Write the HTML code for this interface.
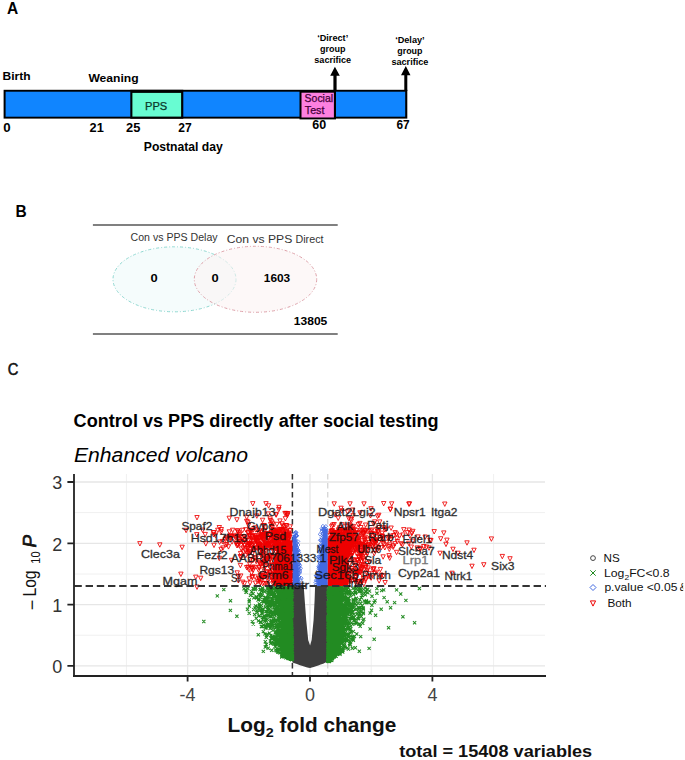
<!DOCTYPE html>
<html><head><meta charset="utf-8"><style>
html,body{margin:0;padding:0;background:#fff;}
svg{display:block;font-family:"Liberation Sans", sans-serif;}
</style></head><body>
<svg width="685" height="760" viewBox="0 0 685 760">
<rect width="685" height="760" fill="#fff"/>
<text x="7.0" y="13.5" font-size="16" font-weight="bold" textLength="11.2" lengthAdjust="spacingAndGlyphs" >A</text>
<text x="2.6" y="79.7" font-size="11.5" font-weight="bold" textLength="28.0" lengthAdjust="spacingAndGlyphs" >Birth</text>
<text x="88.4" y="81.6" font-size="11" font-weight="bold" textLength="50.3" lengthAdjust="spacingAndGlyphs" >Weaning</text>
<rect x="3.6" y="89.8" width="403.7" height="28.8" fill="#000"/>
<rect x="5.6" y="91.7" width="399.6" height="25.0" fill="#1085ff"/>
<rect x="130.3" y="89.8" width="53.0" height="28.9" fill="#000"/>
<rect x="132.4" y="92.9" width="48.7" height="23.7" fill="#68fcd2"/>
<text x="145.0" y="109.6" font-size="10" fill="#0b3a2a" textLength="22.2" lengthAdjust="spacingAndGlyphs" stroke="#0b3a2a" stroke-width="0.25">PPS</text>
<rect x="299.5" y="90.8" width="36.5" height="28.6" fill="#000"/>
<rect x="301.5" y="92.7" width="32.4" height="24.8" fill="#fd80e0"/>
<clipPath id="sc"><rect x="301.5" y="92.7" width="32.4" height="24.8"/></clipPath>
<text x="304.6" y="101.6" font-size="10.2" fill="#45003a" textLength="28.5" lengthAdjust="spacingAndGlyphs" clip-path="url(#sc)" stroke="#45003a" stroke-width="0.25">Social</text>
<text x="304.8" y="114.2" font-size="10.2" fill="#45003a" textLength="19.6" lengthAdjust="spacingAndGlyphs" stroke="#45003a" stroke-width="0.25">Test</text>
<text x="3.2" y="131.8" font-size="12" font-weight="bold" textLength="7.4" lengthAdjust="spacingAndGlyphs" >0</text>
<text x="89.6" y="131.5" font-size="12" font-weight="bold" textLength="14.2" lengthAdjust="spacingAndGlyphs" >21</text>
<text x="126.0" y="131.5" font-size="12" font-weight="bold" textLength="14.3" lengthAdjust="spacingAndGlyphs" >25</text>
<text x="178.2" y="131.8" font-size="12" font-weight="bold" textLength="13.4" lengthAdjust="spacingAndGlyphs" >27</text>
<text x="312.2" y="129.1" font-size="12" font-weight="bold" textLength="13.9" lengthAdjust="spacingAndGlyphs" >60</text>
<text x="396.4" y="129.2" font-size="12" font-weight="bold" textLength="13.2" lengthAdjust="spacingAndGlyphs" >67</text>
<text x="143.8" y="151.2" font-size="12" font-weight="bold" textLength="79.0" lengthAdjust="spacingAndGlyphs" >Postnatal day</text>
<text x="332.7" y="41.0" font-size="9" font-weight="bold" text-anchor="middle" textLength="31.0" lengthAdjust="spacingAndGlyphs" >&#8216;Direct&#8217;</text>
<text x="332.7" y="51.8" font-size="9" font-weight="bold" text-anchor="middle" textLength="25.5" lengthAdjust="spacingAndGlyphs" >group</text>
<text x="332.7" y="63.0" font-size="9" font-weight="bold" text-anchor="middle" textLength="36.8" lengthAdjust="spacingAndGlyphs" >sacrifice</text>
<text x="409.9" y="43.4" font-size="9" font-weight="bold" text-anchor="middle" textLength="29.5" lengthAdjust="spacingAndGlyphs" >&#8216;Delay&#8217;</text>
<text x="409.9" y="53.9" font-size="9" font-weight="bold" text-anchor="middle" textLength="25.2" lengthAdjust="spacingAndGlyphs" >group</text>
<text x="409.9" y="64.5" font-size="9" font-weight="bold" text-anchor="middle" textLength="37.0" lengthAdjust="spacingAndGlyphs" >sacrifice</text>
<path d="M334.9 66.7 L339.8 75.8 L336.6 75.8 L336.6 91 L333.4 91 L333.4 75.8 L330.2 75.8 Z" fill="#000"/>
<path d="M405.8 66.0 L410.5 75.2 L407.3 75.2 L407.3 91 L404.3 91 L404.3 75.2 L401.0 75.2 Z" fill="#000"/>
<text x="15.6" y="216.7" font-size="16" font-weight="bold" textLength="11.2" lengthAdjust="spacingAndGlyphs" >B</text>
<rect x="92.9" y="224" width="244.8" height="2" fill="#808080"/>
<rect x="92.9" y="333" width="244.8" height="2" fill="#808080"/>
<ellipse cx="174.5" cy="279.3" rx="61.5" ry="32.5" fill="#f5fcfc" stroke="#8fd8d1" stroke-width="1" stroke-dasharray="3 2 1 2"/>
<ellipse cx="255.5" cy="279.3" rx="61.2" ry="33" fill="#fcf3f4" fill-opacity="0.6" stroke="#dea2aa" stroke-width="1" stroke-dasharray="3 2 1 2"/>
<text x="130.6" y="241.3" font-size="10" fill="#333" textLength="87.0" lengthAdjust="spacingAndGlyphs" >Con vs PPS Delay</text>
<text x="226.7" y="243.4" font-size="11.5" fill="#333" textLength="65.6" lengthAdjust="spacingAndGlyphs" >Con vs PPS</text>
<text x="295.5" y="243.4" font-size="10" fill="#333" textLength="28.0" lengthAdjust="spacingAndGlyphs" >Direct</text>
<text x="150.6" y="281.9" font-size="11.5" font-weight="bold" textLength="7.2" lengthAdjust="spacingAndGlyphs" >0</text>
<text x="211.4" y="282.0" font-size="11.5" font-weight="bold" textLength="7.2" lengthAdjust="spacingAndGlyphs" >0</text>
<text x="263.8" y="281.9" font-size="11.5" font-weight="bold" textLength="26.4" lengthAdjust="spacingAndGlyphs" >1603</text>
<text x="293.8" y="324.6" font-size="11.5" font-weight="bold" textLength="33.5" lengthAdjust="spacingAndGlyphs" >13805</text>
<text x="7.8" y="374.5" font-size="16" fill="#111" textLength="10.6" lengthAdjust="spacingAndGlyphs" stroke="#111" stroke-width="0.55">C</text>
<text x="73.6" y="426.9" font-size="18" font-weight="bold" textLength="365.0" lengthAdjust="spacingAndGlyphs" >Control vs PPS directly after social testing</text>
<text x="74.0" y="462.2" font-size="20" font-style="italic" textLength="174.0" lengthAdjust="spacingAndGlyphs" >Enhanced volcano</text>
<path d="M74 635.2H545 M74 574.0H545 M74 512.6H545 M126.4 474V676 M248.8 474V676 M371.2 474V676 M493.6 474V676" stroke="#f0f0f0" stroke-width="1" fill="none"/>
<path d="M74 665.9H545 M74 604.6H545 M74 543.3H545 M74 482.0H545 M187.6 474V676 M310.0 474V676 M432.4 474V676" stroke="#e6e6e6" stroke-width="1.3" fill="none"/>
<path d="M292.4 474 V676" stroke="#333" stroke-width="1.5" stroke-dasharray="5.5 3.5" fill="none"/>
<path d="M327.8 474 V676" stroke="#c8c8c8" stroke-width="1" stroke-dasharray="5.5 3.5" fill="none"/>
<path d="M292.4 586 L303.7 586 L304.7 600 L306.2 620 L308.2 640 L310.1 645.5 L311.6 640 L313.6 620 L314.6 600 L315.1 586 L327.8 586 L327.8 661.5 C322 664.5 314 667 310.2 668.1 C306 667 298 664.5 292.4 662.4 Z" fill="#3e3e3e"/>
<path d="M292.4 586 L277.2 587.0 277.4 590.0 277.8 593.0 278.2 596.0 278.6 599.0 278.9 602.0 279.2 605.0 279.5 608.0 279.8 611.0 280.1 614.0 280.4 617.0 280.7 620.0 281.1 623.0 281.5 626.0 281.9 629.0 282.3 632.0 282.7 635.0 283.3 638.0 283.9 641.0 284.5 644.0 285.1 647.0 285.7 650.0 287.0 653.0 288.3 656.0 291.2 659.0 L292.4 661 Z" fill="#228b22"/>
<path d="M327.8 586 L343.4 587.0 343.2 590.0 343.0 593.0 342.7 596.0 342.5 599.0 342.2 602.0 341.9 605.0 341.6 608.0 341.3 611.0 341.0 614.0 340.7 617.0 340.4 620.0 339.9 623.0 339.4 626.0 338.8 629.0 338.3 632.0 337.8 635.0 337.2 638.0 336.6 641.0 335.6 644.0 334.6 647.0 333.6 650.0 332.5 653.0 331.1 656.0 329.8 659.0 L327.8 662 Z" fill="#228b22"/>
<path d="M287.2 632.5l3.2 3.2m0 -3.2l-3.2 3.2M282.4 643.7l3.2 3.2m0 -3.2l-3.2 3.2M275.2 608.3l3.2 3.2m0 -3.2l-3.2 3.2M265.5 586.3l3.2 3.2m0 -3.2l-3.2 3.2M285.2 645.3l3.2 3.2m0 -3.2l-3.2 3.2M285.2 608.5l3.2 3.2m0 -3.2l-3.2 3.2M275.7 604.9l3.2 3.2m0 -3.2l-3.2 3.2M281.3 623.5l3.2 3.2m0 -3.2l-3.2 3.2M273.4 645.0l3.2 3.2m0 -3.2l-3.2 3.2M286.9 601.9l3.2 3.2m0 -3.2l-3.2 3.2M287.5 631.5l3.2 3.2m0 -3.2l-3.2 3.2M287.3 588.6l3.2 3.2m0 -3.2l-3.2 3.2M283.2 620.6l3.2 3.2m0 -3.2l-3.2 3.2M289.4 632.8l3.2 3.2m0 -3.2l-3.2 3.2M284.2 622.9l3.2 3.2m0 -3.2l-3.2 3.2M277.2 600.2l3.2 3.2m0 -3.2l-3.2 3.2M277.3 600.8l3.2 3.2m0 -3.2l-3.2 3.2M274.1 586.2l3.2 3.2m0 -3.2l-3.2 3.2M288.9 597.4l3.2 3.2m0 -3.2l-3.2 3.2M290.4 651.5l3.2 3.2m0 -3.2l-3.2 3.2M290.2 649.0l3.2 3.2m0 -3.2l-3.2 3.2M275.2 641.2l3.2 3.2m0 -3.2l-3.2 3.2M289.2 626.2l3.2 3.2m0 -3.2l-3.2 3.2M276.7 650.8l3.2 3.2m0 -3.2l-3.2 3.2M275.8 630.5l3.2 3.2m0 -3.2l-3.2 3.2M282.2 614.8l3.2 3.2m0 -3.2l-3.2 3.2M279.1 597.1l3.2 3.2m0 -3.2l-3.2 3.2M280.8 614.2l3.2 3.2m0 -3.2l-3.2 3.2M282.3 629.9l3.2 3.2m0 -3.2l-3.2 3.2M285.2 633.4l3.2 3.2m0 -3.2l-3.2 3.2M270.4 597.1l3.2 3.2m0 -3.2l-3.2 3.2M287.6 603.7l3.2 3.2m0 -3.2l-3.2 3.2M270.4 593.1l3.2 3.2m0 -3.2l-3.2 3.2M277.6 601.9l3.2 3.2m0 -3.2l-3.2 3.2M259.4 608.3l3.2 3.2m0 -3.2l-3.2 3.2M289.7 635.2l3.2 3.2m0 -3.2l-3.2 3.2M285.2 648.9l3.2 3.2m0 -3.2l-3.2 3.2M288.7 653.2l3.2 3.2m0 -3.2l-3.2 3.2M264.5 596.7l3.2 3.2m0 -3.2l-3.2 3.2M289.3 655.0l3.2 3.2m0 -3.2l-3.2 3.2M288.8 599.4l3.2 3.2m0 -3.2l-3.2 3.2M277.5 633.7l3.2 3.2m0 -3.2l-3.2 3.2M284.1 613.9l3.2 3.2m0 -3.2l-3.2 3.2M280.1 603.7l3.2 3.2m0 -3.2l-3.2 3.2M286.2 651.2l3.2 3.2m0 -3.2l-3.2 3.2M277.0 626.7l3.2 3.2m0 -3.2l-3.2 3.2M285.0 641.9l3.2 3.2m0 -3.2l-3.2 3.2M285.6 613.6l3.2 3.2m0 -3.2l-3.2 3.2M255.2 595.1l3.2 3.2m0 -3.2l-3.2 3.2M280.3 634.9l3.2 3.2m0 -3.2l-3.2 3.2M260.7 624.9l3.2 3.2m0 -3.2l-3.2 3.2M281.2 611.5l3.2 3.2m0 -3.2l-3.2 3.2M285.3 636.8l3.2 3.2m0 -3.2l-3.2 3.2M288.0 624.6l3.2 3.2m0 -3.2l-3.2 3.2M287.9 653.6l3.2 3.2m0 -3.2l-3.2 3.2M290.4 655.4l3.2 3.2m0 -3.2l-3.2 3.2M280.4 642.0l3.2 3.2m0 -3.2l-3.2 3.2M275.9 596.1l3.2 3.2m0 -3.2l-3.2 3.2M289.1 646.6l3.2 3.2m0 -3.2l-3.2 3.2M283.6 632.7l3.2 3.2m0 -3.2l-3.2 3.2M263.7 624.1l3.2 3.2m0 -3.2l-3.2 3.2M284.8 602.8l3.2 3.2m0 -3.2l-3.2 3.2M277.9 613.0l3.2 3.2m0 -3.2l-3.2 3.2M279.2 611.7l3.2 3.2m0 -3.2l-3.2 3.2M280.8 628.6l3.2 3.2m0 -3.2l-3.2 3.2M266.2 606.1l3.2 3.2m0 -3.2l-3.2 3.2M270.0 619.0l3.2 3.2m0 -3.2l-3.2 3.2M287.1 624.3l3.2 3.2m0 -3.2l-3.2 3.2M284.9 652.7l3.2 3.2m0 -3.2l-3.2 3.2M283.9 629.2l3.2 3.2m0 -3.2l-3.2 3.2M285.4 651.3l3.2 3.2m0 -3.2l-3.2 3.2M284.4 654.6l3.2 3.2m0 -3.2l-3.2 3.2M288.6 617.9l3.2 3.2m0 -3.2l-3.2 3.2M290.8 656.7l3.2 3.2m0 -3.2l-3.2 3.2M287.9 645.9l3.2 3.2m0 -3.2l-3.2 3.2M290.7 639.3l3.2 3.2m0 -3.2l-3.2 3.2M286.2 610.7l3.2 3.2m0 -3.2l-3.2 3.2M277.4 601.0l3.2 3.2m0 -3.2l-3.2 3.2M279.7 601.8l3.2 3.2m0 -3.2l-3.2 3.2M288.0 648.5l3.2 3.2m0 -3.2l-3.2 3.2M270.5 621.6l3.2 3.2m0 -3.2l-3.2 3.2M283.5 635.0l3.2 3.2m0 -3.2l-3.2 3.2M289.8 657.5l3.2 3.2m0 -3.2l-3.2 3.2M289.9 632.7l3.2 3.2m0 -3.2l-3.2 3.2M283.1 599.6l3.2 3.2m0 -3.2l-3.2 3.2M288.7 616.6l3.2 3.2m0 -3.2l-3.2 3.2M280.2 646.6l3.2 3.2m0 -3.2l-3.2 3.2M281.9 594.3l3.2 3.2m0 -3.2l-3.2 3.2M290.5 645.7l3.2 3.2m0 -3.2l-3.2 3.2M284.0 624.9l3.2 3.2m0 -3.2l-3.2 3.2M285.2 589.4l3.2 3.2m0 -3.2l-3.2 3.2M290.4 587.4l3.2 3.2m0 -3.2l-3.2 3.2M279.7 604.4l3.2 3.2m0 -3.2l-3.2 3.2M283.5 628.1l3.2 3.2m0 -3.2l-3.2 3.2M278.8 629.9l3.2 3.2m0 -3.2l-3.2 3.2M289.2 636.4l3.2 3.2m0 -3.2l-3.2 3.2M278.6 609.0l3.2 3.2m0 -3.2l-3.2 3.2M278.6 626.0l3.2 3.2m0 -3.2l-3.2 3.2M273.2 634.9l3.2 3.2m0 -3.2l-3.2 3.2M276.3 600.1l3.2 3.2m0 -3.2l-3.2 3.2M274.7 588.9l3.2 3.2m0 -3.2l-3.2 3.2M288.6 657.4l3.2 3.2m0 -3.2l-3.2 3.2M259.8 589.7l3.2 3.2m0 -3.2l-3.2 3.2M275.0 609.6l3.2 3.2m0 -3.2l-3.2 3.2M280.6 632.6l3.2 3.2m0 -3.2l-3.2 3.2M257.8 609.3l3.2 3.2m0 -3.2l-3.2 3.2M290.4 645.3l3.2 3.2m0 -3.2l-3.2 3.2M290.4 643.0l3.2 3.2m0 -3.2l-3.2 3.2M265.5 600.6l3.2 3.2m0 -3.2l-3.2 3.2M279.1 633.5l3.2 3.2m0 -3.2l-3.2 3.2M281.8 593.1l3.2 3.2m0 -3.2l-3.2 3.2M285.9 633.0l3.2 3.2m0 -3.2l-3.2 3.2M284.9 645.8l3.2 3.2m0 -3.2l-3.2 3.2M281.5 639.7l3.2 3.2m0 -3.2l-3.2 3.2M286.0 652.4l3.2 3.2m0 -3.2l-3.2 3.2M284.5 587.9l3.2 3.2m0 -3.2l-3.2 3.2M267.7 601.9l3.2 3.2m0 -3.2l-3.2 3.2M290.5 656.3l3.2 3.2m0 -3.2l-3.2 3.2M267.3 604.7l3.2 3.2m0 -3.2l-3.2 3.2M282.1 634.9l3.2 3.2m0 -3.2l-3.2 3.2M289.6 614.3l3.2 3.2m0 -3.2l-3.2 3.2M277.4 635.3l3.2 3.2m0 -3.2l-3.2 3.2M257.7 614.0l3.2 3.2m0 -3.2l-3.2 3.2M264.7 626.1l3.2 3.2m0 -3.2l-3.2 3.2M279.7 604.3l3.2 3.2m0 -3.2l-3.2 3.2M271.8 620.0l3.2 3.2m0 -3.2l-3.2 3.2M279.2 642.0l3.2 3.2m0 -3.2l-3.2 3.2M273.0 608.2l3.2 3.2m0 -3.2l-3.2 3.2M290.3 642.8l3.2 3.2m0 -3.2l-3.2 3.2M290.1 595.8l3.2 3.2m0 -3.2l-3.2 3.2M280.9 592.0l3.2 3.2m0 -3.2l-3.2 3.2M274.1 606.0l3.2 3.2m0 -3.2l-3.2 3.2M285.0 647.9l3.2 3.2m0 -3.2l-3.2 3.2M269.4 599.8l3.2 3.2m0 -3.2l-3.2 3.2M290.8 651.8l3.2 3.2m0 -3.2l-3.2 3.2M272.4 638.9l3.2 3.2m0 -3.2l-3.2 3.2M286.0 640.1l3.2 3.2m0 -3.2l-3.2 3.2M287.6 647.4l3.2 3.2m0 -3.2l-3.2 3.2M287.0 613.5l3.2 3.2m0 -3.2l-3.2 3.2M289.7 624.5l3.2 3.2m0 -3.2l-3.2 3.2M286.3 600.1l3.2 3.2m0 -3.2l-3.2 3.2M275.0 625.8l3.2 3.2m0 -3.2l-3.2 3.2M290.8 652.7l3.2 3.2m0 -3.2l-3.2 3.2M281.5 599.6l3.2 3.2m0 -3.2l-3.2 3.2M269.2 633.9l3.2 3.2m0 -3.2l-3.2 3.2M287.3 655.9l3.2 3.2m0 -3.2l-3.2 3.2M289.8 643.8l3.2 3.2m0 -3.2l-3.2 3.2M287.8 633.7l3.2 3.2m0 -3.2l-3.2 3.2M290.3 642.5l3.2 3.2m0 -3.2l-3.2 3.2M285.0 639.6l3.2 3.2m0 -3.2l-3.2 3.2M282.1 614.1l3.2 3.2m0 -3.2l-3.2 3.2M261.1 588.4l3.2 3.2m0 -3.2l-3.2 3.2M289.9 626.3l3.2 3.2m0 -3.2l-3.2 3.2M276.2 626.7l3.2 3.2m0 -3.2l-3.2 3.2M277.7 614.3l3.2 3.2m0 -3.2l-3.2 3.2M289.6 654.4l3.2 3.2m0 -3.2l-3.2 3.2M288.9 596.2l3.2 3.2m0 -3.2l-3.2 3.2M276.1 596.9l3.2 3.2m0 -3.2l-3.2 3.2M284.2 647.4l3.2 3.2m0 -3.2l-3.2 3.2M266.8 595.1l3.2 3.2m0 -3.2l-3.2 3.2M280.2 594.6l3.2 3.2m0 -3.2l-3.2 3.2M288.3 628.7l3.2 3.2m0 -3.2l-3.2 3.2M280.9 641.8l3.2 3.2m0 -3.2l-3.2 3.2M280.1 654.0l3.2 3.2m0 -3.2l-3.2 3.2M288.9 643.2l3.2 3.2m0 -3.2l-3.2 3.2M286.3 621.2l3.2 3.2m0 -3.2l-3.2 3.2M273.5 609.3l3.2 3.2m0 -3.2l-3.2 3.2M281.3 639.5l3.2 3.2m0 -3.2l-3.2 3.2M263.0 590.1l3.2 3.2m0 -3.2l-3.2 3.2M287.3 652.1l3.2 3.2m0 -3.2l-3.2 3.2M287.6 604.3l3.2 3.2m0 -3.2l-3.2 3.2M268.6 602.8l3.2 3.2m0 -3.2l-3.2 3.2M270.6 623.4l3.2 3.2m0 -3.2l-3.2 3.2M274.9 599.0l3.2 3.2m0 -3.2l-3.2 3.2M283.8 622.0l3.2 3.2m0 -3.2l-3.2 3.2M288.5 635.8l3.2 3.2m0 -3.2l-3.2 3.2M286.8 625.2l3.2 3.2m0 -3.2l-3.2 3.2M290.3 624.4l3.2 3.2m0 -3.2l-3.2 3.2M289.7 625.8l3.2 3.2m0 -3.2l-3.2 3.2M273.6 644.8l3.2 3.2m0 -3.2l-3.2 3.2M289.9 599.3l3.2 3.2m0 -3.2l-3.2 3.2M284.0 594.3l3.2 3.2m0 -3.2l-3.2 3.2M285.7 656.0l3.2 3.2m0 -3.2l-3.2 3.2M288.3 601.4l3.2 3.2m0 -3.2l-3.2 3.2M285.7 623.0l3.2 3.2m0 -3.2l-3.2 3.2M279.0 588.9l3.2 3.2m0 -3.2l-3.2 3.2M288.1 630.6l3.2 3.2m0 -3.2l-3.2 3.2M271.7 603.5l3.2 3.2m0 -3.2l-3.2 3.2M289.6 651.5l3.2 3.2m0 -3.2l-3.2 3.2M289.8 647.7l3.2 3.2m0 -3.2l-3.2 3.2M278.9 638.6l3.2 3.2m0 -3.2l-3.2 3.2M278.6 636.7l3.2 3.2m0 -3.2l-3.2 3.2M282.7 608.4l3.2 3.2m0 -3.2l-3.2 3.2M287.0 642.3l3.2 3.2m0 -3.2l-3.2 3.2M284.1 654.4l3.2 3.2m0 -3.2l-3.2 3.2M278.5 610.4l3.2 3.2m0 -3.2l-3.2 3.2M287.1 597.5l3.2 3.2m0 -3.2l-3.2 3.2M259.8 592.7l3.2 3.2m0 -3.2l-3.2 3.2M288.6 628.8l3.2 3.2m0 -3.2l-3.2 3.2M284.8 606.9l3.2 3.2m0 -3.2l-3.2 3.2M288.5 638.3l3.2 3.2m0 -3.2l-3.2 3.2M288.4 656.7l3.2 3.2m0 -3.2l-3.2 3.2M284.0 616.8l3.2 3.2m0 -3.2l-3.2 3.2M279.5 648.1l3.2 3.2m0 -3.2l-3.2 3.2M275.4 635.8l3.2 3.2m0 -3.2l-3.2 3.2M286.9 627.0l3.2 3.2m0 -3.2l-3.2 3.2M244.7 590.8l3.2 3.2m0 -3.2l-3.2 3.2M261.0 587.0l3.2 3.2m0 -3.2l-3.2 3.2M288.5 620.8l3.2 3.2m0 -3.2l-3.2 3.2M286.8 639.6l3.2 3.2m0 -3.2l-3.2 3.2M277.9 640.3l3.2 3.2m0 -3.2l-3.2 3.2M286.4 627.8l3.2 3.2m0 -3.2l-3.2 3.2M288.5 655.3l3.2 3.2m0 -3.2l-3.2 3.2M290.1 619.6l3.2 3.2m0 -3.2l-3.2 3.2M280.0 626.9l3.2 3.2m0 -3.2l-3.2 3.2M277.9 630.1l3.2 3.2m0 -3.2l-3.2 3.2M290.0 600.5l3.2 3.2m0 -3.2l-3.2 3.2M265.2 600.6l3.2 3.2m0 -3.2l-3.2 3.2M284.3 641.8l3.2 3.2m0 -3.2l-3.2 3.2M279.7 627.1l3.2 3.2m0 -3.2l-3.2 3.2M269.6 620.6l3.2 3.2m0 -3.2l-3.2 3.2M287.4 646.9l3.2 3.2m0 -3.2l-3.2 3.2M281.8 633.7l3.2 3.2m0 -3.2l-3.2 3.2M288.8 627.5l3.2 3.2m0 -3.2l-3.2 3.2M290.3 641.3l3.2 3.2m0 -3.2l-3.2 3.2M289.4 620.7l3.2 3.2m0 -3.2l-3.2 3.2M277.7 623.4l3.2 3.2m0 -3.2l-3.2 3.2M290.5 647.5l3.2 3.2m0 -3.2l-3.2 3.2M285.5 648.8l3.2 3.2m0 -3.2l-3.2 3.2M264.8 619.2l3.2 3.2m0 -3.2l-3.2 3.2M289.2 588.5l3.2 3.2m0 -3.2l-3.2 3.2M279.4 650.0l3.2 3.2m0 -3.2l-3.2 3.2M281.1 627.5l3.2 3.2m0 -3.2l-3.2 3.2M286.5 636.4l3.2 3.2m0 -3.2l-3.2 3.2M280.2 617.2l3.2 3.2m0 -3.2l-3.2 3.2M278.8 607.7l3.2 3.2m0 -3.2l-3.2 3.2M276.7 618.0l3.2 3.2m0 -3.2l-3.2 3.2M264.4 619.2l3.2 3.2m0 -3.2l-3.2 3.2M286.7 629.2l3.2 3.2m0 -3.2l-3.2 3.2M290.6 652.1l3.2 3.2m0 -3.2l-3.2 3.2M290.0 605.8l3.2 3.2m0 -3.2l-3.2 3.2M276.5 622.7l3.2 3.2m0 -3.2l-3.2 3.2M272.5 591.4l3.2 3.2m0 -3.2l-3.2 3.2M278.3 600.7l3.2 3.2m0 -3.2l-3.2 3.2M282.6 647.6l3.2 3.2m0 -3.2l-3.2 3.2M285.8 621.2l3.2 3.2m0 -3.2l-3.2 3.2M250.7 620.0l3.2 3.2m0 -3.2l-3.2 3.2M276.6 626.6l3.2 3.2m0 -3.2l-3.2 3.2M274.0 609.5l3.2 3.2m0 -3.2l-3.2 3.2M276.4 643.3l3.2 3.2m0 -3.2l-3.2 3.2M276.6 640.5l3.2 3.2m0 -3.2l-3.2 3.2M285.0 619.1l3.2 3.2m0 -3.2l-3.2 3.2M269.6 636.8l3.2 3.2m0 -3.2l-3.2 3.2M290.4 633.8l3.2 3.2m0 -3.2l-3.2 3.2M289.7 633.4l3.2 3.2m0 -3.2l-3.2 3.2M289.9 621.4l3.2 3.2m0 -3.2l-3.2 3.2M275.2 632.9l3.2 3.2m0 -3.2l-3.2 3.2M290.6 657.6l3.2 3.2m0 -3.2l-3.2 3.2M289.8 608.7l3.2 3.2m0 -3.2l-3.2 3.2M277.3 590.9l3.2 3.2m0 -3.2l-3.2 3.2M280.8 643.4l3.2 3.2m0 -3.2l-3.2 3.2M289.1 600.5l3.2 3.2m0 -3.2l-3.2 3.2M288.0 609.8l3.2 3.2m0 -3.2l-3.2 3.2M277.7 622.3l3.2 3.2m0 -3.2l-3.2 3.2M284.4 634.8l3.2 3.2m0 -3.2l-3.2 3.2M290.8 643.1l3.2 3.2m0 -3.2l-3.2 3.2M289.8 611.5l3.2 3.2m0 -3.2l-3.2 3.2M281.9 618.5l3.2 3.2m0 -3.2l-3.2 3.2M254.9 596.5l3.2 3.2m0 -3.2l-3.2 3.2M289.0 633.6l3.2 3.2m0 -3.2l-3.2 3.2M283.4 596.2l3.2 3.2m0 -3.2l-3.2 3.2M275.3 607.0l3.2 3.2m0 -3.2l-3.2 3.2M280.5 587.8l3.2 3.2m0 -3.2l-3.2 3.2M270.3 598.2l3.2 3.2m0 -3.2l-3.2 3.2M288.1 587.0l3.2 3.2m0 -3.2l-3.2 3.2M283.8 606.0l3.2 3.2m0 -3.2l-3.2 3.2M262.8 599.6l3.2 3.2m0 -3.2l-3.2 3.2M287.2 616.2l3.2 3.2m0 -3.2l-3.2 3.2M287.5 646.8l3.2 3.2m0 -3.2l-3.2 3.2M289.5 654.7l3.2 3.2m0 -3.2l-3.2 3.2M285.9 635.7l3.2 3.2m0 -3.2l-3.2 3.2M273.3 635.3l3.2 3.2m0 -3.2l-3.2 3.2M279.6 643.4l3.2 3.2m0 -3.2l-3.2 3.2M290.3 656.9l3.2 3.2m0 -3.2l-3.2 3.2M274.2 594.4l3.2 3.2m0 -3.2l-3.2 3.2M243.8 588.3l3.2 3.2m0 -3.2l-3.2 3.2M282.9 654.1l3.2 3.2m0 -3.2l-3.2 3.2M283.0 631.5l3.2 3.2m0 -3.2l-3.2 3.2M286.6 636.4l3.2 3.2m0 -3.2l-3.2 3.2M286.7 656.9l3.2 3.2m0 -3.2l-3.2 3.2M289.2 610.9l3.2 3.2m0 -3.2l-3.2 3.2M267.2 587.3l3.2 3.2m0 -3.2l-3.2 3.2M286.1 637.6l3.2 3.2m0 -3.2l-3.2 3.2M289.9 649.3l3.2 3.2m0 -3.2l-3.2 3.2M278.9 611.0l3.2 3.2m0 -3.2l-3.2 3.2M278.1 595.8l3.2 3.2m0 -3.2l-3.2 3.2M274.0 608.5l3.2 3.2m0 -3.2l-3.2 3.2M289.3 655.0l3.2 3.2m0 -3.2l-3.2 3.2M284.8 652.8l3.2 3.2m0 -3.2l-3.2 3.2M286.3 649.5l3.2 3.2m0 -3.2l-3.2 3.2M285.0 586.1l3.2 3.2m0 -3.2l-3.2 3.2M284.9 604.2l3.2 3.2m0 -3.2l-3.2 3.2M283.0 645.5l3.2 3.2m0 -3.2l-3.2 3.2M285.2 601.7l3.2 3.2m0 -3.2l-3.2 3.2M289.3 655.9l3.2 3.2m0 -3.2l-3.2 3.2M290.6 638.2l3.2 3.2m0 -3.2l-3.2 3.2M266.6 646.6l3.2 3.2m0 -3.2l-3.2 3.2M283.5 624.3l3.2 3.2m0 -3.2l-3.2 3.2M268.5 626.9l3.2 3.2m0 -3.2l-3.2 3.2M285.2 592.2l3.2 3.2m0 -3.2l-3.2 3.2M283.2 642.9l3.2 3.2m0 -3.2l-3.2 3.2M290.2 609.2l3.2 3.2m0 -3.2l-3.2 3.2M262.8 619.8l3.2 3.2m0 -3.2l-3.2 3.2M290.0 607.7l3.2 3.2m0 -3.2l-3.2 3.2M274.6 633.3l3.2 3.2m0 -3.2l-3.2 3.2M268.7 614.1l3.2 3.2m0 -3.2l-3.2 3.2M288.8 637.9l3.2 3.2m0 -3.2l-3.2 3.2M276.2 587.9l3.2 3.2m0 -3.2l-3.2 3.2M274.8 639.1l3.2 3.2m0 -3.2l-3.2 3.2M287.3 640.3l3.2 3.2m0 -3.2l-3.2 3.2M269.3 620.9l3.2 3.2m0 -3.2l-3.2 3.2M283.7 619.3l3.2 3.2m0 -3.2l-3.2 3.2M283.3 608.7l3.2 3.2m0 -3.2l-3.2 3.2M286.8 602.3l3.2 3.2m0 -3.2l-3.2 3.2M275.4 598.8l3.2 3.2m0 -3.2l-3.2 3.2M287.9 620.6l3.2 3.2m0 -3.2l-3.2 3.2M283.9 640.9l3.2 3.2m0 -3.2l-3.2 3.2M276.0 606.2l3.2 3.2m0 -3.2l-3.2 3.2M286.0 623.7l3.2 3.2m0 -3.2l-3.2 3.2M287.1 595.2l3.2 3.2m0 -3.2l-3.2 3.2M281.9 621.2l3.2 3.2m0 -3.2l-3.2 3.2M268.8 590.9l3.2 3.2m0 -3.2l-3.2 3.2M276.3 650.4l3.2 3.2m0 -3.2l-3.2 3.2M286.7 586.3l3.2 3.2m0 -3.2l-3.2 3.2M288.9 613.4l3.2 3.2m0 -3.2l-3.2 3.2M288.7 591.4l3.2 3.2m0 -3.2l-3.2 3.2M283.5 646.4l3.2 3.2m0 -3.2l-3.2 3.2M270.3 619.7l3.2 3.2m0 -3.2l-3.2 3.2M279.0 609.7l3.2 3.2m0 -3.2l-3.2 3.2M287.6 615.1l3.2 3.2m0 -3.2l-3.2 3.2M284.8 592.0l3.2 3.2m0 -3.2l-3.2 3.2M288.8 656.9l3.2 3.2m0 -3.2l-3.2 3.2M278.7 634.1l3.2 3.2m0 -3.2l-3.2 3.2M290.5 628.4l3.2 3.2m0 -3.2l-3.2 3.2M286.4 629.8l3.2 3.2m0 -3.2l-3.2 3.2M281.6 626.9l3.2 3.2m0 -3.2l-3.2 3.2M277.6 629.3l3.2 3.2m0 -3.2l-3.2 3.2M247.7 598.3l3.2 3.2m0 -3.2l-3.2 3.2M289.8 646.8l3.2 3.2m0 -3.2l-3.2 3.2M263.7 626.5l3.2 3.2m0 -3.2l-3.2 3.2M285.4 615.9l3.2 3.2m0 -3.2l-3.2 3.2M283.3 613.6l3.2 3.2m0 -3.2l-3.2 3.2M285.1 637.1l3.2 3.2m0 -3.2l-3.2 3.2M260.6 593.9l3.2 3.2m0 -3.2l-3.2 3.2M287.4 654.7l3.2 3.2m0 -3.2l-3.2 3.2M279.1 604.5l3.2 3.2m0 -3.2l-3.2 3.2M289.3 649.2l3.2 3.2m0 -3.2l-3.2 3.2M278.2 589.2l3.2 3.2m0 -3.2l-3.2 3.2M262.5 600.2l3.2 3.2m0 -3.2l-3.2 3.2M287.1 654.6l3.2 3.2m0 -3.2l-3.2 3.2M280.6 598.7l3.2 3.2m0 -3.2l-3.2 3.2M259.8 624.9l3.2 3.2m0 -3.2l-3.2 3.2M287.1 618.5l3.2 3.2m0 -3.2l-3.2 3.2M260.6 612.2l3.2 3.2m0 -3.2l-3.2 3.2M272.9 641.8l3.2 3.2m0 -3.2l-3.2 3.2M280.1 646.1l3.2 3.2m0 -3.2l-3.2 3.2M290.1 644.1l3.2 3.2m0 -3.2l-3.2 3.2M288.4 650.8l3.2 3.2m0 -3.2l-3.2 3.2M286.6 619.9l3.2 3.2m0 -3.2l-3.2 3.2M286.5 623.7l3.2 3.2m0 -3.2l-3.2 3.2M281.5 596.3l3.2 3.2m0 -3.2l-3.2 3.2M260.0 589.8l3.2 3.2m0 -3.2l-3.2 3.2M258.6 595.6l3.2 3.2m0 -3.2l-3.2 3.2M270.6 612.5l3.2 3.2m0 -3.2l-3.2 3.2M280.0 606.8l3.2 3.2m0 -3.2l-3.2 3.2M289.9 610.6l3.2 3.2m0 -3.2l-3.2 3.2M286.1 605.0l3.2 3.2m0 -3.2l-3.2 3.2M286.5 642.1l3.2 3.2m0 -3.2l-3.2 3.2M283.9 652.0l3.2 3.2m0 -3.2l-3.2 3.2M255.1 609.0l3.2 3.2m0 -3.2l-3.2 3.2M286.9 604.8l3.2 3.2m0 -3.2l-3.2 3.2M280.5 618.5l3.2 3.2m0 -3.2l-3.2 3.2M289.9 655.6l3.2 3.2m0 -3.2l-3.2 3.2M287.9 639.0l3.2 3.2m0 -3.2l-3.2 3.2M263.8 595.7l3.2 3.2m0 -3.2l-3.2 3.2M289.9 637.7l3.2 3.2m0 -3.2l-3.2 3.2M282.4 653.4l3.2 3.2m0 -3.2l-3.2 3.2M278.8 592.8l3.2 3.2m0 -3.2l-3.2 3.2M288.1 655.8l3.2 3.2m0 -3.2l-3.2 3.2M283.6 654.3l3.2 3.2m0 -3.2l-3.2 3.2M277.2 590.9l3.2 3.2m0 -3.2l-3.2 3.2M281.3 620.1l3.2 3.2m0 -3.2l-3.2 3.2M281.4 640.8l3.2 3.2m0 -3.2l-3.2 3.2M265.2 597.6l3.2 3.2m0 -3.2l-3.2 3.2M285.3 616.5l3.2 3.2m0 -3.2l-3.2 3.2M280.9 652.3l3.2 3.2m0 -3.2l-3.2 3.2M266.1 605.7l3.2 3.2m0 -3.2l-3.2 3.2M287.6 656.1l3.2 3.2m0 -3.2l-3.2 3.2M284.2 613.7l3.2 3.2m0 -3.2l-3.2 3.2M261.6 616.1l3.2 3.2m0 -3.2l-3.2 3.2M289.2 619.3l3.2 3.2m0 -3.2l-3.2 3.2M289.3 618.1l3.2 3.2m0 -3.2l-3.2 3.2M290.1 590.4l3.2 3.2m0 -3.2l-3.2 3.2M285.3 628.0l3.2 3.2m0 -3.2l-3.2 3.2M287.1 645.7l3.2 3.2m0 -3.2l-3.2 3.2M288.1 603.3l3.2 3.2m0 -3.2l-3.2 3.2M287.5 608.5l3.2 3.2m0 -3.2l-3.2 3.2M266.2 613.8l3.2 3.2m0 -3.2l-3.2 3.2M276.2 633.3l3.2 3.2m0 -3.2l-3.2 3.2M285.8 593.8l3.2 3.2m0 -3.2l-3.2 3.2M283.7 642.3l3.2 3.2m0 -3.2l-3.2 3.2M283.1 633.3l3.2 3.2m0 -3.2l-3.2 3.2M280.1 616.0l3.2 3.2m0 -3.2l-3.2 3.2M274.9 604.8l3.2 3.2m0 -3.2l-3.2 3.2M278.3 631.3l3.2 3.2m0 -3.2l-3.2 3.2M276.4 597.4l3.2 3.2m0 -3.2l-3.2 3.2M270.1 591.9l3.2 3.2m0 -3.2l-3.2 3.2M290.3 601.0l3.2 3.2m0 -3.2l-3.2 3.2M274.8 600.8l3.2 3.2m0 -3.2l-3.2 3.2M257.4 607.3l3.2 3.2m0 -3.2l-3.2 3.2M290.4 656.7l3.2 3.2m0 -3.2l-3.2 3.2M266.9 624.7l3.2 3.2m0 -3.2l-3.2 3.2M282.2 638.2l3.2 3.2m0 -3.2l-3.2 3.2M289.6 610.3l3.2 3.2m0 -3.2l-3.2 3.2M279.1 588.5l3.2 3.2m0 -3.2l-3.2 3.2M269.7 591.6l3.2 3.2m0 -3.2l-3.2 3.2M268.4 610.7l3.2 3.2m0 -3.2l-3.2 3.2M269.3 588.2l3.2 3.2m0 -3.2l-3.2 3.2M277.2 618.3l3.2 3.2m0 -3.2l-3.2 3.2M289.1 638.7l3.2 3.2m0 -3.2l-3.2 3.2M278.3 604.2l3.2 3.2m0 -3.2l-3.2 3.2M290.3 652.8l3.2 3.2m0 -3.2l-3.2 3.2M269.2 592.8l3.2 3.2m0 -3.2l-3.2 3.2M258.4 588.0l3.2 3.2m0 -3.2l-3.2 3.2M290.5 587.8l3.2 3.2m0 -3.2l-3.2 3.2M274.9 633.1l3.2 3.2m0 -3.2l-3.2 3.2M276.9 597.5l3.2 3.2m0 -3.2l-3.2 3.2M277.4 610.9l3.2 3.2m0 -3.2l-3.2 3.2M276.9 592.3l3.2 3.2m0 -3.2l-3.2 3.2M289.1 636.3l3.2 3.2m0 -3.2l-3.2 3.2M279.4 631.9l3.2 3.2m0 -3.2l-3.2 3.2M283.4 605.3l3.2 3.2m0 -3.2l-3.2 3.2M289.8 656.8l3.2 3.2m0 -3.2l-3.2 3.2M287.5 633.6l3.2 3.2m0 -3.2l-3.2 3.2M288.3 587.0l3.2 3.2m0 -3.2l-3.2 3.2M290.4 590.9l3.2 3.2m0 -3.2l-3.2 3.2M280.2 637.5l3.2 3.2m0 -3.2l-3.2 3.2M284.6 644.5l3.2 3.2m0 -3.2l-3.2 3.2M287.7 599.1l3.2 3.2m0 -3.2l-3.2 3.2M281.9 649.3l3.2 3.2m0 -3.2l-3.2 3.2M257.9 604.1l3.2 3.2m0 -3.2l-3.2 3.2M279.8 615.9l3.2 3.2m0 -3.2l-3.2 3.2M289.4 623.5l3.2 3.2m0 -3.2l-3.2 3.2M271.8 618.9l3.2 3.2m0 -3.2l-3.2 3.2M290.3 639.0l3.2 3.2m0 -3.2l-3.2 3.2M289.5 650.6l3.2 3.2m0 -3.2l-3.2 3.2M286.5 609.5l3.2 3.2m0 -3.2l-3.2 3.2M290.7 655.9l3.2 3.2m0 -3.2l-3.2 3.2M281.5 593.1l3.2 3.2m0 -3.2l-3.2 3.2M281.9 629.0l3.2 3.2m0 -3.2l-3.2 3.2M289.9 624.0l3.2 3.2m0 -3.2l-3.2 3.2M284.2 618.3l3.2 3.2m0 -3.2l-3.2 3.2M290.3 656.6l3.2 3.2m0 -3.2l-3.2 3.2M279.2 648.0l3.2 3.2m0 -3.2l-3.2 3.2M284.2 640.3l3.2 3.2m0 -3.2l-3.2 3.2M269.9 601.5l3.2 3.2m0 -3.2l-3.2 3.2M266.4 586.9l3.2 3.2m0 -3.2l-3.2 3.2M275.2 600.4l3.2 3.2m0 -3.2l-3.2 3.2M285.4 626.1l3.2 3.2m0 -3.2l-3.2 3.2M281.4 617.8l3.2 3.2m0 -3.2l-3.2 3.2M290.2 590.1l3.2 3.2m0 -3.2l-3.2 3.2M281.6 587.3l3.2 3.2m0 -3.2l-3.2 3.2M290.4 614.3l3.2 3.2m0 -3.2l-3.2 3.2M284.1 607.9l3.2 3.2m0 -3.2l-3.2 3.2M287.2 598.8l3.2 3.2m0 -3.2l-3.2 3.2M289.0 657.4l3.2 3.2m0 -3.2l-3.2 3.2M258.7 620.6l3.2 3.2m0 -3.2l-3.2 3.2M278.0 607.5l3.2 3.2m0 -3.2l-3.2 3.2M261.3 607.3l3.2 3.2m0 -3.2l-3.2 3.2M260.6 610.8l3.2 3.2m0 -3.2l-3.2 3.2M287.6 654.9l3.2 3.2m0 -3.2l-3.2 3.2M284.2 646.0l3.2 3.2m0 -3.2l-3.2 3.2M284.0 614.1l3.2 3.2m0 -3.2l-3.2 3.2M289.4 591.1l3.2 3.2m0 -3.2l-3.2 3.2M263.2 632.3l3.2 3.2m0 -3.2l-3.2 3.2M279.0 635.8l3.2 3.2m0 -3.2l-3.2 3.2M285.2 652.1l3.2 3.2m0 -3.2l-3.2 3.2M275.4 599.2l3.2 3.2m0 -3.2l-3.2 3.2M264.7 601.0l3.2 3.2m0 -3.2l-3.2 3.2M287.4 651.3l3.2 3.2m0 -3.2l-3.2 3.2M288.4 600.8l3.2 3.2m0 -3.2l-3.2 3.2M290.5 607.6l3.2 3.2m0 -3.2l-3.2 3.2M280.8 595.5l3.2 3.2m0 -3.2l-3.2 3.2M289.1 654.6l3.2 3.2m0 -3.2l-3.2 3.2M287.8 586.9l3.2 3.2m0 -3.2l-3.2 3.2M275.2 595.9l3.2 3.2m0 -3.2l-3.2 3.2M285.7 629.4l3.2 3.2m0 -3.2l-3.2 3.2M278.8 617.9l3.2 3.2m0 -3.2l-3.2 3.2M286.3 635.4l3.2 3.2m0 -3.2l-3.2 3.2M260.8 615.6l3.2 3.2m0 -3.2l-3.2 3.2M280.6 653.3l3.2 3.2m0 -3.2l-3.2 3.2M283.8 639.4l3.2 3.2m0 -3.2l-3.2 3.2M288.1 652.5l3.2 3.2m0 -3.2l-3.2 3.2M290.1 623.5l3.2 3.2m0 -3.2l-3.2 3.2M270.2 636.0l3.2 3.2m0 -3.2l-3.2 3.2M252.3 596.1l3.2 3.2m0 -3.2l-3.2 3.2M277.3 588.1l3.2 3.2m0 -3.2l-3.2 3.2M290.4 657.3l3.2 3.2m0 -3.2l-3.2 3.2M266.4 597.9l3.2 3.2m0 -3.2l-3.2 3.2M271.7 592.3l3.2 3.2m0 -3.2l-3.2 3.2M278.6 630.0l3.2 3.2m0 -3.2l-3.2 3.2M272.1 594.0l3.2 3.2m0 -3.2l-3.2 3.2M278.5 645.8l3.2 3.2m0 -3.2l-3.2 3.2M285.3 596.2l3.2 3.2m0 -3.2l-3.2 3.2M283.9 632.8l3.2 3.2m0 -3.2l-3.2 3.2M289.4 650.3l3.2 3.2m0 -3.2l-3.2 3.2M277.6 624.0l3.2 3.2m0 -3.2l-3.2 3.2M287.6 627.9l3.2 3.2m0 -3.2l-3.2 3.2M290.3 640.4l3.2 3.2m0 -3.2l-3.2 3.2M287.7 639.5l3.2 3.2m0 -3.2l-3.2 3.2M285.6 616.8l3.2 3.2m0 -3.2l-3.2 3.2M286.3 599.0l3.2 3.2m0 -3.2l-3.2 3.2M289.5 639.5l3.2 3.2m0 -3.2l-3.2 3.2M282.8 651.0l3.2 3.2m0 -3.2l-3.2 3.2M278.4 620.5l3.2 3.2m0 -3.2l-3.2 3.2M285.7 654.4l3.2 3.2m0 -3.2l-3.2 3.2M283.2 637.7l3.2 3.2m0 -3.2l-3.2 3.2M287.1 655.6l3.2 3.2m0 -3.2l-3.2 3.2M270.0 588.1l3.2 3.2m0 -3.2l-3.2 3.2M282.1 631.0l3.2 3.2m0 -3.2l-3.2 3.2M280.5 622.9l3.2 3.2m0 -3.2l-3.2 3.2M284.5 626.8l3.2 3.2m0 -3.2l-3.2 3.2M273.0 613.3l3.2 3.2m0 -3.2l-3.2 3.2M280.0 630.8l3.2 3.2m0 -3.2l-3.2 3.2M287.7 655.7l3.2 3.2m0 -3.2l-3.2 3.2M289.4 628.3l3.2 3.2m0 -3.2l-3.2 3.2M268.6 613.6l3.2 3.2m0 -3.2l-3.2 3.2M271.4 594.8l3.2 3.2m0 -3.2l-3.2 3.2M288.1 634.5l3.2 3.2m0 -3.2l-3.2 3.2M288.2 643.9l3.2 3.2m0 -3.2l-3.2 3.2M283.9 652.6l3.2 3.2m0 -3.2l-3.2 3.2M290.8 594.8l3.2 3.2m0 -3.2l-3.2 3.2M288.9 619.4l3.2 3.2m0 -3.2l-3.2 3.2M278.4 624.2l3.2 3.2m0 -3.2l-3.2 3.2M280.4 626.8l3.2 3.2m0 -3.2l-3.2 3.2M285.6 649.7l3.2 3.2m0 -3.2l-3.2 3.2M261.7 630.0l3.2 3.2m0 -3.2l-3.2 3.2M286.5 620.2l3.2 3.2m0 -3.2l-3.2 3.2M276.8 593.1l3.2 3.2m0 -3.2l-3.2 3.2M289.5 652.1l3.2 3.2m0 -3.2l-3.2 3.2M289.3 650.7l3.2 3.2m0 -3.2l-3.2 3.2M282.9 639.2l3.2 3.2m0 -3.2l-3.2 3.2M283.7 605.7l3.2 3.2m0 -3.2l-3.2 3.2M290.2 630.0l3.2 3.2m0 -3.2l-3.2 3.2M290.0 655.3l3.2 3.2m0 -3.2l-3.2 3.2M284.7 600.3l3.2 3.2m0 -3.2l-3.2 3.2M287.7 646.8l3.2 3.2m0 -3.2l-3.2 3.2M289.1 624.0l3.2 3.2m0 -3.2l-3.2 3.2M281.9 634.7l3.2 3.2m0 -3.2l-3.2 3.2M266.8 592.4l3.2 3.2m0 -3.2l-3.2 3.2M285.8 651.5l3.2 3.2m0 -3.2l-3.2 3.2M278.4 589.9l3.2 3.2m0 -3.2l-3.2 3.2M280.0 614.6l3.2 3.2m0 -3.2l-3.2 3.2M280.9 629.6l3.2 3.2m0 -3.2l-3.2 3.2M279.5 611.1l3.2 3.2m0 -3.2l-3.2 3.2M290.3 631.6l3.2 3.2m0 -3.2l-3.2 3.2M283.8 638.5l3.2 3.2m0 -3.2l-3.2 3.2M284.1 646.6l3.2 3.2m0 -3.2l-3.2 3.2M290.5 657.7l3.2 3.2m0 -3.2l-3.2 3.2M281.9 595.4l3.2 3.2m0 -3.2l-3.2 3.2M252.1 608.0l3.2 3.2m0 -3.2l-3.2 3.2M289.1 631.3l3.2 3.2m0 -3.2l-3.2 3.2M279.7 592.4l3.2 3.2m0 -3.2l-3.2 3.2M271.6 590.8l3.2 3.2m0 -3.2l-3.2 3.2M284.4 651.2l3.2 3.2m0 -3.2l-3.2 3.2M289.1 595.4l3.2 3.2m0 -3.2l-3.2 3.2M278.9 621.6l3.2 3.2m0 -3.2l-3.2 3.2M288.4 616.3l3.2 3.2m0 -3.2l-3.2 3.2M285.3 654.1l3.2 3.2m0 -3.2l-3.2 3.2M276.8 597.9l3.2 3.2m0 -3.2l-3.2 3.2M278.0 622.5l3.2 3.2m0 -3.2l-3.2 3.2M290.0 592.4l3.2 3.2m0 -3.2l-3.2 3.2M288.8 654.0l3.2 3.2m0 -3.2l-3.2 3.2M282.7 605.4l3.2 3.2m0 -3.2l-3.2 3.2M286.9 609.7l3.2 3.2m0 -3.2l-3.2 3.2M270.1 592.2l3.2 3.2m0 -3.2l-3.2 3.2M251.5 592.1l3.2 3.2m0 -3.2l-3.2 3.2M287.3 607.7l3.2 3.2m0 -3.2l-3.2 3.2M285.8 652.5l3.2 3.2m0 -3.2l-3.2 3.2M290.7 605.0l3.2 3.2m0 -3.2l-3.2 3.2M262.7 614.8l3.2 3.2m0 -3.2l-3.2 3.2M282.5 642.8l3.2 3.2m0 -3.2l-3.2 3.2M288.3 638.2l3.2 3.2m0 -3.2l-3.2 3.2M285.5 639.2l3.2 3.2m0 -3.2l-3.2 3.2M281.2 648.6l3.2 3.2m0 -3.2l-3.2 3.2M266.1 593.3l3.2 3.2m0 -3.2l-3.2 3.2M287.8 596.1l3.2 3.2m0 -3.2l-3.2 3.2M288.1 627.6l3.2 3.2m0 -3.2l-3.2 3.2M289.7 656.5l3.2 3.2m0 -3.2l-3.2 3.2M281.4 653.8l3.2 3.2m0 -3.2l-3.2 3.2M290.5 610.3l3.2 3.2m0 -3.2l-3.2 3.2M285.6 654.1l3.2 3.2m0 -3.2l-3.2 3.2M287.2 586.6l3.2 3.2m0 -3.2l-3.2 3.2M285.8 630.5l3.2 3.2m0 -3.2l-3.2 3.2M287.4 640.5l3.2 3.2m0 -3.2l-3.2 3.2M259.5 592.7l3.2 3.2m0 -3.2l-3.2 3.2M270.3 623.5l3.2 3.2m0 -3.2l-3.2 3.2M273.8 634.9l3.2 3.2m0 -3.2l-3.2 3.2M266.8 589.4l3.2 3.2m0 -3.2l-3.2 3.2M281.7 652.8l3.2 3.2m0 -3.2l-3.2 3.2M274.0 625.6l3.2 3.2m0 -3.2l-3.2 3.2M288.2 655.9l3.2 3.2m0 -3.2l-3.2 3.2M286.6 616.4l3.2 3.2m0 -3.2l-3.2 3.2M278.4 639.4l3.2 3.2m0 -3.2l-3.2 3.2M278.7 640.8l3.2 3.2m0 -3.2l-3.2 3.2M278.9 591.5l3.2 3.2m0 -3.2l-3.2 3.2M284.9 587.2l3.2 3.2m0 -3.2l-3.2 3.2M275.4 599.0l3.2 3.2m0 -3.2l-3.2 3.2M278.4 624.8l3.2 3.2m0 -3.2l-3.2 3.2M288.4 637.1l3.2 3.2m0 -3.2l-3.2 3.2M279.5 639.2l3.2 3.2m0 -3.2l-3.2 3.2M254.6 616.7l3.2 3.2m0 -3.2l-3.2 3.2M284.5 622.7l3.2 3.2m0 -3.2l-3.2 3.2M287.6 603.9l3.2 3.2m0 -3.2l-3.2 3.2M283.8 618.7l3.2 3.2m0 -3.2l-3.2 3.2M273.9 648.3l3.2 3.2m0 -3.2l-3.2 3.2M271.9 611.5l3.2 3.2m0 -3.2l-3.2 3.2M288.3 653.1l3.2 3.2m0 -3.2l-3.2 3.2M280.5 627.2l3.2 3.2m0 -3.2l-3.2 3.2M279.9 634.3l3.2 3.2m0 -3.2l-3.2 3.2M277.4 596.2l3.2 3.2m0 -3.2l-3.2 3.2M287.0 635.5l3.2 3.2m0 -3.2l-3.2 3.2M256.7 633.2l3.2 3.2m0 -3.2l-3.2 3.2M269.3 610.2l3.2 3.2m0 -3.2l-3.2 3.2M288.8 605.6l3.2 3.2m0 -3.2l-3.2 3.2M280.8 636.7l3.2 3.2m0 -3.2l-3.2 3.2M284.8 590.5l3.2 3.2m0 -3.2l-3.2 3.2M286.0 646.2l3.2 3.2m0 -3.2l-3.2 3.2M281.8 609.8l3.2 3.2m0 -3.2l-3.2 3.2M283.3 592.1l3.2 3.2m0 -3.2l-3.2 3.2M271.4 628.8l3.2 3.2m0 -3.2l-3.2 3.2M269.4 619.2l3.2 3.2m0 -3.2l-3.2 3.2M275.9 640.0l3.2 3.2m0 -3.2l-3.2 3.2M282.3 641.4l3.2 3.2m0 -3.2l-3.2 3.2M280.3 592.4l3.2 3.2m0 -3.2l-3.2 3.2M278.6 632.3l3.2 3.2m0 -3.2l-3.2 3.2M289.5 652.0l3.2 3.2m0 -3.2l-3.2 3.2M289.1 643.4l3.2 3.2m0 -3.2l-3.2 3.2M290.4 637.8l3.2 3.2m0 -3.2l-3.2 3.2M264.3 609.9l3.2 3.2m0 -3.2l-3.2 3.2M278.7 625.4l3.2 3.2m0 -3.2l-3.2 3.2M280.7 633.4l3.2 3.2m0 -3.2l-3.2 3.2M279.2 614.5l3.2 3.2m0 -3.2l-3.2 3.2M273.8 611.6l3.2 3.2m0 -3.2l-3.2 3.2M281.9 620.1l3.2 3.2m0 -3.2l-3.2 3.2M242.4 587.2l3.2 3.2m0 -3.2l-3.2 3.2M287.2 602.3l3.2 3.2m0 -3.2l-3.2 3.2M285.6 591.4l3.2 3.2m0 -3.2l-3.2 3.2M282.1 652.5l3.2 3.2m0 -3.2l-3.2 3.2M258.8 593.7l3.2 3.2m0 -3.2l-3.2 3.2M287.0 595.4l3.2 3.2m0 -3.2l-3.2 3.2M275.3 595.0l3.2 3.2m0 -3.2l-3.2 3.2M280.9 622.8l3.2 3.2m0 -3.2l-3.2 3.2M282.3 609.6l3.2 3.2m0 -3.2l-3.2 3.2M276.6 639.0l3.2 3.2m0 -3.2l-3.2 3.2M287.6 612.9l3.2 3.2m0 -3.2l-3.2 3.2M275.5 596.4l3.2 3.2m0 -3.2l-3.2 3.2M285.2 618.1l3.2 3.2m0 -3.2l-3.2 3.2M279.7 647.1l3.2 3.2m0 -3.2l-3.2 3.2M278.5 595.9l3.2 3.2m0 -3.2l-3.2 3.2M279.8 647.0l3.2 3.2m0 -3.2l-3.2 3.2M267.9 631.5l3.2 3.2m0 -3.2l-3.2 3.2M289.0 641.1l3.2 3.2m0 -3.2l-3.2 3.2M257.7 602.4l3.2 3.2m0 -3.2l-3.2 3.2M282.5 632.4l3.2 3.2m0 -3.2l-3.2 3.2M287.4 608.4l3.2 3.2m0 -3.2l-3.2 3.2M258.9 587.6l3.2 3.2m0 -3.2l-3.2 3.2M274.1 618.9l3.2 3.2m0 -3.2l-3.2 3.2M285.3 603.3l3.2 3.2m0 -3.2l-3.2 3.2M275.2 636.0l3.2 3.2m0 -3.2l-3.2 3.2M281.8 600.0l3.2 3.2m0 -3.2l-3.2 3.2M284.3 641.4l3.2 3.2m0 -3.2l-3.2 3.2M280.6 592.6l3.2 3.2m0 -3.2l-3.2 3.2M285.7 603.4l3.2 3.2m0 -3.2l-3.2 3.2M285.8 646.8l3.2 3.2m0 -3.2l-3.2 3.2M288.5 648.5l3.2 3.2m0 -3.2l-3.2 3.2M264.2 599.8l3.2 3.2m0 -3.2l-3.2 3.2M263.7 640.1l3.2 3.2m0 -3.2l-3.2 3.2M280.3 637.9l3.2 3.2m0 -3.2l-3.2 3.2M275.3 608.1l3.2 3.2m0 -3.2l-3.2 3.2M275.1 624.4l3.2 3.2m0 -3.2l-3.2 3.2M279.7 610.2l3.2 3.2m0 -3.2l-3.2 3.2M251.7 622.5l3.2 3.2m0 -3.2l-3.2 3.2M264.2 617.3l3.2 3.2m0 -3.2l-3.2 3.2M274.3 636.7l3.2 3.2m0 -3.2l-3.2 3.2M290.4 602.1l3.2 3.2m0 -3.2l-3.2 3.2M287.6 592.8l3.2 3.2m0 -3.2l-3.2 3.2M286.4 656.7l3.2 3.2m0 -3.2l-3.2 3.2M281.1 642.4l3.2 3.2m0 -3.2l-3.2 3.2M289.3 623.8l3.2 3.2m0 -3.2l-3.2 3.2M272.1 618.8l3.2 3.2m0 -3.2l-3.2 3.2M274.3 623.6l3.2 3.2m0 -3.2l-3.2 3.2M285.5 608.8l3.2 3.2m0 -3.2l-3.2 3.2M286.5 610.9l3.2 3.2m0 -3.2l-3.2 3.2M290.4 655.9l3.2 3.2m0 -3.2l-3.2 3.2M290.2 657.9l3.2 3.2m0 -3.2l-3.2 3.2M280.2 634.1l3.2 3.2m0 -3.2l-3.2 3.2M270.1 600.6l3.2 3.2m0 -3.2l-3.2 3.2M248.9 593.6l3.2 3.2m0 -3.2l-3.2 3.2M280.2 616.2l3.2 3.2m0 -3.2l-3.2 3.2M269.2 625.8l3.2 3.2m0 -3.2l-3.2 3.2M287.3 639.6l3.2 3.2m0 -3.2l-3.2 3.2M287.0 627.1l3.2 3.2m0 -3.2l-3.2 3.2M279.6 588.8l3.2 3.2m0 -3.2l-3.2 3.2M284.6 611.1l3.2 3.2m0 -3.2l-3.2 3.2M283.0 593.5l3.2 3.2m0 -3.2l-3.2 3.2M288.7 620.3l3.2 3.2m0 -3.2l-3.2 3.2M289.7 639.2l3.2 3.2m0 -3.2l-3.2 3.2M277.5 644.1l3.2 3.2m0 -3.2l-3.2 3.2M278.3 625.8l3.2 3.2m0 -3.2l-3.2 3.2M271.5 636.3l3.2 3.2m0 -3.2l-3.2 3.2M287.6 645.3l3.2 3.2m0 -3.2l-3.2 3.2M269.9 622.8l3.2 3.2m0 -3.2l-3.2 3.2M279.2 593.5l3.2 3.2m0 -3.2l-3.2 3.2M247.7 604.4l3.2 3.2m0 -3.2l-3.2 3.2M280.4 641.4l3.2 3.2m0 -3.2l-3.2 3.2M288.5 638.0l3.2 3.2m0 -3.2l-3.2 3.2M268.7 615.0l3.2 3.2m0 -3.2l-3.2 3.2M283.4 607.8l3.2 3.2m0 -3.2l-3.2 3.2M279.3 643.4l3.2 3.2m0 -3.2l-3.2 3.2M253.3 606.5l3.2 3.2m0 -3.2l-3.2 3.2M287.9 636.3l3.2 3.2m0 -3.2l-3.2 3.2M277.8 639.9l3.2 3.2m0 -3.2l-3.2 3.2M274.9 599.4l3.2 3.2m0 -3.2l-3.2 3.2M289.8 606.9l3.2 3.2m0 -3.2l-3.2 3.2M285.0 636.8l3.2 3.2m0 -3.2l-3.2 3.2M278.9 608.1l3.2 3.2m0 -3.2l-3.2 3.2M288.0 654.8l3.2 3.2m0 -3.2l-3.2 3.2M286.5 611.9l3.2 3.2m0 -3.2l-3.2 3.2M278.4 633.1l3.2 3.2m0 -3.2l-3.2 3.2M277.8 611.3l3.2 3.2m0 -3.2l-3.2 3.2M287.6 586.1l3.2 3.2m0 -3.2l-3.2 3.2M283.7 649.3l3.2 3.2m0 -3.2l-3.2 3.2M284.8 613.2l3.2 3.2m0 -3.2l-3.2 3.2M282.2 635.2l3.2 3.2m0 -3.2l-3.2 3.2M287.9 615.8l3.2 3.2m0 -3.2l-3.2 3.2M272.5 637.1l3.2 3.2m0 -3.2l-3.2 3.2M260.7 599.9l3.2 3.2m0 -3.2l-3.2 3.2M269.7 620.7l3.2 3.2m0 -3.2l-3.2 3.2M281.3 625.7l3.2 3.2m0 -3.2l-3.2 3.2M270.8 603.5l3.2 3.2m0 -3.2l-3.2 3.2M262.3 600.1l3.2 3.2m0 -3.2l-3.2 3.2M279.5 616.8l3.2 3.2m0 -3.2l-3.2 3.2M280.6 612.9l3.2 3.2m0 -3.2l-3.2 3.2M274.2 587.5l3.2 3.2m0 -3.2l-3.2 3.2M285.2 646.1l3.2 3.2m0 -3.2l-3.2 3.2M288.6 618.6l3.2 3.2m0 -3.2l-3.2 3.2M271.6 626.3l3.2 3.2m0 -3.2l-3.2 3.2M281.9 649.8l3.2 3.2m0 -3.2l-3.2 3.2M285.1 609.9l3.2 3.2m0 -3.2l-3.2 3.2M287.2 652.0l3.2 3.2m0 -3.2l-3.2 3.2M270.7 634.8l3.2 3.2m0 -3.2l-3.2 3.2M263.7 645.4l3.2 3.2m0 -3.2l-3.2 3.2M276.7 622.3l3.2 3.2m0 -3.2l-3.2 3.2M289.2 620.3l3.2 3.2m0 -3.2l-3.2 3.2M273.9 621.7l3.2 3.2m0 -3.2l-3.2 3.2M276.3 643.1l3.2 3.2m0 -3.2l-3.2 3.2M283.4 596.4l3.2 3.2m0 -3.2l-3.2 3.2M284.0 614.5l3.2 3.2m0 -3.2l-3.2 3.2M289.0 657.1l3.2 3.2m0 -3.2l-3.2 3.2M289.9 657.9l3.2 3.2m0 -3.2l-3.2 3.2M289.6 636.4l3.2 3.2m0 -3.2l-3.2 3.2M290.7 613.7l3.2 3.2m0 -3.2l-3.2 3.2M287.0 648.0l3.2 3.2m0 -3.2l-3.2 3.2M270.1 591.8l3.2 3.2m0 -3.2l-3.2 3.2M267.8 610.0l3.2 3.2m0 -3.2l-3.2 3.2M260.9 586.3l3.2 3.2m0 -3.2l-3.2 3.2M285.3 652.7l3.2 3.2m0 -3.2l-3.2 3.2M275.5 632.8l3.2 3.2m0 -3.2l-3.2 3.2M290.8 602.5l3.2 3.2m0 -3.2l-3.2 3.2M289.7 642.6l3.2 3.2m0 -3.2l-3.2 3.2M256.9 597.9l3.2 3.2m0 -3.2l-3.2 3.2M262.6 614.2l3.2 3.2m0 -3.2l-3.2 3.2M281.9 590.4l3.2 3.2m0 -3.2l-3.2 3.2M281.3 619.3l3.2 3.2m0 -3.2l-3.2 3.2M280.5 614.5l3.2 3.2m0 -3.2l-3.2 3.2M264.9 614.0l3.2 3.2m0 -3.2l-3.2 3.2M279.5 623.0l3.2 3.2m0 -3.2l-3.2 3.2M287.3 645.1l3.2 3.2m0 -3.2l-3.2 3.2M281.3 620.0l3.2 3.2m0 -3.2l-3.2 3.2M269.1 641.9l3.2 3.2m0 -3.2l-3.2 3.2M287.6 646.3l3.2 3.2m0 -3.2l-3.2 3.2M286.4 639.6l3.2 3.2m0 -3.2l-3.2 3.2M290.0 638.0l3.2 3.2m0 -3.2l-3.2 3.2M258.1 605.1l3.2 3.2m0 -3.2l-3.2 3.2M286.5 615.5l3.2 3.2m0 -3.2l-3.2 3.2M271.1 634.8l3.2 3.2m0 -3.2l-3.2 3.2M290.4 643.7l3.2 3.2m0 -3.2l-3.2 3.2M276.8 633.7l3.2 3.2m0 -3.2l-3.2 3.2M267.7 588.6l3.2 3.2m0 -3.2l-3.2 3.2M269.2 605.8l3.2 3.2m0 -3.2l-3.2 3.2M281.9 598.7l3.2 3.2m0 -3.2l-3.2 3.2M284.7 611.5l3.2 3.2m0 -3.2l-3.2 3.2M287.8 625.5l3.2 3.2m0 -3.2l-3.2 3.2M254.0 604.3l3.2 3.2m0 -3.2l-3.2 3.2M280.2 640.6l3.2 3.2m0 -3.2l-3.2 3.2M274.9 591.0l3.2 3.2m0 -3.2l-3.2 3.2M286.8 628.9l3.2 3.2m0 -3.2l-3.2 3.2M289.0 618.2l3.2 3.2m0 -3.2l-3.2 3.2M280.7 624.5l3.2 3.2m0 -3.2l-3.2 3.2M263.8 605.6l3.2 3.2m0 -3.2l-3.2 3.2M284.7 644.1l3.2 3.2m0 -3.2l-3.2 3.2M273.9 588.8l3.2 3.2m0 -3.2l-3.2 3.2M286.2 600.9l3.2 3.2m0 -3.2l-3.2 3.2M287.4 607.8l3.2 3.2m0 -3.2l-3.2 3.2M283.1 612.6l3.2 3.2m0 -3.2l-3.2 3.2M284.7 653.0l3.2 3.2m0 -3.2l-3.2 3.2M282.0 599.8l3.2 3.2m0 -3.2l-3.2 3.2M284.6 613.7l3.2 3.2m0 -3.2l-3.2 3.2M284.3 635.2l3.2 3.2m0 -3.2l-3.2 3.2M284.4 642.5l3.2 3.2m0 -3.2l-3.2 3.2M252.3 587.2l3.2 3.2m0 -3.2l-3.2 3.2M271.2 624.2l3.2 3.2m0 -3.2l-3.2 3.2M281.7 614.7l3.2 3.2m0 -3.2l-3.2 3.2M289.8 648.5l3.2 3.2m0 -3.2l-3.2 3.2M286.9 605.9l3.2 3.2m0 -3.2l-3.2 3.2M284.4 602.9l3.2 3.2m0 -3.2l-3.2 3.2M287.1 616.9l3.2 3.2m0 -3.2l-3.2 3.2M283.8 597.3l3.2 3.2m0 -3.2l-3.2 3.2M275.2 600.5l3.2 3.2m0 -3.2l-3.2 3.2M288.3 598.0l3.2 3.2m0 -3.2l-3.2 3.2M281.2 600.9l3.2 3.2m0 -3.2l-3.2 3.2M290.3 648.4l3.2 3.2m0 -3.2l-3.2 3.2M271.9 592.8l3.2 3.2m0 -3.2l-3.2 3.2M279.2 623.1l3.2 3.2m0 -3.2l-3.2 3.2M283.5 644.1l3.2 3.2m0 -3.2l-3.2 3.2M267.0 622.9l3.2 3.2m0 -3.2l-3.2 3.2M284.9 619.8l3.2 3.2m0 -3.2l-3.2 3.2M282.0 597.9l3.2 3.2m0 -3.2l-3.2 3.2M256.4 605.6l3.2 3.2m0 -3.2l-3.2 3.2M277.5 644.2l3.2 3.2m0 -3.2l-3.2 3.2M283.9 601.2l3.2 3.2m0 -3.2l-3.2 3.2M269.3 609.2l3.2 3.2m0 -3.2l-3.2 3.2M290.6 613.7l3.2 3.2m0 -3.2l-3.2 3.2M284.4 636.1l3.2 3.2m0 -3.2l-3.2 3.2M284.7 649.4l3.2 3.2m0 -3.2l-3.2 3.2M284.4 619.5l3.2 3.2m0 -3.2l-3.2 3.2M270.6 603.7l3.2 3.2m0 -3.2l-3.2 3.2M276.6 591.0l3.2 3.2m0 -3.2l-3.2 3.2M278.8 635.2l3.2 3.2m0 -3.2l-3.2 3.2M274.0 606.7l3.2 3.2m0 -3.2l-3.2 3.2M272.7 616.4l3.2 3.2m0 -3.2l-3.2 3.2M289.0 592.7l3.2 3.2m0 -3.2l-3.2 3.2M287.9 593.6l3.2 3.2m0 -3.2l-3.2 3.2M284.8 651.9l3.2 3.2m0 -3.2l-3.2 3.2M286.3 653.2l3.2 3.2m0 -3.2l-3.2 3.2M280.2 603.3l3.2 3.2m0 -3.2l-3.2 3.2M286.8 619.6l3.2 3.2m0 -3.2l-3.2 3.2M290.7 657.5l3.2 3.2m0 -3.2l-3.2 3.2M279.0 610.1l3.2 3.2m0 -3.2l-3.2 3.2M246.2 586.9l3.2 3.2m0 -3.2l-3.2 3.2M278.8 591.6l3.2 3.2m0 -3.2l-3.2 3.2M270.3 637.1l3.2 3.2m0 -3.2l-3.2 3.2M288.9 648.6l3.2 3.2m0 -3.2l-3.2 3.2M276.4 610.2l3.2 3.2m0 -3.2l-3.2 3.2M280.2 655.1l3.2 3.2m0 -3.2l-3.2 3.2M280.0 612.1l3.2 3.2m0 -3.2l-3.2 3.2M287.3 656.1l3.2 3.2m0 -3.2l-3.2 3.2M259.9 592.3l3.2 3.2m0 -3.2l-3.2 3.2M270.9 635.4l3.2 3.2m0 -3.2l-3.2 3.2M276.5 628.1l3.2 3.2m0 -3.2l-3.2 3.2M284.9 654.4l3.2 3.2m0 -3.2l-3.2 3.2M288.0 600.5l3.2 3.2m0 -3.2l-3.2 3.2M269.0 611.4l3.2 3.2m0 -3.2l-3.2 3.2M279.7 602.2l3.2 3.2m0 -3.2l-3.2 3.2M278.7 586.4l3.2 3.2m0 -3.2l-3.2 3.2M275.2 647.1l3.2 3.2m0 -3.2l-3.2 3.2M285.0 655.1l3.2 3.2m0 -3.2l-3.2 3.2M267.0 596.6l3.2 3.2m0 -3.2l-3.2 3.2M280.7 627.3l3.2 3.2m0 -3.2l-3.2 3.2M288.6 608.8l3.2 3.2m0 -3.2l-3.2 3.2M284.6 603.8l3.2 3.2m0 -3.2l-3.2 3.2M285.8 599.0l3.2 3.2m0 -3.2l-3.2 3.2M283.5 652.0l3.2 3.2m0 -3.2l-3.2 3.2M273.6 637.5l3.2 3.2m0 -3.2l-3.2 3.2M276.5 606.8l3.2 3.2m0 -3.2l-3.2 3.2M289.9 657.8l3.2 3.2m0 -3.2l-3.2 3.2M278.7 629.0l3.2 3.2m0 -3.2l-3.2 3.2M274.0 608.1l3.2 3.2m0 -3.2l-3.2 3.2M272.7 594.4l3.2 3.2m0 -3.2l-3.2 3.2M288.1 646.0l3.2 3.2m0 -3.2l-3.2 3.2M278.5 638.9l3.2 3.2m0 -3.2l-3.2 3.2M284.9 606.6l3.2 3.2m0 -3.2l-3.2 3.2M278.3 601.8l3.2 3.2m0 -3.2l-3.2 3.2M275.4 618.6l3.2 3.2m0 -3.2l-3.2 3.2M290.1 643.9l3.2 3.2m0 -3.2l-3.2 3.2M284.3 656.1l3.2 3.2m0 -3.2l-3.2 3.2M286.9 607.7l3.2 3.2m0 -3.2l-3.2 3.2M282.2 652.5l3.2 3.2m0 -3.2l-3.2 3.2M275.2 610.7l3.2 3.2m0 -3.2l-3.2 3.2M281.4 648.1l3.2 3.2m0 -3.2l-3.2 3.2M287.6 645.9l3.2 3.2m0 -3.2l-3.2 3.2M286.3 620.8l3.2 3.2m0 -3.2l-3.2 3.2M257.2 614.5l3.2 3.2m0 -3.2l-3.2 3.2M279.9 625.5l3.2 3.2m0 -3.2l-3.2 3.2M275.1 625.9l3.2 3.2m0 -3.2l-3.2 3.2M290.4 657.9l3.2 3.2m0 -3.2l-3.2 3.2M290.2 656.2l3.2 3.2m0 -3.2l-3.2 3.2M273.7 595.3l3.2 3.2m0 -3.2l-3.2 3.2M261.1 618.2l3.2 3.2m0 -3.2l-3.2 3.2M287.4 647.5l3.2 3.2m0 -3.2l-3.2 3.2M285.2 589.6l3.2 3.2m0 -3.2l-3.2 3.2M284.3 637.6l3.2 3.2m0 -3.2l-3.2 3.2M280.4 606.0l3.2 3.2m0 -3.2l-3.2 3.2M282.6 650.9l3.2 3.2m0 -3.2l-3.2 3.2M276.6 616.5l3.2 3.2m0 -3.2l-3.2 3.2M270.8 586.3l3.2 3.2m0 -3.2l-3.2 3.2M266.7 610.6l3.2 3.2m0 -3.2l-3.2 3.2M280.3 642.9l3.2 3.2m0 -3.2l-3.2 3.2M286.8 628.2l3.2 3.2m0 -3.2l-3.2 3.2M290.6 612.7l3.2 3.2m0 -3.2l-3.2 3.2M278.9 620.9l3.2 3.2m0 -3.2l-3.2 3.2M283.4 617.4l3.2 3.2m0 -3.2l-3.2 3.2M289.4 652.8l3.2 3.2m0 -3.2l-3.2 3.2M277.4 624.6l3.2 3.2m0 -3.2l-3.2 3.2M259.7 592.4l3.2 3.2m0 -3.2l-3.2 3.2M269.3 623.1l3.2 3.2m0 -3.2l-3.2 3.2M281.2 642.6l3.2 3.2m0 -3.2l-3.2 3.2M287.8 632.9l3.2 3.2m0 -3.2l-3.2 3.2M285.3 592.5l3.2 3.2m0 -3.2l-3.2 3.2M283.6 641.2l3.2 3.2m0 -3.2l-3.2 3.2M265.0 633.7l3.2 3.2m0 -3.2l-3.2 3.2M276.8 614.8l3.2 3.2m0 -3.2l-3.2 3.2M286.2 627.2l3.2 3.2m0 -3.2l-3.2 3.2M275.4 647.5l3.2 3.2m0 -3.2l-3.2 3.2M287.8 654.7l3.2 3.2m0 -3.2l-3.2 3.2M281.0 643.2l3.2 3.2m0 -3.2l-3.2 3.2M288.2 641.9l3.2 3.2m0 -3.2l-3.2 3.2M282.3 620.7l3.2 3.2m0 -3.2l-3.2 3.2M282.7 588.5l3.2 3.2m0 -3.2l-3.2 3.2M270.3 622.3l3.2 3.2m0 -3.2l-3.2 3.2M274.5 606.0l3.2 3.2m0 -3.2l-3.2 3.2M282.3 604.1l3.2 3.2m0 -3.2l-3.2 3.2M287.7 627.2l3.2 3.2m0 -3.2l-3.2 3.2M290.2 651.5l3.2 3.2m0 -3.2l-3.2 3.2M272.7 604.5l3.2 3.2m0 -3.2l-3.2 3.2M288.9 633.2l3.2 3.2m0 -3.2l-3.2 3.2M287.6 643.7l3.2 3.2m0 -3.2l-3.2 3.2M283.8 621.6l3.2 3.2m0 -3.2l-3.2 3.2M280.9 595.4l3.2 3.2m0 -3.2l-3.2 3.2M284.9 642.8l3.2 3.2m0 -3.2l-3.2 3.2M274.0 629.5l3.2 3.2m0 -3.2l-3.2 3.2M289.9 596.8l3.2 3.2m0 -3.2l-3.2 3.2M287.5 641.1l3.2 3.2m0 -3.2l-3.2 3.2M285.9 605.3l3.2 3.2m0 -3.2l-3.2 3.2M283.2 653.9l3.2 3.2m0 -3.2l-3.2 3.2M262.0 623.3l3.2 3.2m0 -3.2l-3.2 3.2M280.8 619.1l3.2 3.2m0 -3.2l-3.2 3.2M265.8 622.9l3.2 3.2m0 -3.2l-3.2 3.2M289.8 598.0l3.2 3.2m0 -3.2l-3.2 3.2M268.0 590.7l3.2 3.2m0 -3.2l-3.2 3.2M287.0 637.8l3.2 3.2m0 -3.2l-3.2 3.2M290.1 651.9l3.2 3.2m0 -3.2l-3.2 3.2M286.7 652.8l3.2 3.2m0 -3.2l-3.2 3.2M284.0 645.4l3.2 3.2m0 -3.2l-3.2 3.2M270.5 625.1l3.2 3.2m0 -3.2l-3.2 3.2M289.3 630.5l3.2 3.2m0 -3.2l-3.2 3.2M286.2 644.6l3.2 3.2m0 -3.2l-3.2 3.2M289.6 647.8l3.2 3.2m0 -3.2l-3.2 3.2M279.4 603.7l3.2 3.2m0 -3.2l-3.2 3.2M288.2 605.1l3.2 3.2m0 -3.2l-3.2 3.2M286.2 587.7l3.2 3.2m0 -3.2l-3.2 3.2M283.2 628.7l3.2 3.2m0 -3.2l-3.2 3.2M289.3 643.5l3.2 3.2m0 -3.2l-3.2 3.2M270.7 602.3l3.2 3.2m0 -3.2l-3.2 3.2M277.1 595.0l3.2 3.2m0 -3.2l-3.2 3.2M267.5 603.2l3.2 3.2m0 -3.2l-3.2 3.2M286.6 656.1l3.2 3.2m0 -3.2l-3.2 3.2M284.4 627.9l3.2 3.2m0 -3.2l-3.2 3.2M290.5 637.6l3.2 3.2m0 -3.2l-3.2 3.2M272.1 611.0l3.2 3.2m0 -3.2l-3.2 3.2M279.4 600.9l3.2 3.2m0 -3.2l-3.2 3.2M283.2 633.2l3.2 3.2m0 -3.2l-3.2 3.2M284.6 589.2l3.2 3.2m0 -3.2l-3.2 3.2M278.4 614.4l3.2 3.2m0 -3.2l-3.2 3.2M282.6 630.2l3.2 3.2m0 -3.2l-3.2 3.2M290.8 646.8l3.2 3.2m0 -3.2l-3.2 3.2M285.4 636.2l3.2 3.2m0 -3.2l-3.2 3.2M273.7 630.9l3.2 3.2m0 -3.2l-3.2 3.2M289.2 591.5l3.2 3.2m0 -3.2l-3.2 3.2M287.3 621.6l3.2 3.2m0 -3.2l-3.2 3.2M264.7 642.9l3.2 3.2m0 -3.2l-3.2 3.2M251.5 586.9l3.2 3.2m0 -3.2l-3.2 3.2M289.0 609.2l3.2 3.2m0 -3.2l-3.2 3.2M276.4 601.5l3.2 3.2m0 -3.2l-3.2 3.2M285.7 615.9l3.2 3.2m0 -3.2l-3.2 3.2M274.4 588.8l3.2 3.2m0 -3.2l-3.2 3.2M284.3 627.6l3.2 3.2m0 -3.2l-3.2 3.2M277.9 603.3l3.2 3.2m0 -3.2l-3.2 3.2M265.6 610.0l3.2 3.2m0 -3.2l-3.2 3.2M277.3 586.1l3.2 3.2m0 -3.2l-3.2 3.2M288.0 635.6l3.2 3.2m0 -3.2l-3.2 3.2M267.1 591.1l3.2 3.2m0 -3.2l-3.2 3.2M288.1 636.1l3.2 3.2m0 -3.2l-3.2 3.2M283.0 650.1l3.2 3.2m0 -3.2l-3.2 3.2M265.8 617.7l3.2 3.2m0 -3.2l-3.2 3.2M276.0 634.0l3.2 3.2m0 -3.2l-3.2 3.2M287.6 599.3l3.2 3.2m0 -3.2l-3.2 3.2M285.0 623.2l3.2 3.2m0 -3.2l-3.2 3.2M281.2 640.6l3.2 3.2m0 -3.2l-3.2 3.2M271.6 600.6l3.2 3.2m0 -3.2l-3.2 3.2M284.6 594.5l3.2 3.2m0 -3.2l-3.2 3.2M256.8 619.3l3.2 3.2m0 -3.2l-3.2 3.2M288.0 593.8l3.2 3.2m0 -3.2l-3.2 3.2M269.5 641.2l3.2 3.2m0 -3.2l-3.2 3.2M279.5 614.9l3.2 3.2m0 -3.2l-3.2 3.2M276.8 624.8l3.2 3.2m0 -3.2l-3.2 3.2M289.1 655.5l3.2 3.2m0 -3.2l-3.2 3.2M288.3 653.6l3.2 3.2m0 -3.2l-3.2 3.2M277.6 611.7l3.2 3.2m0 -3.2l-3.2 3.2M286.3 647.4l3.2 3.2m0 -3.2l-3.2 3.2M267.7 607.4l3.2 3.2m0 -3.2l-3.2 3.2M278.2 651.2l3.2 3.2m0 -3.2l-3.2 3.2M287.2 621.7l3.2 3.2m0 -3.2l-3.2 3.2M288.0 648.8l3.2 3.2m0 -3.2l-3.2 3.2M264.1 589.3l3.2 3.2m0 -3.2l-3.2 3.2M290.7 637.4l3.2 3.2m0 -3.2l-3.2 3.2M280.9 625.0l3.2 3.2m0 -3.2l-3.2 3.2M289.9 610.9l3.2 3.2m0 -3.2l-3.2 3.2M290.5 633.3l3.2 3.2m0 -3.2l-3.2 3.2M272.4 590.8l3.2 3.2m0 -3.2l-3.2 3.2M276.1 649.3l3.2 3.2m0 -3.2l-3.2 3.2M277.7 648.1l3.2 3.2m0 -3.2l-3.2 3.2M286.1 628.8l3.2 3.2m0 -3.2l-3.2 3.2M280.1 640.7l3.2 3.2m0 -3.2l-3.2 3.2M277.9 622.9l3.2 3.2m0 -3.2l-3.2 3.2M278.6 635.2l3.2 3.2m0 -3.2l-3.2 3.2M253.5 587.8l3.2 3.2m0 -3.2l-3.2 3.2M281.6 599.3l3.2 3.2m0 -3.2l-3.2 3.2M268.7 639.3l3.2 3.2m0 -3.2l-3.2 3.2M259.6 620.6l3.2 3.2m0 -3.2l-3.2 3.2M288.9 623.8l3.2 3.2m0 -3.2l-3.2 3.2M285.7 613.8l3.2 3.2m0 -3.2l-3.2 3.2M283.6 632.6l3.2 3.2m0 -3.2l-3.2 3.2M289.8 611.6l3.2 3.2m0 -3.2l-3.2 3.2M285.1 637.8l3.2 3.2m0 -3.2l-3.2 3.2M289.8 628.8l3.2 3.2m0 -3.2l-3.2 3.2M281.7 642.0l3.2 3.2m0 -3.2l-3.2 3.2M276.2 639.4l3.2 3.2m0 -3.2l-3.2 3.2M276.1 611.2l3.2 3.2m0 -3.2l-3.2 3.2M279.3 614.6l3.2 3.2m0 -3.2l-3.2 3.2M287.9 652.6l3.2 3.2m0 -3.2l-3.2 3.2M288.4 647.8l3.2 3.2m0 -3.2l-3.2 3.2M285.1 640.5l3.2 3.2m0 -3.2l-3.2 3.2M263.7 596.5l3.2 3.2m0 -3.2l-3.2 3.2M288.8 628.7l3.2 3.2m0 -3.2l-3.2 3.2M270.8 597.0l3.2 3.2m0 -3.2l-3.2 3.2M247.6 611.7l3.2 3.2m0 -3.2l-3.2 3.2M276.4 642.0l3.2 3.2m0 -3.2l-3.2 3.2M253.0 612.9l3.2 3.2m0 -3.2l-3.2 3.2M289.5 592.4l3.2 3.2m0 -3.2l-3.2 3.2M287.5 643.5l3.2 3.2m0 -3.2l-3.2 3.2M271.3 613.1l3.2 3.2m0 -3.2l-3.2 3.2M266.0 608.0l3.2 3.2m0 -3.2l-3.2 3.2M289.4 654.4l3.2 3.2m0 -3.2l-3.2 3.2M285.5 650.0l3.2 3.2m0 -3.2l-3.2 3.2M283.2 638.2l3.2 3.2m0 -3.2l-3.2 3.2M290.1 625.9l3.2 3.2m0 -3.2l-3.2 3.2M271.2 613.2l3.2 3.2m0 -3.2l-3.2 3.2M287.2 653.0l3.2 3.2m0 -3.2l-3.2 3.2M286.4 643.4l3.2 3.2m0 -3.2l-3.2 3.2M282.6 599.6l3.2 3.2m0 -3.2l-3.2 3.2M283.6 628.6l3.2 3.2m0 -3.2l-3.2 3.2M259.8 603.9l3.2 3.2m0 -3.2l-3.2 3.2M286.7 610.1l3.2 3.2m0 -3.2l-3.2 3.2M272.7 587.5l3.2 3.2m0 -3.2l-3.2 3.2M286.0 630.8l3.2 3.2m0 -3.2l-3.2 3.2M283.0 607.8l3.2 3.2m0 -3.2l-3.2 3.2M288.7 649.2l3.2 3.2m0 -3.2l-3.2 3.2M283.9 642.8l3.2 3.2m0 -3.2l-3.2 3.2M271.6 598.6l3.2 3.2m0 -3.2l-3.2 3.2M290.8 654.7l3.2 3.2m0 -3.2l-3.2 3.2M269.7 615.1l3.2 3.2m0 -3.2l-3.2 3.2M285.6 653.0l3.2 3.2m0 -3.2l-3.2 3.2M265.5 624.0l3.2 3.2m0 -3.2l-3.2 3.2M286.7 626.4l3.2 3.2m0 -3.2l-3.2 3.2M271.1 621.8l3.2 3.2m0 -3.2l-3.2 3.2M279.0 604.4l3.2 3.2m0 -3.2l-3.2 3.2M289.7 589.6l3.2 3.2m0 -3.2l-3.2 3.2M290.6 656.9l3.2 3.2m0 -3.2l-3.2 3.2M283.7 640.1l3.2 3.2m0 -3.2l-3.2 3.2M278.9 616.1l3.2 3.2m0 -3.2l-3.2 3.2M273.9 602.4l3.2 3.2m0 -3.2l-3.2 3.2M275.9 638.6l3.2 3.2m0 -3.2l-3.2 3.2M284.3 622.5l3.2 3.2m0 -3.2l-3.2 3.2M283.6 650.4l3.2 3.2m0 -3.2l-3.2 3.2M288.0 636.7l3.2 3.2m0 -3.2l-3.2 3.2M289.9 656.2l3.2 3.2m0 -3.2l-3.2 3.2M286.6 652.6l3.2 3.2m0 -3.2l-3.2 3.2M284.1 593.8l3.2 3.2m0 -3.2l-3.2 3.2M280.6 594.1l3.2 3.2m0 -3.2l-3.2 3.2M282.3 642.8l3.2 3.2m0 -3.2l-3.2 3.2M284.5 614.4l3.2 3.2m0 -3.2l-3.2 3.2M274.8 649.2l3.2 3.2m0 -3.2l-3.2 3.2M255.6 611.0l3.2 3.2m0 -3.2l-3.2 3.2M279.5 637.1l3.2 3.2m0 -3.2l-3.2 3.2M275.7 587.6l3.2 3.2m0 -3.2l-3.2 3.2M276.8 641.4l3.2 3.2m0 -3.2l-3.2 3.2M280.5 639.1l3.2 3.2m0 -3.2l-3.2 3.2M288.5 592.2l3.2 3.2m0 -3.2l-3.2 3.2M288.8 631.5l3.2 3.2m0 -3.2l-3.2 3.2M277.5 586.6l3.2 3.2m0 -3.2l-3.2 3.2M257.1 592.6l3.2 3.2m0 -3.2l-3.2 3.2M274.6 611.3l3.2 3.2m0 -3.2l-3.2 3.2M269.4 593.0l3.2 3.2m0 -3.2l-3.2 3.2M284.9 593.3l3.2 3.2m0 -3.2l-3.2 3.2M285.2 627.6l3.2 3.2m0 -3.2l-3.2 3.2M289.7 657.6l3.2 3.2m0 -3.2l-3.2 3.2M268.9 611.0l3.2 3.2m0 -3.2l-3.2 3.2M281.1 614.2l3.2 3.2m0 -3.2l-3.2 3.2M266.3 608.0l3.2 3.2m0 -3.2l-3.2 3.2M269.3 590.6l3.2 3.2m0 -3.2l-3.2 3.2M278.6 607.6l3.2 3.2m0 -3.2l-3.2 3.2M288.2 633.3l3.2 3.2m0 -3.2l-3.2 3.2M264.5 602.6l3.2 3.2m0 -3.2l-3.2 3.2M276.1 641.0l3.2 3.2m0 -3.2l-3.2 3.2M281.9 623.0l3.2 3.2m0 -3.2l-3.2 3.2M282.3 603.5l3.2 3.2m0 -3.2l-3.2 3.2M286.9 623.7l3.2 3.2m0 -3.2l-3.2 3.2M280.1 638.4l3.2 3.2m0 -3.2l-3.2 3.2M285.6 605.5l3.2 3.2m0 -3.2l-3.2 3.2M285.3 620.7l3.2 3.2m0 -3.2l-3.2 3.2M271.7 587.4l3.2 3.2m0 -3.2l-3.2 3.2M287.1 632.6l3.2 3.2m0 -3.2l-3.2 3.2M287.8 596.1l3.2 3.2m0 -3.2l-3.2 3.2M285.4 625.6l3.2 3.2m0 -3.2l-3.2 3.2M287.5 656.7l3.2 3.2m0 -3.2l-3.2 3.2M287.4 647.5l3.2 3.2m0 -3.2l-3.2 3.2M288.1 608.3l3.2 3.2m0 -3.2l-3.2 3.2M282.0 597.2l3.2 3.2m0 -3.2l-3.2 3.2M287.6 590.8l3.2 3.2m0 -3.2l-3.2 3.2M276.7 639.2l3.2 3.2m0 -3.2l-3.2 3.2M284.5 637.8l3.2 3.2m0 -3.2l-3.2 3.2M284.6 648.1l3.2 3.2m0 -3.2l-3.2 3.2M289.1 649.0l3.2 3.2m0 -3.2l-3.2 3.2M289.0 655.0l3.2 3.2m0 -3.2l-3.2 3.2M287.3 589.1l3.2 3.2m0 -3.2l-3.2 3.2M290.3 614.9l3.2 3.2m0 -3.2l-3.2 3.2M228.9 599.1l3.2 3.2m0 -3.2l-3.2 3.2M272.3 642.5l3.2 3.2m0 -3.2l-3.2 3.2M272.5 605.1l3.2 3.2m0 -3.2l-3.2 3.2M287.0 642.7l3.2 3.2m0 -3.2l-3.2 3.2M288.5 596.0l3.2 3.2m0 -3.2l-3.2 3.2M282.3 644.8l3.2 3.2m0 -3.2l-3.2 3.2M290.6 638.6l3.2 3.2m0 -3.2l-3.2 3.2M288.2 639.5l3.2 3.2m0 -3.2l-3.2 3.2M287.8 595.6l3.2 3.2m0 -3.2l-3.2 3.2M277.7 607.9l3.2 3.2m0 -3.2l-3.2 3.2M286.6 652.3l3.2 3.2m0 -3.2l-3.2 3.2M274.2 641.6l3.2 3.2m0 -3.2l-3.2 3.2M286.4 612.3l3.2 3.2m0 -3.2l-3.2 3.2M283.1 618.9l3.2 3.2m0 -3.2l-3.2 3.2M280.2 655.4l3.2 3.2m0 -3.2l-3.2 3.2M282.2 607.9l3.2 3.2m0 -3.2l-3.2 3.2M269.7 615.0l3.2 3.2m0 -3.2l-3.2 3.2M285.0 620.3l3.2 3.2m0 -3.2l-3.2 3.2M286.3 587.3l3.2 3.2m0 -3.2l-3.2 3.2M275.0 637.7l3.2 3.2m0 -3.2l-3.2 3.2M265.8 597.3l3.2 3.2m0 -3.2l-3.2 3.2M276.3 630.3l3.2 3.2m0 -3.2l-3.2 3.2M278.4 621.0l3.2 3.2m0 -3.2l-3.2 3.2M279.9 630.2l3.2 3.2m0 -3.2l-3.2 3.2M288.1 650.6l3.2 3.2m0 -3.2l-3.2 3.2M288.2 616.5l3.2 3.2m0 -3.2l-3.2 3.2M286.5 650.8l3.2 3.2m0 -3.2l-3.2 3.2M289.1 649.3l3.2 3.2m0 -3.2l-3.2 3.2M267.8 607.2l3.2 3.2m0 -3.2l-3.2 3.2M287.6 650.8l3.2 3.2m0 -3.2l-3.2 3.2M266.3 613.3l3.2 3.2m0 -3.2l-3.2 3.2M280.0 619.3l3.2 3.2m0 -3.2l-3.2 3.2M287.9 602.4l3.2 3.2m0 -3.2l-3.2 3.2M289.5 605.8l3.2 3.2m0 -3.2l-3.2 3.2M283.8 624.3l3.2 3.2m0 -3.2l-3.2 3.2M282.8 644.0l3.2 3.2m0 -3.2l-3.2 3.2M286.6 619.0l3.2 3.2m0 -3.2l-3.2 3.2M283.2 596.2l3.2 3.2m0 -3.2l-3.2 3.2M287.3 627.9l3.2 3.2m0 -3.2l-3.2 3.2M288.4 652.4l3.2 3.2m0 -3.2l-3.2 3.2M274.9 594.9l3.2 3.2m0 -3.2l-3.2 3.2M281.9 626.9l3.2 3.2m0 -3.2l-3.2 3.2M262.5 597.8l3.2 3.2m0 -3.2l-3.2 3.2M285.2 638.0l3.2 3.2m0 -3.2l-3.2 3.2M280.3 645.9l3.2 3.2m0 -3.2l-3.2 3.2M288.8 647.9l3.2 3.2m0 -3.2l-3.2 3.2M285.9 635.7l3.2 3.2m0 -3.2l-3.2 3.2M279.7 616.1l3.2 3.2m0 -3.2l-3.2 3.2M286.9 651.6l3.2 3.2m0 -3.2l-3.2 3.2M283.9 614.2l3.2 3.2m0 -3.2l-3.2 3.2M288.0 598.8l3.2 3.2m0 -3.2l-3.2 3.2M289.2 652.3l3.2 3.2m0 -3.2l-3.2 3.2M284.9 641.4l3.2 3.2m0 -3.2l-3.2 3.2M280.8 588.6l3.2 3.2m0 -3.2l-3.2 3.2M286.6 621.6l3.2 3.2m0 -3.2l-3.2 3.2M283.8 588.1l3.2 3.2m0 -3.2l-3.2 3.2M288.9 611.1l3.2 3.2m0 -3.2l-3.2 3.2M267.6 600.4l3.2 3.2m0 -3.2l-3.2 3.2M279.2 615.5l3.2 3.2m0 -3.2l-3.2 3.2M288.9 635.5l3.2 3.2m0 -3.2l-3.2 3.2M289.8 590.7l3.2 3.2m0 -3.2l-3.2 3.2M289.8 655.6l3.2 3.2m0 -3.2l-3.2 3.2M280.9 654.6l3.2 3.2m0 -3.2l-3.2 3.2M287.4 631.0l3.2 3.2m0 -3.2l-3.2 3.2M275.3 612.4l3.2 3.2m0 -3.2l-3.2 3.2M273.0 602.5l3.2 3.2m0 -3.2l-3.2 3.2M287.3 623.7l3.2 3.2m0 -3.2l-3.2 3.2M260.1 588.8l3.2 3.2m0 -3.2l-3.2 3.2M264.7 635.7l3.2 3.2m0 -3.2l-3.2 3.2M256.5 598.5l3.2 3.2m0 -3.2l-3.2 3.2M262.4 598.4l3.2 3.2m0 -3.2l-3.2 3.2M247.6 600.2l3.2 3.2m0 -3.2l-3.2 3.2M261.1 608.4l3.2 3.2m0 -3.2l-3.2 3.2M254.2 586.6l3.2 3.2m0 -3.2l-3.2 3.2M261.7 649.8l3.2 3.2m0 -3.2l-3.2 3.2M245.9 607.7l3.2 3.2m0 -3.2l-3.2 3.2M266.1 624.6l3.2 3.2m0 -3.2l-3.2 3.2M228.8 608.8l3.2 3.2m0 -3.2l-3.2 3.2M257.3 597.0l3.2 3.2m0 -3.2l-3.2 3.2M215.7 594.3l3.2 3.2m0 -3.2l-3.2 3.2M265.6 632.5l3.2 3.2m0 -3.2l-3.2 3.2M235.3 614.6l3.2 3.2m0 -3.2l-3.2 3.2M253.6 587.9l3.2 3.2m0 -3.2l-3.2 3.2M270.1 648.6l3.2 3.2m0 -3.2l-3.2 3.2M244.4 590.4l3.2 3.2m0 -3.2l-3.2 3.2M222.2 588.0l3.2 3.2m0 -3.2l-3.2 3.2M202.2 619.9l3.2 3.2m0 -3.2l-3.2 3.2M250.1 590.2l3.2 3.2m0 -3.2l-3.2 3.2M333.9 604.1l3.2 3.2m0 -3.2l-3.2 3.2M331.5 637.6l3.2 3.2m0 -3.2l-3.2 3.2M326.9 605.3l3.2 3.2m0 -3.2l-3.2 3.2M344.3 600.5l3.2 3.2m0 -3.2l-3.2 3.2M332.9 601.7l3.2 3.2m0 -3.2l-3.2 3.2M328.3 604.3l3.2 3.2m0 -3.2l-3.2 3.2M326.6 629.6l3.2 3.2m0 -3.2l-3.2 3.2M335.1 649.6l3.2 3.2m0 -3.2l-3.2 3.2M332.7 651.8l3.2 3.2m0 -3.2l-3.2 3.2M342.4 596.5l3.2 3.2m0 -3.2l-3.2 3.2M334.9 602.9l3.2 3.2m0 -3.2l-3.2 3.2M330.5 646.8l3.2 3.2m0 -3.2l-3.2 3.2M356.4 617.2l3.2 3.2m0 -3.2l-3.2 3.2M340.8 650.0l3.2 3.2m0 -3.2l-3.2 3.2M330.5 632.9l3.2 3.2m0 -3.2l-3.2 3.2M364.8 599.0l3.2 3.2m0 -3.2l-3.2 3.2M342.0 642.9l3.2 3.2m0 -3.2l-3.2 3.2M334.0 627.6l3.2 3.2m0 -3.2l-3.2 3.2M331.8 631.3l3.2 3.2m0 -3.2l-3.2 3.2M342.1 624.1l3.2 3.2m0 -3.2l-3.2 3.2M334.2 627.9l3.2 3.2m0 -3.2l-3.2 3.2M330.3 646.3l3.2 3.2m0 -3.2l-3.2 3.2M342.1 646.8l3.2 3.2m0 -3.2l-3.2 3.2M331.8 643.6l3.2 3.2m0 -3.2l-3.2 3.2M333.9 652.9l3.2 3.2m0 -3.2l-3.2 3.2M335.5 593.8l3.2 3.2m0 -3.2l-3.2 3.2M327.1 634.9l3.2 3.2m0 -3.2l-3.2 3.2M333.7 617.4l3.2 3.2m0 -3.2l-3.2 3.2M337.0 600.2l3.2 3.2m0 -3.2l-3.2 3.2M330.5 589.6l3.2 3.2m0 -3.2l-3.2 3.2M343.9 610.0l3.2 3.2m0 -3.2l-3.2 3.2M326.3 655.6l3.2 3.2m0 -3.2l-3.2 3.2M327.1 646.3l3.2 3.2m0 -3.2l-3.2 3.2M328.2 657.0l3.2 3.2m0 -3.2l-3.2 3.2M339.3 614.5l3.2 3.2m0 -3.2l-3.2 3.2M337.1 620.5l3.2 3.2m0 -3.2l-3.2 3.2M347.1 599.7l3.2 3.2m0 -3.2l-3.2 3.2M327.8 652.6l3.2 3.2m0 -3.2l-3.2 3.2M337.1 623.8l3.2 3.2m0 -3.2l-3.2 3.2M329.0 602.2l3.2 3.2m0 -3.2l-3.2 3.2M352.2 604.3l3.2 3.2m0 -3.2l-3.2 3.2M349.2 624.5l3.2 3.2m0 -3.2l-3.2 3.2M328.3 651.9l3.2 3.2m0 -3.2l-3.2 3.2M331.8 589.2l3.2 3.2m0 -3.2l-3.2 3.2M329.3 631.0l3.2 3.2m0 -3.2l-3.2 3.2M345.7 621.6l3.2 3.2m0 -3.2l-3.2 3.2M329.9 633.8l3.2 3.2m0 -3.2l-3.2 3.2M343.6 604.2l3.2 3.2m0 -3.2l-3.2 3.2M339.5 610.5l3.2 3.2m0 -3.2l-3.2 3.2M351.1 622.6l3.2 3.2m0 -3.2l-3.2 3.2M344.3 586.1l3.2 3.2m0 -3.2l-3.2 3.2M332.1 609.9l3.2 3.2m0 -3.2l-3.2 3.2M332.2 619.2l3.2 3.2m0 -3.2l-3.2 3.2M331.6 621.2l3.2 3.2m0 -3.2l-3.2 3.2M340.3 605.8l3.2 3.2m0 -3.2l-3.2 3.2M334.0 587.9l3.2 3.2m0 -3.2l-3.2 3.2M342.8 621.4l3.2 3.2m0 -3.2l-3.2 3.2M351.3 610.7l3.2 3.2m0 -3.2l-3.2 3.2M334.9 624.4l3.2 3.2m0 -3.2l-3.2 3.2M346.6 610.4l3.2 3.2m0 -3.2l-3.2 3.2M328.9 588.8l3.2 3.2m0 -3.2l-3.2 3.2M337.0 609.3l3.2 3.2m0 -3.2l-3.2 3.2M339.3 630.3l3.2 3.2m0 -3.2l-3.2 3.2M331.0 630.6l3.2 3.2m0 -3.2l-3.2 3.2M332.7 616.1l3.2 3.2m0 -3.2l-3.2 3.2M342.3 587.1l3.2 3.2m0 -3.2l-3.2 3.2M328.0 620.1l3.2 3.2m0 -3.2l-3.2 3.2M332.4 651.8l3.2 3.2m0 -3.2l-3.2 3.2M326.5 646.7l3.2 3.2m0 -3.2l-3.2 3.2M333.3 600.1l3.2 3.2m0 -3.2l-3.2 3.2M326.9 629.4l3.2 3.2m0 -3.2l-3.2 3.2M326.8 658.0l3.2 3.2m0 -3.2l-3.2 3.2M346.0 611.4l3.2 3.2m0 -3.2l-3.2 3.2M330.6 595.1l3.2 3.2m0 -3.2l-3.2 3.2M366.2 591.2l3.2 3.2m0 -3.2l-3.2 3.2M342.3 595.0l3.2 3.2m0 -3.2l-3.2 3.2M340.4 609.0l3.2 3.2m0 -3.2l-3.2 3.2M375.3 591.6l3.2 3.2m0 -3.2l-3.2 3.2M334.8 634.8l3.2 3.2m0 -3.2l-3.2 3.2M346.3 638.8l3.2 3.2m0 -3.2l-3.2 3.2M340.8 635.3l3.2 3.2m0 -3.2l-3.2 3.2M340.3 641.1l3.2 3.2m0 -3.2l-3.2 3.2M352.3 601.7l3.2 3.2m0 -3.2l-3.2 3.2M330.2 600.2l3.2 3.2m0 -3.2l-3.2 3.2M338.1 605.3l3.2 3.2m0 -3.2l-3.2 3.2M331.0 648.0l3.2 3.2m0 -3.2l-3.2 3.2M332.0 619.1l3.2 3.2m0 -3.2l-3.2 3.2M330.3 645.9l3.2 3.2m0 -3.2l-3.2 3.2M344.4 618.7l3.2 3.2m0 -3.2l-3.2 3.2M351.3 637.5l3.2 3.2m0 -3.2l-3.2 3.2M327.7 635.4l3.2 3.2m0 -3.2l-3.2 3.2M339.4 626.9l3.2 3.2m0 -3.2l-3.2 3.2M337.6 648.7l3.2 3.2m0 -3.2l-3.2 3.2M344.0 621.2l3.2 3.2m0 -3.2l-3.2 3.2M336.6 590.2l3.2 3.2m0 -3.2l-3.2 3.2M335.1 639.2l3.2 3.2m0 -3.2l-3.2 3.2M336.6 613.6l3.2 3.2m0 -3.2l-3.2 3.2M329.4 653.8l3.2 3.2m0 -3.2l-3.2 3.2M330.9 648.1l3.2 3.2m0 -3.2l-3.2 3.2M335.0 611.1l3.2 3.2m0 -3.2l-3.2 3.2M337.9 601.8l3.2 3.2m0 -3.2l-3.2 3.2M344.4 597.9l3.2 3.2m0 -3.2l-3.2 3.2M328.8 658.5l3.2 3.2m0 -3.2l-3.2 3.2M327.3 590.0l3.2 3.2m0 -3.2l-3.2 3.2M330.0 655.3l3.2 3.2m0 -3.2l-3.2 3.2M334.0 636.6l3.2 3.2m0 -3.2l-3.2 3.2M366.9 600.7l3.2 3.2m0 -3.2l-3.2 3.2M328.7 637.3l3.2 3.2m0 -3.2l-3.2 3.2M328.6 650.3l3.2 3.2m0 -3.2l-3.2 3.2M339.8 603.5l3.2 3.2m0 -3.2l-3.2 3.2M327.1 634.7l3.2 3.2m0 -3.2l-3.2 3.2M342.1 609.6l3.2 3.2m0 -3.2l-3.2 3.2M330.5 620.4l3.2 3.2m0 -3.2l-3.2 3.2M338.0 626.0l3.2 3.2m0 -3.2l-3.2 3.2M338.4 633.6l3.2 3.2m0 -3.2l-3.2 3.2M334.8 622.4l3.2 3.2m0 -3.2l-3.2 3.2M342.3 622.5l3.2 3.2m0 -3.2l-3.2 3.2M347.8 599.5l3.2 3.2m0 -3.2l-3.2 3.2M327.2 651.0l3.2 3.2m0 -3.2l-3.2 3.2M335.1 648.7l3.2 3.2m0 -3.2l-3.2 3.2M336.8 629.0l3.2 3.2m0 -3.2l-3.2 3.2M329.9 642.3l3.2 3.2m0 -3.2l-3.2 3.2M356.7 607.6l3.2 3.2m0 -3.2l-3.2 3.2M334.6 621.9l3.2 3.2m0 -3.2l-3.2 3.2M345.5 591.0l3.2 3.2m0 -3.2l-3.2 3.2M343.7 631.3l3.2 3.2m0 -3.2l-3.2 3.2M332.6 593.3l3.2 3.2m0 -3.2l-3.2 3.2M332.8 632.3l3.2 3.2m0 -3.2l-3.2 3.2M331.3 618.8l3.2 3.2m0 -3.2l-3.2 3.2M331.8 654.4l3.2 3.2m0 -3.2l-3.2 3.2M326.6 643.9l3.2 3.2m0 -3.2l-3.2 3.2M354.5 597.1l3.2 3.2m0 -3.2l-3.2 3.2M327.5 657.1l3.2 3.2m0 -3.2l-3.2 3.2M331.3 624.3l3.2 3.2m0 -3.2l-3.2 3.2M329.7 616.2l3.2 3.2m0 -3.2l-3.2 3.2M343.5 606.1l3.2 3.2m0 -3.2l-3.2 3.2M335.9 593.6l3.2 3.2m0 -3.2l-3.2 3.2M336.3 619.1l3.2 3.2m0 -3.2l-3.2 3.2M341.5 633.6l3.2 3.2m0 -3.2l-3.2 3.2M327.9 611.2l3.2 3.2m0 -3.2l-3.2 3.2M336.8 614.6l3.2 3.2m0 -3.2l-3.2 3.2M328.0 645.9l3.2 3.2m0 -3.2l-3.2 3.2M326.8 619.1l3.2 3.2m0 -3.2l-3.2 3.2M338.7 594.2l3.2 3.2m0 -3.2l-3.2 3.2M351.9 593.0l3.2 3.2m0 -3.2l-3.2 3.2M336.6 632.3l3.2 3.2m0 -3.2l-3.2 3.2M330.6 605.3l3.2 3.2m0 -3.2l-3.2 3.2M334.8 624.5l3.2 3.2m0 -3.2l-3.2 3.2M329.1 614.2l3.2 3.2m0 -3.2l-3.2 3.2M334.2 638.8l3.2 3.2m0 -3.2l-3.2 3.2M336.2 632.2l3.2 3.2m0 -3.2l-3.2 3.2M339.0 636.3l3.2 3.2m0 -3.2l-3.2 3.2M329.5 656.4l3.2 3.2m0 -3.2l-3.2 3.2M337.7 649.9l3.2 3.2m0 -3.2l-3.2 3.2M329.6 619.5l3.2 3.2m0 -3.2l-3.2 3.2M353.1 607.8l3.2 3.2m0 -3.2l-3.2 3.2M347.6 590.0l3.2 3.2m0 -3.2l-3.2 3.2M337.7 615.7l3.2 3.2m0 -3.2l-3.2 3.2M341.8 617.5l3.2 3.2m0 -3.2l-3.2 3.2M331.3 650.1l3.2 3.2m0 -3.2l-3.2 3.2M342.8 614.3l3.2 3.2m0 -3.2l-3.2 3.2M336.4 627.6l3.2 3.2m0 -3.2l-3.2 3.2M353.8 602.1l3.2 3.2m0 -3.2l-3.2 3.2M372.5 600.8l3.2 3.2m0 -3.2l-3.2 3.2M339.0 632.3l3.2 3.2m0 -3.2l-3.2 3.2M336.8 605.9l3.2 3.2m0 -3.2l-3.2 3.2M334.9 633.1l3.2 3.2m0 -3.2l-3.2 3.2M342.7 606.3l3.2 3.2m0 -3.2l-3.2 3.2M329.9 651.4l3.2 3.2m0 -3.2l-3.2 3.2M339.6 611.8l3.2 3.2m0 -3.2l-3.2 3.2M337.6 637.7l3.2 3.2m0 -3.2l-3.2 3.2M357.4 590.2l3.2 3.2m0 -3.2l-3.2 3.2M334.6 637.7l3.2 3.2m0 -3.2l-3.2 3.2M328.0 654.1l3.2 3.2m0 -3.2l-3.2 3.2M337.9 644.6l3.2 3.2m0 -3.2l-3.2 3.2M327.2 619.9l3.2 3.2m0 -3.2l-3.2 3.2M332.0 652.7l3.2 3.2m0 -3.2l-3.2 3.2M340.9 626.6l3.2 3.2m0 -3.2l-3.2 3.2M326.3 617.9l3.2 3.2m0 -3.2l-3.2 3.2M334.9 636.6l3.2 3.2m0 -3.2l-3.2 3.2M329.6 613.1l3.2 3.2m0 -3.2l-3.2 3.2M333.8 593.0l3.2 3.2m0 -3.2l-3.2 3.2M334.0 635.9l3.2 3.2m0 -3.2l-3.2 3.2M330.0 638.8l3.2 3.2m0 -3.2l-3.2 3.2M332.2 596.6l3.2 3.2m0 -3.2l-3.2 3.2M332.3 589.7l3.2 3.2m0 -3.2l-3.2 3.2M352.9 618.6l3.2 3.2m0 -3.2l-3.2 3.2M326.4 601.1l3.2 3.2m0 -3.2l-3.2 3.2M327.8 658.8l3.2 3.2m0 -3.2l-3.2 3.2M328.8 653.1l3.2 3.2m0 -3.2l-3.2 3.2M334.6 629.8l3.2 3.2m0 -3.2l-3.2 3.2M342.0 630.7l3.2 3.2m0 -3.2l-3.2 3.2M337.3 612.8l3.2 3.2m0 -3.2l-3.2 3.2M344.7 590.8l3.2 3.2m0 -3.2l-3.2 3.2M328.7 643.3l3.2 3.2m0 -3.2l-3.2 3.2M358.3 598.1l3.2 3.2m0 -3.2l-3.2 3.2M343.0 589.0l3.2 3.2m0 -3.2l-3.2 3.2M334.9 634.5l3.2 3.2m0 -3.2l-3.2 3.2M333.5 616.6l3.2 3.2m0 -3.2l-3.2 3.2M327.4 586.4l3.2 3.2m0 -3.2l-3.2 3.2M331.9 624.7l3.2 3.2m0 -3.2l-3.2 3.2M338.0 615.8l3.2 3.2m0 -3.2l-3.2 3.2M358.5 589.2l3.2 3.2m0 -3.2l-3.2 3.2M344.4 636.4l3.2 3.2m0 -3.2l-3.2 3.2M333.3 640.9l3.2 3.2m0 -3.2l-3.2 3.2M345.3 637.1l3.2 3.2m0 -3.2l-3.2 3.2M327.9 659.8l3.2 3.2m0 -3.2l-3.2 3.2M339.9 621.4l3.2 3.2m0 -3.2l-3.2 3.2M374.0 613.7l3.2 3.2m0 -3.2l-3.2 3.2M328.0 652.6l3.2 3.2m0 -3.2l-3.2 3.2M341.5 590.9l3.2 3.2m0 -3.2l-3.2 3.2M330.2 623.0l3.2 3.2m0 -3.2l-3.2 3.2M347.4 589.4l3.2 3.2m0 -3.2l-3.2 3.2M327.1 652.4l3.2 3.2m0 -3.2l-3.2 3.2M343.6 621.4l3.2 3.2m0 -3.2l-3.2 3.2M347.6 625.3l3.2 3.2m0 -3.2l-3.2 3.2M330.4 652.0l3.2 3.2m0 -3.2l-3.2 3.2M327.1 635.7l3.2 3.2m0 -3.2l-3.2 3.2M342.3 609.8l3.2 3.2m0 -3.2l-3.2 3.2M330.4 654.1l3.2 3.2m0 -3.2l-3.2 3.2M341.0 604.8l3.2 3.2m0 -3.2l-3.2 3.2M332.9 629.4l3.2 3.2m0 -3.2l-3.2 3.2M336.9 594.2l3.2 3.2m0 -3.2l-3.2 3.2M348.8 639.8l3.2 3.2m0 -3.2l-3.2 3.2M329.9 622.4l3.2 3.2m0 -3.2l-3.2 3.2M333.7 586.7l3.2 3.2m0 -3.2l-3.2 3.2M344.5 632.7l3.2 3.2m0 -3.2l-3.2 3.2M328.3 657.4l3.2 3.2m0 -3.2l-3.2 3.2M337.0 646.6l3.2 3.2m0 -3.2l-3.2 3.2M327.4 652.9l3.2 3.2m0 -3.2l-3.2 3.2M333.0 603.5l3.2 3.2m0 -3.2l-3.2 3.2M333.5 615.9l3.2 3.2m0 -3.2l-3.2 3.2M328.6 656.9l3.2 3.2m0 -3.2l-3.2 3.2M333.7 629.3l3.2 3.2m0 -3.2l-3.2 3.2M335.7 630.4l3.2 3.2m0 -3.2l-3.2 3.2M326.4 614.8l3.2 3.2m0 -3.2l-3.2 3.2M326.4 658.4l3.2 3.2m0 -3.2l-3.2 3.2M329.5 639.9l3.2 3.2m0 -3.2l-3.2 3.2M326.5 608.6l3.2 3.2m0 -3.2l-3.2 3.2M335.9 594.9l3.2 3.2m0 -3.2l-3.2 3.2M328.4 617.7l3.2 3.2m0 -3.2l-3.2 3.2M340.1 624.2l3.2 3.2m0 -3.2l-3.2 3.2M345.8 621.0l3.2 3.2m0 -3.2l-3.2 3.2M332.0 638.2l3.2 3.2m0 -3.2l-3.2 3.2M334.6 598.3l3.2 3.2m0 -3.2l-3.2 3.2M348.2 592.5l3.2 3.2m0 -3.2l-3.2 3.2M329.9 622.7l3.2 3.2m0 -3.2l-3.2 3.2M332.7 594.0l3.2 3.2m0 -3.2l-3.2 3.2M342.7 644.1l3.2 3.2m0 -3.2l-3.2 3.2M337.8 648.2l3.2 3.2m0 -3.2l-3.2 3.2M327.1 589.0l3.2 3.2m0 -3.2l-3.2 3.2M328.9 643.0l3.2 3.2m0 -3.2l-3.2 3.2M351.0 636.0l3.2 3.2m0 -3.2l-3.2 3.2M335.9 636.2l3.2 3.2m0 -3.2l-3.2 3.2M330.0 648.9l3.2 3.2m0 -3.2l-3.2 3.2M331.3 586.7l3.2 3.2m0 -3.2l-3.2 3.2M332.5 630.2l3.2 3.2m0 -3.2l-3.2 3.2M339.8 631.1l3.2 3.2m0 -3.2l-3.2 3.2M335.7 615.7l3.2 3.2m0 -3.2l-3.2 3.2M341.6 627.1l3.2 3.2m0 -3.2l-3.2 3.2M340.8 594.2l3.2 3.2m0 -3.2l-3.2 3.2M333.2 637.4l3.2 3.2m0 -3.2l-3.2 3.2M339.3 596.1l3.2 3.2m0 -3.2l-3.2 3.2M326.4 645.3l3.2 3.2m0 -3.2l-3.2 3.2M327.4 621.6l3.2 3.2m0 -3.2l-3.2 3.2M349.7 609.4l3.2 3.2m0 -3.2l-3.2 3.2M331.8 648.3l3.2 3.2m0 -3.2l-3.2 3.2M330.6 622.5l3.2 3.2m0 -3.2l-3.2 3.2M328.6 653.2l3.2 3.2m0 -3.2l-3.2 3.2M348.1 617.5l3.2 3.2m0 -3.2l-3.2 3.2M340.7 612.2l3.2 3.2m0 -3.2l-3.2 3.2M326.6 603.3l3.2 3.2m0 -3.2l-3.2 3.2M333.4 641.9l3.2 3.2m0 -3.2l-3.2 3.2M343.8 622.0l3.2 3.2m0 -3.2l-3.2 3.2M328.5 633.0l3.2 3.2m0 -3.2l-3.2 3.2M328.9 609.0l3.2 3.2m0 -3.2l-3.2 3.2M333.8 599.7l3.2 3.2m0 -3.2l-3.2 3.2M339.2 586.4l3.2 3.2m0 -3.2l-3.2 3.2M328.8 593.2l3.2 3.2m0 -3.2l-3.2 3.2M345.1 614.5l3.2 3.2m0 -3.2l-3.2 3.2M327.7 638.5l3.2 3.2m0 -3.2l-3.2 3.2M337.7 640.5l3.2 3.2m0 -3.2l-3.2 3.2M333.3 626.3l3.2 3.2m0 -3.2l-3.2 3.2M331.0 586.0l3.2 3.2m0 -3.2l-3.2 3.2M336.1 605.7l3.2 3.2m0 -3.2l-3.2 3.2M338.0 651.4l3.2 3.2m0 -3.2l-3.2 3.2M327.4 593.5l3.2 3.2m0 -3.2l-3.2 3.2M340.9 626.0l3.2 3.2m0 -3.2l-3.2 3.2M361.7 611.9l3.2 3.2m0 -3.2l-3.2 3.2M361.7 606.7l3.2 3.2m0 -3.2l-3.2 3.2M326.8 645.4l3.2 3.2m0 -3.2l-3.2 3.2M328.9 654.1l3.2 3.2m0 -3.2l-3.2 3.2M333.9 602.6l3.2 3.2m0 -3.2l-3.2 3.2M328.7 623.8l3.2 3.2m0 -3.2l-3.2 3.2M337.2 628.4l3.2 3.2m0 -3.2l-3.2 3.2M334.4 630.9l3.2 3.2m0 -3.2l-3.2 3.2M338.1 588.6l3.2 3.2m0 -3.2l-3.2 3.2M344.6 587.1l3.2 3.2m0 -3.2l-3.2 3.2M331.4 633.8l3.2 3.2m0 -3.2l-3.2 3.2M326.4 592.3l3.2 3.2m0 -3.2l-3.2 3.2M327.4 613.4l3.2 3.2m0 -3.2l-3.2 3.2M339.0 631.3l3.2 3.2m0 -3.2l-3.2 3.2M334.1 617.5l3.2 3.2m0 -3.2l-3.2 3.2M328.9 604.0l3.2 3.2m0 -3.2l-3.2 3.2M329.1 651.1l3.2 3.2m0 -3.2l-3.2 3.2M357.1 614.7l3.2 3.2m0 -3.2l-3.2 3.2M357.8 610.5l3.2 3.2m0 -3.2l-3.2 3.2M329.5 653.6l3.2 3.2m0 -3.2l-3.2 3.2M328.6 603.9l3.2 3.2m0 -3.2l-3.2 3.2M337.9 606.4l3.2 3.2m0 -3.2l-3.2 3.2M332.7 651.6l3.2 3.2m0 -3.2l-3.2 3.2M330.8 647.1l3.2 3.2m0 -3.2l-3.2 3.2M345.5 602.7l3.2 3.2m0 -3.2l-3.2 3.2M339.5 642.0l3.2 3.2m0 -3.2l-3.2 3.2M349.9 602.6l3.2 3.2m0 -3.2l-3.2 3.2M328.0 604.0l3.2 3.2m0 -3.2l-3.2 3.2M326.7 617.3l3.2 3.2m0 -3.2l-3.2 3.2M330.4 632.7l3.2 3.2m0 -3.2l-3.2 3.2M364.9 600.2l3.2 3.2m0 -3.2l-3.2 3.2M336.6 606.0l3.2 3.2m0 -3.2l-3.2 3.2M328.7 655.7l3.2 3.2m0 -3.2l-3.2 3.2M327.7 658.4l3.2 3.2m0 -3.2l-3.2 3.2M326.8 634.2l3.2 3.2m0 -3.2l-3.2 3.2M343.8 615.9l3.2 3.2m0 -3.2l-3.2 3.2M329.2 646.0l3.2 3.2m0 -3.2l-3.2 3.2M337.4 622.4l3.2 3.2m0 -3.2l-3.2 3.2M336.9 634.5l3.2 3.2m0 -3.2l-3.2 3.2M350.0 605.9l3.2 3.2m0 -3.2l-3.2 3.2M328.0 602.9l3.2 3.2m0 -3.2l-3.2 3.2M327.0 645.5l3.2 3.2m0 -3.2l-3.2 3.2M333.8 647.2l3.2 3.2m0 -3.2l-3.2 3.2M326.6 618.4l3.2 3.2m0 -3.2l-3.2 3.2M332.9 634.8l3.2 3.2m0 -3.2l-3.2 3.2M326.3 657.9l3.2 3.2m0 -3.2l-3.2 3.2M332.1 598.2l3.2 3.2m0 -3.2l-3.2 3.2M333.8 647.3l3.2 3.2m0 -3.2l-3.2 3.2M332.2 628.1l3.2 3.2m0 -3.2l-3.2 3.2M326.9 632.0l3.2 3.2m0 -3.2l-3.2 3.2M340.4 639.8l3.2 3.2m0 -3.2l-3.2 3.2M334.5 627.2l3.2 3.2m0 -3.2l-3.2 3.2M328.7 586.7l3.2 3.2m0 -3.2l-3.2 3.2M333.9 612.7l3.2 3.2m0 -3.2l-3.2 3.2M334.6 603.6l3.2 3.2m0 -3.2l-3.2 3.2M326.9 657.5l3.2 3.2m0 -3.2l-3.2 3.2M329.1 634.0l3.2 3.2m0 -3.2l-3.2 3.2M331.1 636.0l3.2 3.2m0 -3.2l-3.2 3.2M358.3 586.0l3.2 3.2m0 -3.2l-3.2 3.2M336.0 597.9l3.2 3.2m0 -3.2l-3.2 3.2M346.6 623.9l3.2 3.2m0 -3.2l-3.2 3.2M334.5 642.2l3.2 3.2m0 -3.2l-3.2 3.2M326.3 656.3l3.2 3.2m0 -3.2l-3.2 3.2M331.3 648.8l3.2 3.2m0 -3.2l-3.2 3.2M330.5 591.2l3.2 3.2m0 -3.2l-3.2 3.2M334.3 633.6l3.2 3.2m0 -3.2l-3.2 3.2M337.3 618.7l3.2 3.2m0 -3.2l-3.2 3.2M373.4 599.2l3.2 3.2m0 -3.2l-3.2 3.2M330.6 604.9l3.2 3.2m0 -3.2l-3.2 3.2M352.3 599.2l3.2 3.2m0 -3.2l-3.2 3.2M326.6 650.0l3.2 3.2m0 -3.2l-3.2 3.2M343.1 643.5l3.2 3.2m0 -3.2l-3.2 3.2M339.7 620.6l3.2 3.2m0 -3.2l-3.2 3.2M330.8 647.8l3.2 3.2m0 -3.2l-3.2 3.2M328.5 653.4l3.2 3.2m0 -3.2l-3.2 3.2M357.0 586.3l3.2 3.2m0 -3.2l-3.2 3.2M332.1 608.3l3.2 3.2m0 -3.2l-3.2 3.2M339.6 621.6l3.2 3.2m0 -3.2l-3.2 3.2M327.7 653.5l3.2 3.2m0 -3.2l-3.2 3.2M334.6 611.7l3.2 3.2m0 -3.2l-3.2 3.2M336.5 634.6l3.2 3.2m0 -3.2l-3.2 3.2M342.9 615.7l3.2 3.2m0 -3.2l-3.2 3.2M331.2 586.3l3.2 3.2m0 -3.2l-3.2 3.2M326.4 640.6l3.2 3.2m0 -3.2l-3.2 3.2M328.6 626.1l3.2 3.2m0 -3.2l-3.2 3.2M336.0 647.1l3.2 3.2m0 -3.2l-3.2 3.2M346.8 608.8l3.2 3.2m0 -3.2l-3.2 3.2M326.4 631.2l3.2 3.2m0 -3.2l-3.2 3.2M343.4 622.4l3.2 3.2m0 -3.2l-3.2 3.2M346.1 609.8l3.2 3.2m0 -3.2l-3.2 3.2M327.7 658.7l3.2 3.2m0 -3.2l-3.2 3.2M339.5 647.5l3.2 3.2m0 -3.2l-3.2 3.2M336.6 615.2l3.2 3.2m0 -3.2l-3.2 3.2M328.8 651.8l3.2 3.2m0 -3.2l-3.2 3.2M351.8 602.2l3.2 3.2m0 -3.2l-3.2 3.2M344.5 617.3l3.2 3.2m0 -3.2l-3.2 3.2M333.0 622.1l3.2 3.2m0 -3.2l-3.2 3.2M331.6 609.0l3.2 3.2m0 -3.2l-3.2 3.2M334.1 612.8l3.2 3.2m0 -3.2l-3.2 3.2M331.8 648.8l3.2 3.2m0 -3.2l-3.2 3.2M335.7 641.1l3.2 3.2m0 -3.2l-3.2 3.2M328.9 640.2l3.2 3.2m0 -3.2l-3.2 3.2M327.6 596.0l3.2 3.2m0 -3.2l-3.2 3.2M330.7 656.3l3.2 3.2m0 -3.2l-3.2 3.2M335.1 633.9l3.2 3.2m0 -3.2l-3.2 3.2M351.8 598.9l3.2 3.2m0 -3.2l-3.2 3.2M339.6 647.0l3.2 3.2m0 -3.2l-3.2 3.2M337.6 594.4l3.2 3.2m0 -3.2l-3.2 3.2M345.7 632.5l3.2 3.2m0 -3.2l-3.2 3.2M327.8 657.7l3.2 3.2m0 -3.2l-3.2 3.2M331.9 654.2l3.2 3.2m0 -3.2l-3.2 3.2M336.2 642.2l3.2 3.2m0 -3.2l-3.2 3.2M353.2 588.6l3.2 3.2m0 -3.2l-3.2 3.2M337.1 599.8l3.2 3.2m0 -3.2l-3.2 3.2M347.2 603.2l3.2 3.2m0 -3.2l-3.2 3.2M330.7 610.7l3.2 3.2m0 -3.2l-3.2 3.2M327.6 636.5l3.2 3.2m0 -3.2l-3.2 3.2M335.0 650.9l3.2 3.2m0 -3.2l-3.2 3.2M331.8 637.2l3.2 3.2m0 -3.2l-3.2 3.2M363.7 593.2l3.2 3.2m0 -3.2l-3.2 3.2M331.4 653.5l3.2 3.2m0 -3.2l-3.2 3.2M327.6 624.4l3.2 3.2m0 -3.2l-3.2 3.2M330.3 640.3l3.2 3.2m0 -3.2l-3.2 3.2M341.8 612.9l3.2 3.2m0 -3.2l-3.2 3.2M329.9 613.4l3.2 3.2m0 -3.2l-3.2 3.2M329.8 645.5l3.2 3.2m0 -3.2l-3.2 3.2M338.9 648.0l3.2 3.2m0 -3.2l-3.2 3.2M326.2 659.6l3.2 3.2m0 -3.2l-3.2 3.2M327.6 614.0l3.2 3.2m0 -3.2l-3.2 3.2M332.7 587.8l3.2 3.2m0 -3.2l-3.2 3.2M333.3 620.5l3.2 3.2m0 -3.2l-3.2 3.2M326.2 652.0l3.2 3.2m0 -3.2l-3.2 3.2M328.6 624.4l3.2 3.2m0 -3.2l-3.2 3.2M326.4 592.9l3.2 3.2m0 -3.2l-3.2 3.2M326.9 624.9l3.2 3.2m0 -3.2l-3.2 3.2M331.5 650.2l3.2 3.2m0 -3.2l-3.2 3.2M327.5 649.4l3.2 3.2m0 -3.2l-3.2 3.2M341.0 626.1l3.2 3.2m0 -3.2l-3.2 3.2M335.8 596.7l3.2 3.2m0 -3.2l-3.2 3.2M330.6 657.3l3.2 3.2m0 -3.2l-3.2 3.2M328.2 586.1l3.2 3.2m0 -3.2l-3.2 3.2M327.0 635.9l3.2 3.2m0 -3.2l-3.2 3.2M365.2 600.9l3.2 3.2m0 -3.2l-3.2 3.2M327.0 646.2l3.2 3.2m0 -3.2l-3.2 3.2M346.4 590.8l3.2 3.2m0 -3.2l-3.2 3.2M330.9 634.0l3.2 3.2m0 -3.2l-3.2 3.2M335.1 641.6l3.2 3.2m0 -3.2l-3.2 3.2M338.9 586.1l3.2 3.2m0 -3.2l-3.2 3.2M333.1 651.4l3.2 3.2m0 -3.2l-3.2 3.2M327.2 643.2l3.2 3.2m0 -3.2l-3.2 3.2M331.0 604.4l3.2 3.2m0 -3.2l-3.2 3.2M344.0 617.2l3.2 3.2m0 -3.2l-3.2 3.2M330.8 637.9l3.2 3.2m0 -3.2l-3.2 3.2M338.8 637.6l3.2 3.2m0 -3.2l-3.2 3.2M329.4 623.8l3.2 3.2m0 -3.2l-3.2 3.2M327.8 615.4l3.2 3.2m0 -3.2l-3.2 3.2M333.2 653.6l3.2 3.2m0 -3.2l-3.2 3.2M330.4 639.4l3.2 3.2m0 -3.2l-3.2 3.2M330.7 589.3l3.2 3.2m0 -3.2l-3.2 3.2M327.6 656.1l3.2 3.2m0 -3.2l-3.2 3.2M329.0 632.8l3.2 3.2m0 -3.2l-3.2 3.2M342.2 615.2l3.2 3.2m0 -3.2l-3.2 3.2M337.9 612.8l3.2 3.2m0 -3.2l-3.2 3.2M326.8 653.9l3.2 3.2m0 -3.2l-3.2 3.2M326.4 637.2l3.2 3.2m0 -3.2l-3.2 3.2M342.8 598.9l3.2 3.2m0 -3.2l-3.2 3.2M329.5 621.8l3.2 3.2m0 -3.2l-3.2 3.2M326.9 642.9l3.2 3.2m0 -3.2l-3.2 3.2M364.5 590.1l3.2 3.2m0 -3.2l-3.2 3.2M346.6 627.4l3.2 3.2m0 -3.2l-3.2 3.2M358.5 612.2l3.2 3.2m0 -3.2l-3.2 3.2M349.1 627.4l3.2 3.2m0 -3.2l-3.2 3.2M329.7 604.5l3.2 3.2m0 -3.2l-3.2 3.2M328.2 601.9l3.2 3.2m0 -3.2l-3.2 3.2M349.6 630.4l3.2 3.2m0 -3.2l-3.2 3.2M337.4 607.7l3.2 3.2m0 -3.2l-3.2 3.2M343.4 597.0l3.2 3.2m0 -3.2l-3.2 3.2M326.3 643.3l3.2 3.2m0 -3.2l-3.2 3.2M331.0 625.8l3.2 3.2m0 -3.2l-3.2 3.2M332.9 593.9l3.2 3.2m0 -3.2l-3.2 3.2M336.8 606.2l3.2 3.2m0 -3.2l-3.2 3.2M327.8 659.3l3.2 3.2m0 -3.2l-3.2 3.2M341.2 611.5l3.2 3.2m0 -3.2l-3.2 3.2M333.0 616.1l3.2 3.2m0 -3.2l-3.2 3.2M341.1 650.4l3.2 3.2m0 -3.2l-3.2 3.2M337.5 616.6l3.2 3.2m0 -3.2l-3.2 3.2M327.6 658.1l3.2 3.2m0 -3.2l-3.2 3.2M352.0 616.5l3.2 3.2m0 -3.2l-3.2 3.2M337.0 649.1l3.2 3.2m0 -3.2l-3.2 3.2M329.5 658.1l3.2 3.2m0 -3.2l-3.2 3.2M352.9 634.9l3.2 3.2m0 -3.2l-3.2 3.2M329.7 601.9l3.2 3.2m0 -3.2l-3.2 3.2M326.3 656.1l3.2 3.2m0 -3.2l-3.2 3.2M328.2 653.9l3.2 3.2m0 -3.2l-3.2 3.2M350.0 610.4l3.2 3.2m0 -3.2l-3.2 3.2M327.0 659.5l3.2 3.2m0 -3.2l-3.2 3.2M328.6 650.1l3.2 3.2m0 -3.2l-3.2 3.2M326.2 656.8l3.2 3.2m0 -3.2l-3.2 3.2M327.9 605.6l3.2 3.2m0 -3.2l-3.2 3.2M331.8 597.9l3.2 3.2m0 -3.2l-3.2 3.2M332.6 587.9l3.2 3.2m0 -3.2l-3.2 3.2M330.0 630.1l3.2 3.2m0 -3.2l-3.2 3.2M351.4 586.9l3.2 3.2m0 -3.2l-3.2 3.2M341.0 595.2l3.2 3.2m0 -3.2l-3.2 3.2M328.3 587.8l3.2 3.2m0 -3.2l-3.2 3.2M332.7 615.8l3.2 3.2m0 -3.2l-3.2 3.2M334.6 610.0l3.2 3.2m0 -3.2l-3.2 3.2M348.5 610.6l3.2 3.2m0 -3.2l-3.2 3.2M336.1 606.3l3.2 3.2m0 -3.2l-3.2 3.2M342.7 592.2l3.2 3.2m0 -3.2l-3.2 3.2M327.7 617.3l3.2 3.2m0 -3.2l-3.2 3.2M339.2 648.5l3.2 3.2m0 -3.2l-3.2 3.2M338.4 617.2l3.2 3.2m0 -3.2l-3.2 3.2M335.8 647.7l3.2 3.2m0 -3.2l-3.2 3.2M330.2 647.6l3.2 3.2m0 -3.2l-3.2 3.2M333.4 605.7l3.2 3.2m0 -3.2l-3.2 3.2M331.3 644.7l3.2 3.2m0 -3.2l-3.2 3.2M342.3 602.8l3.2 3.2m0 -3.2l-3.2 3.2M331.8 631.6l3.2 3.2m0 -3.2l-3.2 3.2M331.4 651.6l3.2 3.2m0 -3.2l-3.2 3.2M336.1 618.6l3.2 3.2m0 -3.2l-3.2 3.2M330.9 635.1l3.2 3.2m0 -3.2l-3.2 3.2M329.8 637.2l3.2 3.2m0 -3.2l-3.2 3.2M326.2 638.1l3.2 3.2m0 -3.2l-3.2 3.2M331.5 604.7l3.2 3.2m0 -3.2l-3.2 3.2M332.4 655.4l3.2 3.2m0 -3.2l-3.2 3.2M330.7 631.0l3.2 3.2m0 -3.2l-3.2 3.2M342.9 595.2l3.2 3.2m0 -3.2l-3.2 3.2M333.2 615.0l3.2 3.2m0 -3.2l-3.2 3.2M331.6 592.5l3.2 3.2m0 -3.2l-3.2 3.2M332.5 644.9l3.2 3.2m0 -3.2l-3.2 3.2M342.4 609.0l3.2 3.2m0 -3.2l-3.2 3.2M347.3 626.3l3.2 3.2m0 -3.2l-3.2 3.2M357.1 616.5l3.2 3.2m0 -3.2l-3.2 3.2M333.7 615.0l3.2 3.2m0 -3.2l-3.2 3.2M337.2 643.0l3.2 3.2m0 -3.2l-3.2 3.2M328.6 651.3l3.2 3.2m0 -3.2l-3.2 3.2M332.3 600.6l3.2 3.2m0 -3.2l-3.2 3.2M328.6 658.0l3.2 3.2m0 -3.2l-3.2 3.2M338.5 632.3l3.2 3.2m0 -3.2l-3.2 3.2M327.0 659.7l3.2 3.2m0 -3.2l-3.2 3.2M335.8 627.6l3.2 3.2m0 -3.2l-3.2 3.2M335.6 646.2l3.2 3.2m0 -3.2l-3.2 3.2M327.8 614.7l3.2 3.2m0 -3.2l-3.2 3.2M326.4 658.9l3.2 3.2m0 -3.2l-3.2 3.2M330.1 606.9l3.2 3.2m0 -3.2l-3.2 3.2M343.6 645.7l3.2 3.2m0 -3.2l-3.2 3.2M328.4 628.3l3.2 3.2m0 -3.2l-3.2 3.2M331.3 635.0l3.2 3.2m0 -3.2l-3.2 3.2M335.7 629.0l3.2 3.2m0 -3.2l-3.2 3.2M326.9 651.6l3.2 3.2m0 -3.2l-3.2 3.2M335.4 622.1l3.2 3.2m0 -3.2l-3.2 3.2M337.7 637.8l3.2 3.2m0 -3.2l-3.2 3.2M327.0 657.6l3.2 3.2m0 -3.2l-3.2 3.2M329.7 594.4l3.2 3.2m0 -3.2l-3.2 3.2M327.2 647.5l3.2 3.2m0 -3.2l-3.2 3.2M350.1 605.7l3.2 3.2m0 -3.2l-3.2 3.2M349.6 612.8l3.2 3.2m0 -3.2l-3.2 3.2M332.7 644.2l3.2 3.2m0 -3.2l-3.2 3.2M326.4 617.1l3.2 3.2m0 -3.2l-3.2 3.2M328.4 595.8l3.2 3.2m0 -3.2l-3.2 3.2M332.3 629.0l3.2 3.2m0 -3.2l-3.2 3.2M328.0 635.6l3.2 3.2m0 -3.2l-3.2 3.2M329.7 628.8l3.2 3.2m0 -3.2l-3.2 3.2M328.7 657.4l3.2 3.2m0 -3.2l-3.2 3.2M329.8 611.7l3.2 3.2m0 -3.2l-3.2 3.2M330.5 632.0l3.2 3.2m0 -3.2l-3.2 3.2M326.5 618.7l3.2 3.2m0 -3.2l-3.2 3.2M328.7 620.0l3.2 3.2m0 -3.2l-3.2 3.2M327.8 616.5l3.2 3.2m0 -3.2l-3.2 3.2M379.6 607.7l3.2 3.2m0 -3.2l-3.2 3.2M333.9 624.1l3.2 3.2m0 -3.2l-3.2 3.2M330.4 638.8l3.2 3.2m0 -3.2l-3.2 3.2M335.6 634.2l3.2 3.2m0 -3.2l-3.2 3.2M331.2 655.7l3.2 3.2m0 -3.2l-3.2 3.2M328.7 645.9l3.2 3.2m0 -3.2l-3.2 3.2M349.9 615.5l3.2 3.2m0 -3.2l-3.2 3.2M335.0 634.7l3.2 3.2m0 -3.2l-3.2 3.2M334.7 651.3l3.2 3.2m0 -3.2l-3.2 3.2M328.0 623.4l3.2 3.2m0 -3.2l-3.2 3.2M337.9 592.1l3.2 3.2m0 -3.2l-3.2 3.2M370.3 603.7l3.2 3.2m0 -3.2l-3.2 3.2M354.4 607.5l3.2 3.2m0 -3.2l-3.2 3.2M340.6 607.2l3.2 3.2m0 -3.2l-3.2 3.2M327.2 648.0l3.2 3.2m0 -3.2l-3.2 3.2M351.7 629.8l3.2 3.2m0 -3.2l-3.2 3.2M347.5 590.7l3.2 3.2m0 -3.2l-3.2 3.2M344.3 611.8l3.2 3.2m0 -3.2l-3.2 3.2M329.4 610.9l3.2 3.2m0 -3.2l-3.2 3.2M330.2 635.2l3.2 3.2m0 -3.2l-3.2 3.2M340.8 591.2l3.2 3.2m0 -3.2l-3.2 3.2M335.0 595.4l3.2 3.2m0 -3.2l-3.2 3.2M335.4 600.5l3.2 3.2m0 -3.2l-3.2 3.2M340.8 619.9l3.2 3.2m0 -3.2l-3.2 3.2M341.3 610.9l3.2 3.2m0 -3.2l-3.2 3.2M333.6 636.8l3.2 3.2m0 -3.2l-3.2 3.2M330.5 618.0l3.2 3.2m0 -3.2l-3.2 3.2M331.7 586.4l3.2 3.2m0 -3.2l-3.2 3.2M336.2 593.3l3.2 3.2m0 -3.2l-3.2 3.2M348.7 616.6l3.2 3.2m0 -3.2l-3.2 3.2M336.5 637.6l3.2 3.2m0 -3.2l-3.2 3.2M340.6 612.8l3.2 3.2m0 -3.2l-3.2 3.2M327.0 619.7l3.2 3.2m0 -3.2l-3.2 3.2M344.7 592.1l3.2 3.2m0 -3.2l-3.2 3.2M347.7 621.4l3.2 3.2m0 -3.2l-3.2 3.2M329.4 637.9l3.2 3.2m0 -3.2l-3.2 3.2M330.4 639.0l3.2 3.2m0 -3.2l-3.2 3.2M333.7 621.5l3.2 3.2m0 -3.2l-3.2 3.2M363.5 601.0l3.2 3.2m0 -3.2l-3.2 3.2M335.5 628.8l3.2 3.2m0 -3.2l-3.2 3.2M330.9 643.6l3.2 3.2m0 -3.2l-3.2 3.2M341.3 597.7l3.2 3.2m0 -3.2l-3.2 3.2M375.3 587.0l3.2 3.2m0 -3.2l-3.2 3.2M326.7 605.5l3.2 3.2m0 -3.2l-3.2 3.2M337.3 622.8l3.2 3.2m0 -3.2l-3.2 3.2M335.0 618.4l3.2 3.2m0 -3.2l-3.2 3.2M328.0 656.7l3.2 3.2m0 -3.2l-3.2 3.2M351.3 603.6l3.2 3.2m0 -3.2l-3.2 3.2M344.8 616.5l3.2 3.2m0 -3.2l-3.2 3.2M340.0 623.5l3.2 3.2m0 -3.2l-3.2 3.2M328.0 653.6l3.2 3.2m0 -3.2l-3.2 3.2M331.1 647.0l3.2 3.2m0 -3.2l-3.2 3.2M331.3 651.7l3.2 3.2m0 -3.2l-3.2 3.2M346.4 598.9l3.2 3.2m0 -3.2l-3.2 3.2M342.4 604.3l3.2 3.2m0 -3.2l-3.2 3.2M329.0 637.6l3.2 3.2m0 -3.2l-3.2 3.2M347.0 635.6l3.2 3.2m0 -3.2l-3.2 3.2M340.9 590.3l3.2 3.2m0 -3.2l-3.2 3.2M338.6 600.5l3.2 3.2m0 -3.2l-3.2 3.2M350.3 617.5l3.2 3.2m0 -3.2l-3.2 3.2M367.4 600.9l3.2 3.2m0 -3.2l-3.2 3.2M329.4 615.9l3.2 3.2m0 -3.2l-3.2 3.2M326.5 620.7l3.2 3.2m0 -3.2l-3.2 3.2M336.3 642.4l3.2 3.2m0 -3.2l-3.2 3.2M343.7 612.6l3.2 3.2m0 -3.2l-3.2 3.2M350.3 607.7l3.2 3.2m0 -3.2l-3.2 3.2M343.0 612.8l3.2 3.2m0 -3.2l-3.2 3.2M350.1 621.2l3.2 3.2m0 -3.2l-3.2 3.2M328.6 650.6l3.2 3.2m0 -3.2l-3.2 3.2M341.2 593.0l3.2 3.2m0 -3.2l-3.2 3.2M334.5 604.9l3.2 3.2m0 -3.2l-3.2 3.2M330.8 621.7l3.2 3.2m0 -3.2l-3.2 3.2M346.4 597.2l3.2 3.2m0 -3.2l-3.2 3.2M338.7 617.9l3.2 3.2m0 -3.2l-3.2 3.2M326.3 620.9l3.2 3.2m0 -3.2l-3.2 3.2M362.2 617.7l3.2 3.2m0 -3.2l-3.2 3.2M338.4 611.4l3.2 3.2m0 -3.2l-3.2 3.2M360.6 604.2l3.2 3.2m0 -3.2l-3.2 3.2M335.5 611.5l3.2 3.2m0 -3.2l-3.2 3.2M328.8 649.0l3.2 3.2m0 -3.2l-3.2 3.2M332.3 612.8l3.2 3.2m0 -3.2l-3.2 3.2M346.8 647.5l3.2 3.2m0 -3.2l-3.2 3.2M337.2 635.6l3.2 3.2m0 -3.2l-3.2 3.2M329.9 615.0l3.2 3.2m0 -3.2l-3.2 3.2M348.4 631.2l3.2 3.2m0 -3.2l-3.2 3.2M340.0 613.3l3.2 3.2m0 -3.2l-3.2 3.2M327.2 657.6l3.2 3.2m0 -3.2l-3.2 3.2M334.0 591.4l3.2 3.2m0 -3.2l-3.2 3.2M327.6 656.2l3.2 3.2m0 -3.2l-3.2 3.2M330.7 633.7l3.2 3.2m0 -3.2l-3.2 3.2M344.0 627.0l3.2 3.2m0 -3.2l-3.2 3.2M359.1 635.0l3.2 3.2m0 -3.2l-3.2 3.2M326.9 634.7l3.2 3.2m0 -3.2l-3.2 3.2M331.9 591.5l3.2 3.2m0 -3.2l-3.2 3.2M337.5 606.3l3.2 3.2m0 -3.2l-3.2 3.2M334.2 600.7l3.2 3.2m0 -3.2l-3.2 3.2M337.8 618.5l3.2 3.2m0 -3.2l-3.2 3.2M338.6 623.0l3.2 3.2m0 -3.2l-3.2 3.2M344.8 638.8l3.2 3.2m0 -3.2l-3.2 3.2M335.5 629.5l3.2 3.2m0 -3.2l-3.2 3.2M331.9 620.1l3.2 3.2m0 -3.2l-3.2 3.2M339.7 631.0l3.2 3.2m0 -3.2l-3.2 3.2M328.5 626.1l3.2 3.2m0 -3.2l-3.2 3.2M337.3 649.6l3.2 3.2m0 -3.2l-3.2 3.2M343.0 635.0l3.2 3.2m0 -3.2l-3.2 3.2M361.3 606.4l3.2 3.2m0 -3.2l-3.2 3.2M327.7 610.5l3.2 3.2m0 -3.2l-3.2 3.2M327.2 605.2l3.2 3.2m0 -3.2l-3.2 3.2M332.5 636.0l3.2 3.2m0 -3.2l-3.2 3.2M345.6 600.6l3.2 3.2m0 -3.2l-3.2 3.2M330.0 645.8l3.2 3.2m0 -3.2l-3.2 3.2M340.1 620.7l3.2 3.2m0 -3.2l-3.2 3.2M341.2 646.1l3.2 3.2m0 -3.2l-3.2 3.2M333.9 624.1l3.2 3.2m0 -3.2l-3.2 3.2M344.0 624.4l3.2 3.2m0 -3.2l-3.2 3.2M343.1 628.4l3.2 3.2m0 -3.2l-3.2 3.2M330.6 652.1l3.2 3.2m0 -3.2l-3.2 3.2M340.0 590.6l3.2 3.2m0 -3.2l-3.2 3.2M328.0 656.1l3.2 3.2m0 -3.2l-3.2 3.2M329.1 587.7l3.2 3.2m0 -3.2l-3.2 3.2M328.9 628.9l3.2 3.2m0 -3.2l-3.2 3.2M332.1 627.7l3.2 3.2m0 -3.2l-3.2 3.2M359.2 587.1l3.2 3.2m0 -3.2l-3.2 3.2M346.9 604.7l3.2 3.2m0 -3.2l-3.2 3.2M345.8 612.3l3.2 3.2m0 -3.2l-3.2 3.2M327.0 616.0l3.2 3.2m0 -3.2l-3.2 3.2M328.7 617.8l3.2 3.2m0 -3.2l-3.2 3.2M339.0 612.5l3.2 3.2m0 -3.2l-3.2 3.2M342.5 610.8l3.2 3.2m0 -3.2l-3.2 3.2M327.4 659.2l3.2 3.2m0 -3.2l-3.2 3.2M334.8 650.5l3.2 3.2m0 -3.2l-3.2 3.2M329.9 593.4l3.2 3.2m0 -3.2l-3.2 3.2M332.7 651.8l3.2 3.2m0 -3.2l-3.2 3.2M335.6 593.8l3.2 3.2m0 -3.2l-3.2 3.2M330.5 638.5l3.2 3.2m0 -3.2l-3.2 3.2M332.6 623.2l3.2 3.2m0 -3.2l-3.2 3.2M339.3 609.6l3.2 3.2m0 -3.2l-3.2 3.2M333.8 633.2l3.2 3.2m0 -3.2l-3.2 3.2M328.6 592.2l3.2 3.2m0 -3.2l-3.2 3.2M349.4 612.1l3.2 3.2m0 -3.2l-3.2 3.2M342.8 630.2l3.2 3.2m0 -3.2l-3.2 3.2M331.4 606.5l3.2 3.2m0 -3.2l-3.2 3.2M327.7 653.0l3.2 3.2m0 -3.2l-3.2 3.2M333.1 654.4l3.2 3.2m0 -3.2l-3.2 3.2M338.0 634.0l3.2 3.2m0 -3.2l-3.2 3.2M357.6 606.6l3.2 3.2m0 -3.2l-3.2 3.2M332.5 652.6l3.2 3.2m0 -3.2l-3.2 3.2M335.4 592.4l3.2 3.2m0 -3.2l-3.2 3.2M328.7 601.8l3.2 3.2m0 -3.2l-3.2 3.2M337.3 628.6l3.2 3.2m0 -3.2l-3.2 3.2M338.4 640.1l3.2 3.2m0 -3.2l-3.2 3.2M342.5 613.7l3.2 3.2m0 -3.2l-3.2 3.2M329.9 653.8l3.2 3.2m0 -3.2l-3.2 3.2M331.3 599.9l3.2 3.2m0 -3.2l-3.2 3.2M332.5 604.4l3.2 3.2m0 -3.2l-3.2 3.2M368.5 611.5l3.2 3.2m0 -3.2l-3.2 3.2M328.9 623.9l3.2 3.2m0 -3.2l-3.2 3.2M327.5 657.0l3.2 3.2m0 -3.2l-3.2 3.2M339.4 628.3l3.2 3.2m0 -3.2l-3.2 3.2M336.5 597.3l3.2 3.2m0 -3.2l-3.2 3.2M335.1 600.8l3.2 3.2m0 -3.2l-3.2 3.2M342.4 610.0l3.2 3.2m0 -3.2l-3.2 3.2M333.3 603.3l3.2 3.2m0 -3.2l-3.2 3.2M332.0 629.5l3.2 3.2m0 -3.2l-3.2 3.2M329.3 655.1l3.2 3.2m0 -3.2l-3.2 3.2M337.5 610.2l3.2 3.2m0 -3.2l-3.2 3.2M345.8 622.2l3.2 3.2m0 -3.2l-3.2 3.2M330.1 597.3l3.2 3.2m0 -3.2l-3.2 3.2M328.3 640.7l3.2 3.2m0 -3.2l-3.2 3.2M335.7 649.8l3.2 3.2m0 -3.2l-3.2 3.2M349.3 603.8l3.2 3.2m0 -3.2l-3.2 3.2M355.4 612.8l3.2 3.2m0 -3.2l-3.2 3.2M327.2 602.3l3.2 3.2m0 -3.2l-3.2 3.2M337.8 605.7l3.2 3.2m0 -3.2l-3.2 3.2M341.5 648.1l3.2 3.2m0 -3.2l-3.2 3.2M347.8 642.0l3.2 3.2m0 -3.2l-3.2 3.2M326.5 608.2l3.2 3.2m0 -3.2l-3.2 3.2M337.4 627.0l3.2 3.2m0 -3.2l-3.2 3.2M343.9 595.7l3.2 3.2m0 -3.2l-3.2 3.2M333.0 596.2l3.2 3.2m0 -3.2l-3.2 3.2M330.5 627.4l3.2 3.2m0 -3.2l-3.2 3.2M334.7 651.3l3.2 3.2m0 -3.2l-3.2 3.2M330.0 618.9l3.2 3.2m0 -3.2l-3.2 3.2M337.0 620.9l3.2 3.2m0 -3.2l-3.2 3.2M338.3 629.4l3.2 3.2m0 -3.2l-3.2 3.2M340.9 631.2l3.2 3.2m0 -3.2l-3.2 3.2M339.6 632.4l3.2 3.2m0 -3.2l-3.2 3.2M330.2 597.0l3.2 3.2m0 -3.2l-3.2 3.2M326.3 647.9l3.2 3.2m0 -3.2l-3.2 3.2M335.7 605.0l3.2 3.2m0 -3.2l-3.2 3.2M331.5 623.1l3.2 3.2m0 -3.2l-3.2 3.2M345.1 601.8l3.2 3.2m0 -3.2l-3.2 3.2M351.6 597.9l3.2 3.2m0 -3.2l-3.2 3.2M336.0 607.6l3.2 3.2m0 -3.2l-3.2 3.2M336.5 637.1l3.2 3.2m0 -3.2l-3.2 3.2M329.7 635.5l3.2 3.2m0 -3.2l-3.2 3.2M333.1 626.6l3.2 3.2m0 -3.2l-3.2 3.2M327.4 655.5l3.2 3.2m0 -3.2l-3.2 3.2M327.7 659.1l3.2 3.2m0 -3.2l-3.2 3.2M344.2 608.1l3.2 3.2m0 -3.2l-3.2 3.2M337.9 623.8l3.2 3.2m0 -3.2l-3.2 3.2M334.5 619.2l3.2 3.2m0 -3.2l-3.2 3.2M342.1 638.0l3.2 3.2m0 -3.2l-3.2 3.2M332.1 651.6l3.2 3.2m0 -3.2l-3.2 3.2M329.0 607.9l3.2 3.2m0 -3.2l-3.2 3.2M329.1 608.4l3.2 3.2m0 -3.2l-3.2 3.2M346.5 589.5l3.2 3.2m0 -3.2l-3.2 3.2M339.3 640.7l3.2 3.2m0 -3.2l-3.2 3.2M342.3 617.5l3.2 3.2m0 -3.2l-3.2 3.2M354.4 587.2l3.2 3.2m0 -3.2l-3.2 3.2M327.9 651.1l3.2 3.2m0 -3.2l-3.2 3.2M332.8 634.1l3.2 3.2m0 -3.2l-3.2 3.2M326.3 617.0l3.2 3.2m0 -3.2l-3.2 3.2M326.9 604.3l3.2 3.2m0 -3.2l-3.2 3.2M334.7 589.8l3.2 3.2m0 -3.2l-3.2 3.2M329.9 588.0l3.2 3.2m0 -3.2l-3.2 3.2M342.9 639.9l3.2 3.2m0 -3.2l-3.2 3.2M333.0 624.0l3.2 3.2m0 -3.2l-3.2 3.2M342.4 597.9l3.2 3.2m0 -3.2l-3.2 3.2M335.4 595.1l3.2 3.2m0 -3.2l-3.2 3.2M336.3 641.9l3.2 3.2m0 -3.2l-3.2 3.2M327.5 656.8l3.2 3.2m0 -3.2l-3.2 3.2M329.3 625.2l3.2 3.2m0 -3.2l-3.2 3.2M328.4 623.2l3.2 3.2m0 -3.2l-3.2 3.2M330.2 589.3l3.2 3.2m0 -3.2l-3.2 3.2M328.9 644.7l3.2 3.2m0 -3.2l-3.2 3.2M340.5 626.6l3.2 3.2m0 -3.2l-3.2 3.2M332.8 616.0l3.2 3.2m0 -3.2l-3.2 3.2M355.1 632.4l3.2 3.2m0 -3.2l-3.2 3.2M328.3 652.8l3.2 3.2m0 -3.2l-3.2 3.2M328.8 635.4l3.2 3.2m0 -3.2l-3.2 3.2M347.3 596.9l3.2 3.2m0 -3.2l-3.2 3.2M357.1 605.9l3.2 3.2m0 -3.2l-3.2 3.2M333.6 636.8l3.2 3.2m0 -3.2l-3.2 3.2M327.6 631.5l3.2 3.2m0 -3.2l-3.2 3.2M328.6 620.5l3.2 3.2m0 -3.2l-3.2 3.2M326.6 654.3l3.2 3.2m0 -3.2l-3.2 3.2M331.7 609.8l3.2 3.2m0 -3.2l-3.2 3.2M362.6 599.4l3.2 3.2m0 -3.2l-3.2 3.2M361.1 621.7l3.2 3.2m0 -3.2l-3.2 3.2M332.2 590.6l3.2 3.2m0 -3.2l-3.2 3.2M329.8 629.8l3.2 3.2m0 -3.2l-3.2 3.2M340.0 589.3l3.2 3.2m0 -3.2l-3.2 3.2M342.4 608.5l3.2 3.2m0 -3.2l-3.2 3.2M349.6 637.4l3.2 3.2m0 -3.2l-3.2 3.2M329.9 652.2l3.2 3.2m0 -3.2l-3.2 3.2M336.5 610.4l3.2 3.2m0 -3.2l-3.2 3.2M344.0 605.2l3.2 3.2m0 -3.2l-3.2 3.2M344.9 601.2l3.2 3.2m0 -3.2l-3.2 3.2M336.6 603.7l3.2 3.2m0 -3.2l-3.2 3.2M326.4 636.0l3.2 3.2m0 -3.2l-3.2 3.2M336.4 589.4l3.2 3.2m0 -3.2l-3.2 3.2M339.2 600.9l3.2 3.2m0 -3.2l-3.2 3.2M339.0 602.4l3.2 3.2m0 -3.2l-3.2 3.2M354.4 599.0l3.2 3.2m0 -3.2l-3.2 3.2M333.4 650.5l3.2 3.2m0 -3.2l-3.2 3.2M335.5 625.2l3.2 3.2m0 -3.2l-3.2 3.2M332.2 591.1l3.2 3.2m0 -3.2l-3.2 3.2M336.9 648.7l3.2 3.2m0 -3.2l-3.2 3.2M330.7 637.0l3.2 3.2m0 -3.2l-3.2 3.2M332.0 648.4l3.2 3.2m0 -3.2l-3.2 3.2M331.4 621.9l3.2 3.2m0 -3.2l-3.2 3.2M328.1 645.0l3.2 3.2m0 -3.2l-3.2 3.2M346.0 612.9l3.2 3.2m0 -3.2l-3.2 3.2M327.8 629.8l3.2 3.2m0 -3.2l-3.2 3.2M334.2 626.4l3.2 3.2m0 -3.2l-3.2 3.2M335.8 640.5l3.2 3.2m0 -3.2l-3.2 3.2M341.3 618.7l3.2 3.2m0 -3.2l-3.2 3.2M349.6 614.8l3.2 3.2m0 -3.2l-3.2 3.2M326.7 656.3l3.2 3.2m0 -3.2l-3.2 3.2M327.5 656.5l3.2 3.2m0 -3.2l-3.2 3.2M360.6 591.7l3.2 3.2m0 -3.2l-3.2 3.2M350.0 607.3l3.2 3.2m0 -3.2l-3.2 3.2M332.4 648.6l3.2 3.2m0 -3.2l-3.2 3.2M328.4 614.9l3.2 3.2m0 -3.2l-3.2 3.2M330.6 632.5l3.2 3.2m0 -3.2l-3.2 3.2M360.6 593.9l3.2 3.2m0 -3.2l-3.2 3.2M340.1 586.0l3.2 3.2m0 -3.2l-3.2 3.2M332.4 622.6l3.2 3.2m0 -3.2l-3.2 3.2M330.8 651.1l3.2 3.2m0 -3.2l-3.2 3.2M344.9 623.0l3.2 3.2m0 -3.2l-3.2 3.2M336.6 618.6l3.2 3.2m0 -3.2l-3.2 3.2M332.7 612.8l3.2 3.2m0 -3.2l-3.2 3.2M353.7 586.2l3.2 3.2m0 -3.2l-3.2 3.2M330.6 652.5l3.2 3.2m0 -3.2l-3.2 3.2M329.7 656.3l3.2 3.2m0 -3.2l-3.2 3.2M359.0 601.6l3.2 3.2m0 -3.2l-3.2 3.2M333.5 621.2l3.2 3.2m0 -3.2l-3.2 3.2M327.5 613.9l3.2 3.2m0 -3.2l-3.2 3.2M339.5 595.6l3.2 3.2m0 -3.2l-3.2 3.2M347.7 607.0l3.2 3.2m0 -3.2l-3.2 3.2M341.0 648.8l3.2 3.2m0 -3.2l-3.2 3.2M328.5 630.7l3.2 3.2m0 -3.2l-3.2 3.2M333.3 622.8l3.2 3.2m0 -3.2l-3.2 3.2M326.2 625.5l3.2 3.2m0 -3.2l-3.2 3.2M346.6 608.2l3.2 3.2m0 -3.2l-3.2 3.2M338.6 612.6l3.2 3.2m0 -3.2l-3.2 3.2M346.2 598.2l3.2 3.2m0 -3.2l-3.2 3.2M332.2 603.4l3.2 3.2m0 -3.2l-3.2 3.2M333.5 595.1l3.2 3.2m0 -3.2l-3.2 3.2M337.3 613.6l3.2 3.2m0 -3.2l-3.2 3.2M338.4 652.7l3.2 3.2m0 -3.2l-3.2 3.2M333.5 646.2l3.2 3.2m0 -3.2l-3.2 3.2M327.0 616.2l3.2 3.2m0 -3.2l-3.2 3.2M334.1 652.4l3.2 3.2m0 -3.2l-3.2 3.2M332.3 638.1l3.2 3.2m0 -3.2l-3.2 3.2M331.8 637.8l3.2 3.2m0 -3.2l-3.2 3.2M332.7 619.5l3.2 3.2m0 -3.2l-3.2 3.2M332.7 598.6l3.2 3.2m0 -3.2l-3.2 3.2M327.5 648.2l3.2 3.2m0 -3.2l-3.2 3.2M334.2 620.7l3.2 3.2m0 -3.2l-3.2 3.2M354.7 596.6l3.2 3.2m0 -3.2l-3.2 3.2M328.8 619.9l3.2 3.2m0 -3.2l-3.2 3.2M339.4 649.8l3.2 3.2m0 -3.2l-3.2 3.2M361.7 611.0l3.2 3.2m0 -3.2l-3.2 3.2M338.5 636.1l3.2 3.2m0 -3.2l-3.2 3.2M326.6 636.8l3.2 3.2m0 -3.2l-3.2 3.2M340.2 595.8l3.2 3.2m0 -3.2l-3.2 3.2M333.0 606.9l3.2 3.2m0 -3.2l-3.2 3.2M338.4 651.8l3.2 3.2m0 -3.2l-3.2 3.2M332.2 654.0l3.2 3.2m0 -3.2l-3.2 3.2M328.9 592.4l3.2 3.2m0 -3.2l-3.2 3.2M330.3 645.2l3.2 3.2m0 -3.2l-3.2 3.2M328.1 648.7l3.2 3.2m0 -3.2l-3.2 3.2M350.7 646.6l3.2 3.2m0 -3.2l-3.2 3.2M359.7 607.0l3.2 3.2m0 -3.2l-3.2 3.2M334.3 641.0l3.2 3.2m0 -3.2l-3.2 3.2M349.4 634.7l3.2 3.2m0 -3.2l-3.2 3.2M331.0 640.6l3.2 3.2m0 -3.2l-3.2 3.2M340.0 591.8l3.2 3.2m0 -3.2l-3.2 3.2M333.6 650.7l3.2 3.2m0 -3.2l-3.2 3.2M332.9 650.9l3.2 3.2m0 -3.2l-3.2 3.2M344.3 627.9l3.2 3.2m0 -3.2l-3.2 3.2M341.1 618.0l3.2 3.2m0 -3.2l-3.2 3.2M332.1 605.2l3.2 3.2m0 -3.2l-3.2 3.2M337.8 613.2l3.2 3.2m0 -3.2l-3.2 3.2M335.7 591.0l3.2 3.2m0 -3.2l-3.2 3.2M344.3 586.1l3.2 3.2m0 -3.2l-3.2 3.2M335.4 652.7l3.2 3.2m0 -3.2l-3.2 3.2M326.5 644.4l3.2 3.2m0 -3.2l-3.2 3.2M338.4 594.5l3.2 3.2m0 -3.2l-3.2 3.2M346.1 599.4l3.2 3.2m0 -3.2l-3.2 3.2M328.3 654.2l3.2 3.2m0 -3.2l-3.2 3.2M326.4 643.0l3.2 3.2m0 -3.2l-3.2 3.2M331.9 649.4l3.2 3.2m0 -3.2l-3.2 3.2M326.7 610.0l3.2 3.2m0 -3.2l-3.2 3.2M339.0 596.0l3.2 3.2m0 -3.2l-3.2 3.2M331.1 647.9l3.2 3.2m0 -3.2l-3.2 3.2M354.5 617.9l3.2 3.2m0 -3.2l-3.2 3.2M329.5 652.4l3.2 3.2m0 -3.2l-3.2 3.2M338.9 634.7l3.2 3.2m0 -3.2l-3.2 3.2M338.5 634.1l3.2 3.2m0 -3.2l-3.2 3.2M331.3 647.3l3.2 3.2m0 -3.2l-3.2 3.2M333.2 607.7l3.2 3.2m0 -3.2l-3.2 3.2M327.3 595.0l3.2 3.2m0 -3.2l-3.2 3.2M335.7 594.8l3.2 3.2m0 -3.2l-3.2 3.2M336.6 589.4l3.2 3.2m0 -3.2l-3.2 3.2M328.1 644.8l3.2 3.2m0 -3.2l-3.2 3.2M326.5 658.4l3.2 3.2m0 -3.2l-3.2 3.2M340.0 589.3l3.2 3.2m0 -3.2l-3.2 3.2M331.9 607.2l3.2 3.2m0 -3.2l-3.2 3.2M335.1 587.3l3.2 3.2m0 -3.2l-3.2 3.2M340.0 630.5l3.2 3.2m0 -3.2l-3.2 3.2M332.0 627.8l3.2 3.2m0 -3.2l-3.2 3.2M327.5 630.4l3.2 3.2m0 -3.2l-3.2 3.2M346.2 590.6l3.2 3.2m0 -3.2l-3.2 3.2M330.2 616.4l3.2 3.2m0 -3.2l-3.2 3.2M328.2 655.0l3.2 3.2m0 -3.2l-3.2 3.2M357.9 589.4l3.2 3.2m0 -3.2l-3.2 3.2M336.4 603.6l3.2 3.2m0 -3.2l-3.2 3.2M345.6 588.0l3.2 3.2m0 -3.2l-3.2 3.2M326.4 588.4l3.2 3.2m0 -3.2l-3.2 3.2M333.1 634.3l3.2 3.2m0 -3.2l-3.2 3.2M327.5 651.9l3.2 3.2m0 -3.2l-3.2 3.2M349.9 606.0l3.2 3.2m0 -3.2l-3.2 3.2M331.0 656.8l3.2 3.2m0 -3.2l-3.2 3.2M348.4 627.6l3.2 3.2m0 -3.2l-3.2 3.2M334.8 609.0l3.2 3.2m0 -3.2l-3.2 3.2M338.3 592.3l3.2 3.2m0 -3.2l-3.2 3.2M340.5 600.6l3.2 3.2m0 -3.2l-3.2 3.2M331.7 655.0l3.2 3.2m0 -3.2l-3.2 3.2M349.1 609.5l3.2 3.2m0 -3.2l-3.2 3.2M342.0 629.4l3.2 3.2m0 -3.2l-3.2 3.2M330.3 602.5l3.2 3.2m0 -3.2l-3.2 3.2M336.9 614.1l3.2 3.2m0 -3.2l-3.2 3.2M335.9 615.5l3.2 3.2m0 -3.2l-3.2 3.2M331.7 651.3l3.2 3.2m0 -3.2l-3.2 3.2M327.0 657.3l3.2 3.2m0 -3.2l-3.2 3.2M328.1 606.9l3.2 3.2m0 -3.2l-3.2 3.2M345.8 608.7l3.2 3.2m0 -3.2l-3.2 3.2M329.0 599.6l3.2 3.2m0 -3.2l-3.2 3.2M361.7 607.8l3.2 3.2m0 -3.2l-3.2 3.2M340.4 619.1l3.2 3.2m0 -3.2l-3.2 3.2M363.9 589.6l3.2 3.2m0 -3.2l-3.2 3.2M330.6 656.9l3.2 3.2m0 -3.2l-3.2 3.2M329.7 591.1l3.2 3.2m0 -3.2l-3.2 3.2M344.0 607.5l3.2 3.2m0 -3.2l-3.2 3.2M340.7 631.3l3.2 3.2m0 -3.2l-3.2 3.2M335.5 599.9l3.2 3.2m0 -3.2l-3.2 3.2M334.5 619.8l3.2 3.2m0 -3.2l-3.2 3.2M354.0 591.0l3.2 3.2m0 -3.2l-3.2 3.2M328.4 628.0l3.2 3.2m0 -3.2l-3.2 3.2M331.9 648.9l3.2 3.2m0 -3.2l-3.2 3.2M328.7 610.4l3.2 3.2m0 -3.2l-3.2 3.2M338.4 604.5l3.2 3.2m0 -3.2l-3.2 3.2M327.4 601.7l3.2 3.2m0 -3.2l-3.2 3.2M350.8 591.0l3.2 3.2m0 -3.2l-3.2 3.2M342.7 588.8l3.2 3.2m0 -3.2l-3.2 3.2M342.0 632.9l3.2 3.2m0 -3.2l-3.2 3.2M332.4 632.6l3.2 3.2m0 -3.2l-3.2 3.2M337.1 651.9l3.2 3.2m0 -3.2l-3.2 3.2M333.3 618.0l3.2 3.2m0 -3.2l-3.2 3.2M346.4 596.7l3.2 3.2m0 -3.2l-3.2 3.2M333.9 612.2l3.2 3.2m0 -3.2l-3.2 3.2M326.7 654.8l3.2 3.2m0 -3.2l-3.2 3.2M335.0 626.1l3.2 3.2m0 -3.2l-3.2 3.2M328.0 627.0l3.2 3.2m0 -3.2l-3.2 3.2M353.8 591.8l3.2 3.2m0 -3.2l-3.2 3.2M328.2 598.1l3.2 3.2m0 -3.2l-3.2 3.2M335.5 640.8l3.2 3.2m0 -3.2l-3.2 3.2M335.0 651.2l3.2 3.2m0 -3.2l-3.2 3.2M338.6 609.3l3.2 3.2m0 -3.2l-3.2 3.2M327.2 650.0l3.2 3.2m0 -3.2l-3.2 3.2M331.9 607.4l3.2 3.2m0 -3.2l-3.2 3.2M330.8 616.5l3.2 3.2m0 -3.2l-3.2 3.2M351.1 602.8l3.2 3.2m0 -3.2l-3.2 3.2M335.2 639.0l3.2 3.2m0 -3.2l-3.2 3.2M359.6 609.3l3.2 3.2m0 -3.2l-3.2 3.2M330.4 655.2l3.2 3.2m0 -3.2l-3.2 3.2M338.9 631.8l3.2 3.2m0 -3.2l-3.2 3.2M332.7 615.4l3.2 3.2m0 -3.2l-3.2 3.2M330.6 607.7l3.2 3.2m0 -3.2l-3.2 3.2M336.1 593.5l3.2 3.2m0 -3.2l-3.2 3.2M343.4 614.3l3.2 3.2m0 -3.2l-3.2 3.2M332.2 625.6l3.2 3.2m0 -3.2l-3.2 3.2M340.6 612.2l3.2 3.2m0 -3.2l-3.2 3.2M326.4 637.9l3.2 3.2m0 -3.2l-3.2 3.2M358.2 622.5l3.2 3.2m0 -3.2l-3.2 3.2M329.4 655.1l3.2 3.2m0 -3.2l-3.2 3.2M334.3 590.9l3.2 3.2m0 -3.2l-3.2 3.2M343.7 619.2l3.2 3.2m0 -3.2l-3.2 3.2M348.4 642.7l3.2 3.2m0 -3.2l-3.2 3.2M330.9 649.2l3.2 3.2m0 -3.2l-3.2 3.2M327.1 639.0l3.2 3.2m0 -3.2l-3.2 3.2M335.7 629.1l3.2 3.2m0 -3.2l-3.2 3.2M326.5 615.6l3.2 3.2m0 -3.2l-3.2 3.2M334.1 633.6l3.2 3.2m0 -3.2l-3.2 3.2M332.0 638.6l3.2 3.2m0 -3.2l-3.2 3.2M338.7 641.2l3.2 3.2m0 -3.2l-3.2 3.2M336.5 628.2l3.2 3.2m0 -3.2l-3.2 3.2M334.7 644.1l3.2 3.2m0 -3.2l-3.2 3.2M328.9 587.4l3.2 3.2m0 -3.2l-3.2 3.2M336.1 633.2l3.2 3.2m0 -3.2l-3.2 3.2M328.1 650.9l3.2 3.2m0 -3.2l-3.2 3.2M339.2 641.3l3.2 3.2m0 -3.2l-3.2 3.2M331.8 632.8l3.2 3.2m0 -3.2l-3.2 3.2M332.9 650.1l3.2 3.2m0 -3.2l-3.2 3.2M328.2 621.8l3.2 3.2m0 -3.2l-3.2 3.2M339.5 611.6l3.2 3.2m0 -3.2l-3.2 3.2M326.3 657.8l3.2 3.2m0 -3.2l-3.2 3.2M346.0 609.3l3.2 3.2m0 -3.2l-3.2 3.2M328.9 656.6l3.2 3.2m0 -3.2l-3.2 3.2M328.4 649.1l3.2 3.2m0 -3.2l-3.2 3.2M336.1 652.0l3.2 3.2m0 -3.2l-3.2 3.2M332.5 654.7l3.2 3.2m0 -3.2l-3.2 3.2M329.1 603.9l3.2 3.2m0 -3.2l-3.2 3.2M337.1 592.6l3.2 3.2m0 -3.2l-3.2 3.2M351.8 638.7l3.2 3.2m0 -3.2l-3.2 3.2M329.1 649.7l3.2 3.2m0 -3.2l-3.2 3.2M331.2 594.5l3.2 3.2m0 -3.2l-3.2 3.2M362.0 587.8l3.2 3.2m0 -3.2l-3.2 3.2M333.6 603.5l3.2 3.2m0 -3.2l-3.2 3.2M361.4 618.8l3.2 3.2m0 -3.2l-3.2 3.2M337.3 635.7l3.2 3.2m0 -3.2l-3.2 3.2M326.5 644.5l3.2 3.2m0 -3.2l-3.2 3.2M341.7 606.5l3.2 3.2m0 -3.2l-3.2 3.2M347.1 632.7l3.2 3.2m0 -3.2l-3.2 3.2M332.2 643.8l3.2 3.2m0 -3.2l-3.2 3.2M369.9 608.6l3.2 3.2m0 -3.2l-3.2 3.2M335.9 641.1l3.2 3.2m0 -3.2l-3.2 3.2M341.2 606.5l3.2 3.2m0 -3.2l-3.2 3.2M366.1 587.6l3.2 3.2m0 -3.2l-3.2 3.2M334.2 606.3l3.2 3.2m0 -3.2l-3.2 3.2M342.0 589.7l3.2 3.2m0 -3.2l-3.2 3.2M356.0 612.0l3.2 3.2m0 -3.2l-3.2 3.2M338.4 601.3l3.2 3.2m0 -3.2l-3.2 3.2M340.0 649.1l3.2 3.2m0 -3.2l-3.2 3.2M326.4 616.1l3.2 3.2m0 -3.2l-3.2 3.2M337.1 606.0l3.2 3.2m0 -3.2l-3.2 3.2M338.2 616.2l3.2 3.2m0 -3.2l-3.2 3.2M329.0 640.8l3.2 3.2m0 -3.2l-3.2 3.2M334.2 649.9l3.2 3.2m0 -3.2l-3.2 3.2M336.9 608.0l3.2 3.2m0 -3.2l-3.2 3.2M358.6 624.7l3.2 3.2m0 -3.2l-3.2 3.2M334.2 604.8l3.2 3.2m0 -3.2l-3.2 3.2M335.8 620.5l3.2 3.2m0 -3.2l-3.2 3.2M327.6 600.4l3.2 3.2m0 -3.2l-3.2 3.2M328.7 656.3l3.2 3.2m0 -3.2l-3.2 3.2M338.6 638.7l3.2 3.2m0 -3.2l-3.2 3.2M329.2 616.1l3.2 3.2m0 -3.2l-3.2 3.2M335.5 599.7l3.2 3.2m0 -3.2l-3.2 3.2M331.6 617.9l3.2 3.2m0 -3.2l-3.2 3.2M326.2 659.4l3.2 3.2m0 -3.2l-3.2 3.2M343.6 605.6l3.2 3.2m0 -3.2l-3.2 3.2M335.4 628.1l3.2 3.2m0 -3.2l-3.2 3.2M334.2 617.7l3.2 3.2m0 -3.2l-3.2 3.2M345.8 646.3l3.2 3.2m0 -3.2l-3.2 3.2M327.4 659.8l3.2 3.2m0 -3.2l-3.2 3.2M336.4 610.6l3.2 3.2m0 -3.2l-3.2 3.2M331.3 653.9l3.2 3.2m0 -3.2l-3.2 3.2M334.9 590.9l3.2 3.2m0 -3.2l-3.2 3.2M359.7 615.0l3.2 3.2m0 -3.2l-3.2 3.2M331.9 610.9l3.2 3.2m0 -3.2l-3.2 3.2M347.1 602.1l3.2 3.2m0 -3.2l-3.2 3.2M329.9 605.8l3.2 3.2m0 -3.2l-3.2 3.2M332.1 617.8l3.2 3.2m0 -3.2l-3.2 3.2M326.3 624.8l3.2 3.2m0 -3.2l-3.2 3.2M338.8 591.0l3.2 3.2m0 -3.2l-3.2 3.2M326.3 658.2l3.2 3.2m0 -3.2l-3.2 3.2M352.2 612.5l3.2 3.2m0 -3.2l-3.2 3.2M346.6 634.0l3.2 3.2m0 -3.2l-3.2 3.2M352.5 615.9l3.2 3.2m0 -3.2l-3.2 3.2M334.4 611.9l3.2 3.2m0 -3.2l-3.2 3.2M339.8 592.6l3.2 3.2m0 -3.2l-3.2 3.2M349.4 610.0l3.2 3.2m0 -3.2l-3.2 3.2M335.9 596.4l3.2 3.2m0 -3.2l-3.2 3.2M333.5 601.3l3.2 3.2m0 -3.2l-3.2 3.2M326.3 648.3l3.2 3.2m0 -3.2l-3.2 3.2M339.0 596.0l3.2 3.2m0 -3.2l-3.2 3.2M350.3 604.1l3.2 3.2m0 -3.2l-3.2 3.2M327.1 656.2l3.2 3.2m0 -3.2l-3.2 3.2M332.1 647.9l3.2 3.2m0 -3.2l-3.2 3.2M338.3 628.0l3.2 3.2m0 -3.2l-3.2 3.2M342.2 611.2l3.2 3.2m0 -3.2l-3.2 3.2M329.5 653.5l3.2 3.2m0 -3.2l-3.2 3.2M329.7 639.9l3.2 3.2m0 -3.2l-3.2 3.2M345.1 608.2l3.2 3.2m0 -3.2l-3.2 3.2M338.9 634.2l3.2 3.2m0 -3.2l-3.2 3.2M328.5 641.5l3.2 3.2m0 -3.2l-3.2 3.2M336.7 615.3l3.2 3.2m0 -3.2l-3.2 3.2M346.7 586.2l3.2 3.2m0 -3.2l-3.2 3.2M332.3 655.4l3.2 3.2m0 -3.2l-3.2 3.2M330.2 631.8l3.2 3.2m0 -3.2l-3.2 3.2M335.8 650.2l3.2 3.2m0 -3.2l-3.2 3.2M334.3 630.0l3.2 3.2m0 -3.2l-3.2 3.2M341.6 638.5l3.2 3.2m0 -3.2l-3.2 3.2M327.5 656.0l3.2 3.2m0 -3.2l-3.2 3.2M328.8 644.8l3.2 3.2m0 -3.2l-3.2 3.2M337.3 597.2l3.2 3.2m0 -3.2l-3.2 3.2M344.9 633.9l3.2 3.2m0 -3.2l-3.2 3.2M351.0 604.8l3.2 3.2m0 -3.2l-3.2 3.2M335.1 603.4l3.2 3.2m0 -3.2l-3.2 3.2M342.5 634.2l3.2 3.2m0 -3.2l-3.2 3.2M343.6 638.5l3.2 3.2m0 -3.2l-3.2 3.2M329.3 610.9l3.2 3.2m0 -3.2l-3.2 3.2M327.9 658.5l3.2 3.2m0 -3.2l-3.2 3.2M331.7 616.7l3.2 3.2m0 -3.2l-3.2 3.2M326.9 658.5l3.2 3.2m0 -3.2l-3.2 3.2M328.2 652.4l3.2 3.2m0 -3.2l-3.2 3.2M336.8 610.6l3.2 3.2m0 -3.2l-3.2 3.2M329.0 613.4l3.2 3.2m0 -3.2l-3.2 3.2M338.8 617.6l3.2 3.2m0 -3.2l-3.2 3.2M347.2 620.0l3.2 3.2m0 -3.2l-3.2 3.2M339.9 628.8l3.2 3.2m0 -3.2l-3.2 3.2M327.9 657.9l3.2 3.2m0 -3.2l-3.2 3.2M331.6 653.6l3.2 3.2m0 -3.2l-3.2 3.2M340.4 649.2l3.2 3.2m0 -3.2l-3.2 3.2M334.8 632.3l3.2 3.2m0 -3.2l-3.2 3.2M340.8 618.2l3.2 3.2m0 -3.2l-3.2 3.2M338.2 643.6l3.2 3.2m0 -3.2l-3.2 3.2M334.4 618.7l3.2 3.2m0 -3.2l-3.2 3.2M340.2 592.8l3.2 3.2m0 -3.2l-3.2 3.2M348.7 593.9l3.2 3.2m0 -3.2l-3.2 3.2M332.9 612.4l3.2 3.2m0 -3.2l-3.2 3.2M347.4 591.8l3.2 3.2m0 -3.2l-3.2 3.2M329.9 648.2l3.2 3.2m0 -3.2l-3.2 3.2M330.0 602.3l3.2 3.2m0 -3.2l-3.2 3.2M349.1 603.4l3.2 3.2m0 -3.2l-3.2 3.2M340.9 606.4l3.2 3.2m0 -3.2l-3.2 3.2M338.5 621.6l3.2 3.2m0 -3.2l-3.2 3.2M333.6 608.0l3.2 3.2m0 -3.2l-3.2 3.2M334.2 608.5l3.2 3.2m0 -3.2l-3.2 3.2M339.5 633.0l3.2 3.2m0 -3.2l-3.2 3.2M333.6 635.9l3.2 3.2m0 -3.2l-3.2 3.2M328.0 605.9l3.2 3.2m0 -3.2l-3.2 3.2M337.1 639.8l3.2 3.2m0 -3.2l-3.2 3.2M348.4 627.9l3.2 3.2m0 -3.2l-3.2 3.2M327.1 655.1l3.2 3.2m0 -3.2l-3.2 3.2M328.4 653.8l3.2 3.2m0 -3.2l-3.2 3.2M339.6 637.6l3.2 3.2m0 -3.2l-3.2 3.2M331.2 597.4l3.2 3.2m0 -3.2l-3.2 3.2M357.8 606.2l3.2 3.2m0 -3.2l-3.2 3.2M341.4 618.0l3.2 3.2m0 -3.2l-3.2 3.2M339.0 607.0l3.2 3.2m0 -3.2l-3.2 3.2M329.6 586.1l3.2 3.2m0 -3.2l-3.2 3.2M357.1 611.3l3.2 3.2m0 -3.2l-3.2 3.2M332.9 608.2l3.2 3.2m0 -3.2l-3.2 3.2M329.6 601.5l3.2 3.2m0 -3.2l-3.2 3.2M326.3 636.0l3.2 3.2m0 -3.2l-3.2 3.2M343.0 639.7l3.2 3.2m0 -3.2l-3.2 3.2M333.0 611.3l3.2 3.2m0 -3.2l-3.2 3.2M332.8 602.9l3.2 3.2m0 -3.2l-3.2 3.2M334.3 619.8l3.2 3.2m0 -3.2l-3.2 3.2M326.5 602.2l3.2 3.2m0 -3.2l-3.2 3.2M333.4 638.4l3.2 3.2m0 -3.2l-3.2 3.2M343.2 645.8l3.2 3.2m0 -3.2l-3.2 3.2M328.6 640.4l3.2 3.2m0 -3.2l-3.2 3.2M341.6 635.4l3.2 3.2m0 -3.2l-3.2 3.2M351.2 635.2l3.2 3.2m0 -3.2l-3.2 3.2M341.2 612.2l3.2 3.2m0 -3.2l-3.2 3.2M330.1 655.9l3.2 3.2m0 -3.2l-3.2 3.2M332.5 598.5l3.2 3.2m0 -3.2l-3.2 3.2M343.6 587.2l3.2 3.2m0 -3.2l-3.2 3.2M338.9 598.5l3.2 3.2m0 -3.2l-3.2 3.2M359.7 595.8l3.2 3.2m0 -3.2l-3.2 3.2M348.9 643.1l3.2 3.2m0 -3.2l-3.2 3.2M330.1 616.3l3.2 3.2m0 -3.2l-3.2 3.2M326.4 652.9l3.2 3.2m0 -3.2l-3.2 3.2M354.0 590.4l3.2 3.2m0 -3.2l-3.2 3.2M332.4 643.9l3.2 3.2m0 -3.2l-3.2 3.2M340.8 635.6l3.2 3.2m0 -3.2l-3.2 3.2M330.2 658.8l3.2 3.2m0 -3.2l-3.2 3.2M331.7 628.5l3.2 3.2m0 -3.2l-3.2 3.2M339.4 597.8l3.2 3.2m0 -3.2l-3.2 3.2M332.1 633.6l3.2 3.2m0 -3.2l-3.2 3.2M327.8 649.9l3.2 3.2m0 -3.2l-3.2 3.2M345.0 607.3l3.2 3.2m0 -3.2l-3.2 3.2M337.4 600.5l3.2 3.2m0 -3.2l-3.2 3.2M326.3 656.4l3.2 3.2m0 -3.2l-3.2 3.2M336.6 618.4l3.2 3.2m0 -3.2l-3.2 3.2M328.7 648.7l3.2 3.2m0 -3.2l-3.2 3.2M334.3 643.1l3.2 3.2m0 -3.2l-3.2 3.2M337.2 615.0l3.2 3.2m0 -3.2l-3.2 3.2M333.7 654.3l3.2 3.2m0 -3.2l-3.2 3.2M344.9 617.2l3.2 3.2m0 -3.2l-3.2 3.2M344.6 586.1l3.2 3.2m0 -3.2l-3.2 3.2M335.9 646.2l3.2 3.2m0 -3.2l-3.2 3.2M329.8 621.4l3.2 3.2m0 -3.2l-3.2 3.2M327.3 605.6l3.2 3.2m0 -3.2l-3.2 3.2M347.0 622.2l3.2 3.2m0 -3.2l-3.2 3.2M334.0 632.6l3.2 3.2m0 -3.2l-3.2 3.2M347.4 591.3l3.2 3.2m0 -3.2l-3.2 3.2M334.0 593.3l3.2 3.2m0 -3.2l-3.2 3.2M329.2 658.6l3.2 3.2m0 -3.2l-3.2 3.2M343.9 599.7l3.2 3.2m0 -3.2l-3.2 3.2M328.3 631.5l3.2 3.2m0 -3.2l-3.2 3.2M327.2 644.3l3.2 3.2m0 -3.2l-3.2 3.2M345.0 602.7l3.2 3.2m0 -3.2l-3.2 3.2M339.8 638.8l3.2 3.2m0 -3.2l-3.2 3.2M337.2 626.4l3.2 3.2m0 -3.2l-3.2 3.2M342.3 595.9l3.2 3.2m0 -3.2l-3.2 3.2M382.1 588.3l3.2 3.2m0 -3.2l-3.2 3.2M335.4 618.3l3.2 3.2m0 -3.2l-3.2 3.2M327.7 658.3l3.2 3.2m0 -3.2l-3.2 3.2M329.9 614.1l3.2 3.2m0 -3.2l-3.2 3.2M337.8 626.6l3.2 3.2m0 -3.2l-3.2 3.2M330.1 630.6l3.2 3.2m0 -3.2l-3.2 3.2M336.3 635.3l3.2 3.2m0 -3.2l-3.2 3.2M368.5 627.3l3.2 3.2m0 -3.2l-3.2 3.2M336.7 627.9l3.2 3.2m0 -3.2l-3.2 3.2M328.4 634.0l3.2 3.2m0 -3.2l-3.2 3.2M334.5 628.6l3.2 3.2m0 -3.2l-3.2 3.2M326.6 595.8l3.2 3.2m0 -3.2l-3.2 3.2M333.9 632.4l3.2 3.2m0 -3.2l-3.2 3.2M351.2 615.7l3.2 3.2m0 -3.2l-3.2 3.2M334.5 654.6l3.2 3.2m0 -3.2l-3.2 3.2M326.9 658.6l3.2 3.2m0 -3.2l-3.2 3.2M332.0 651.8l3.2 3.2m0 -3.2l-3.2 3.2M329.8 626.9l3.2 3.2m0 -3.2l-3.2 3.2M329.6 646.6l3.2 3.2m0 -3.2l-3.2 3.2M331.7 595.9l3.2 3.2m0 -3.2l-3.2 3.2M331.0 625.6l3.2 3.2m0 -3.2l-3.2 3.2M326.5 627.9l3.2 3.2m0 -3.2l-3.2 3.2M336.7 645.6l3.2 3.2m0 -3.2l-3.2 3.2M330.2 611.2l3.2 3.2m0 -3.2l-3.2 3.2M327.5 642.2l3.2 3.2m0 -3.2l-3.2 3.2M326.5 632.6l3.2 3.2m0 -3.2l-3.2 3.2M337.9 623.4l3.2 3.2m0 -3.2l-3.2 3.2M339.2 591.5l3.2 3.2m0 -3.2l-3.2 3.2M354.7 621.9l3.2 3.2m0 -3.2l-3.2 3.2M332.7 649.9l3.2 3.2m0 -3.2l-3.2 3.2M334.4 633.8l3.2 3.2m0 -3.2l-3.2 3.2M344.1 606.7l3.2 3.2m0 -3.2l-3.2 3.2M360.4 589.3l3.2 3.2m0 -3.2l-3.2 3.2M382.5 596.0l3.2 3.2m0 -3.2l-3.2 3.2M357.3 622.6l3.2 3.2m0 -3.2l-3.2 3.2M372.6 637.6l3.2 3.2m0 -3.2l-3.2 3.2M367.5 646.8l3.2 3.2m0 -3.2l-3.2 3.2M404.3 598.8l3.2 3.2m0 -3.2l-3.2 3.2M385.6 600.1l3.2 3.2m0 -3.2l-3.2 3.2M389.0 606.1l3.2 3.2m0 -3.2l-3.2 3.2M356.4 601.7l3.2 3.2m0 -3.2l-3.2 3.2M357.7 649.7l3.2 3.2m0 -3.2l-3.2 3.2M354.8 603.8l3.2 3.2m0 -3.2l-3.2 3.2M401.3 615.2l3.2 3.2m0 -3.2l-3.2 3.2M399.1 592.4l3.2 3.2m0 -3.2l-3.2 3.2M413.0 621.1l3.2 3.2m0 -3.2l-3.2 3.2M380.0 589.0l3.2 3.2m0 -3.2l-3.2 3.2M353.7 646.2l3.2 3.2m0 -3.2l-3.2 3.2M354.1 621.2l3.2 3.2m0 -3.2l-3.2 3.2M363.4 586.4l3.2 3.2m0 -3.2l-3.2 3.2M367.8 589.5l3.2 3.2m0 -3.2l-3.2 3.2M387.0 626.1l3.2 3.2m0 -3.2l-3.2 3.2M370.4 594.6l3.2 3.2m0 -3.2l-3.2 3.2M395.0 588.3l3.2 3.2m0 -3.2l-3.2 3.2M393.0 601.0l3.2 3.2m0 -3.2l-3.2 3.2M417.8 586.9l3.2 3.2m0 -3.2l-3.2 3.2" stroke="#228b22" stroke-width="1.05" fill="none"/>
<path d="M292.4 535 L296 535 L297.5 560 L299.5 586 L292.4 586 Z" fill="#4169e1"/>
<path d="M323.5 529 L327.8 529 L327.8 586 L317 586 L319.5 565 L321.5 545 Z" fill="#4169e1"/>
<path d="M298.0 539.6l1.8 1.8l-1.8 1.8l-1.8 -1.8zM322.2 555.0l1.8 1.8l-1.8 1.8l-1.8 -1.8zM298.3 553.1l1.8 1.8l-1.8 1.8l-1.8 -1.8zM321.8 529.3l1.8 1.8l-1.8 1.8l-1.8 -1.8zM297.7 554.6l1.8 1.8l-1.8 1.8l-1.8 -1.8zM319.1 571.5l1.8 1.8l-1.8 1.8l-1.8 -1.8zM295.7 531.6l1.8 1.8l-1.8 1.8l-1.8 -1.8zM320.5 548.8l1.8 1.8l-1.8 1.8l-1.8 -1.8zM296.7 545.8l1.8 1.8l-1.8 1.8l-1.8 -1.8zM325.4 526.8l1.8 1.8l-1.8 1.8l-1.8 -1.8zM295.2 539.3l1.8 1.8l-1.8 1.8l-1.8 -1.8zM319.6 564.7l1.8 1.8l-1.8 1.8l-1.8 -1.8zM294.6 531.4l1.8 1.8l-1.8 1.8l-1.8 -1.8zM321.4 541.9l1.8 1.8l-1.8 1.8l-1.8 -1.8zM297.7 562.5l1.8 1.8l-1.8 1.8l-1.8 -1.8zM316.2 574.0l1.8 1.8l-1.8 1.8l-1.8 -1.8zM297.9 572.6l1.8 1.8l-1.8 1.8l-1.8 -1.8zM319.7 562.3l1.8 1.8l-1.8 1.8l-1.8 -1.8zM298.8 550.6l1.8 1.8l-1.8 1.8l-1.8 -1.8zM319.2 555.6l1.8 1.8l-1.8 1.8l-1.8 -1.8zM297.0 570.1l1.8 1.8l-1.8 1.8l-1.8 -1.8zM317.4 574.2l1.8 1.8l-1.8 1.8l-1.8 -1.8zM296.0 553.3l1.8 1.8l-1.8 1.8l-1.8 -1.8zM317.7 573.6l1.8 1.8l-1.8 1.8l-1.8 -1.8zM300.7 566.5l1.8 1.8l-1.8 1.8l-1.8 -1.8zM323.7 526.7l1.8 1.8l-1.8 1.8l-1.8 -1.8zM298.9 564.8l1.8 1.8l-1.8 1.8l-1.8 -1.8zM317.4 575.1l1.8 1.8l-1.8 1.8l-1.8 -1.8zM298.2 543.1l1.8 1.8l-1.8 1.8l-1.8 -1.8zM323.8 528.1l1.8 1.8l-1.8 1.8l-1.8 -1.8zM299.1 582.4l1.8 1.8l-1.8 1.8l-1.8 -1.8zM321.6 536.1l1.8 1.8l-1.8 1.8l-1.8 -1.8zM296.4 548.4l1.8 1.8l-1.8 1.8l-1.8 -1.8zM319.8 565.6l1.8 1.8l-1.8 1.8l-1.8 -1.8zM296.0 530.5l1.8 1.8l-1.8 1.8l-1.8 -1.8zM320.4 545.4l1.8 1.8l-1.8 1.8l-1.8 -1.8zM297.8 553.2l1.8 1.8l-1.8 1.8l-1.8 -1.8zM321.5 552.7l1.8 1.8l-1.8 1.8l-1.8 -1.8zM296.1 534.6l1.8 1.8l-1.8 1.8l-1.8 -1.8zM320.9 548.2l1.8 1.8l-1.8 1.8l-1.8 -1.8zM298.3 548.3l1.8 1.8l-1.8 1.8l-1.8 -1.8zM319.0 574.0l1.8 1.8l-1.8 1.8l-1.8 -1.8zM296.0 543.4l1.8 1.8l-1.8 1.8l-1.8 -1.8zM320.2 538.5l1.8 1.8l-1.8 1.8l-1.8 -1.8zM296.7 552.9l1.8 1.8l-1.8 1.8l-1.8 -1.8zM318.9 577.3l1.8 1.8l-1.8 1.8l-1.8 -1.8zM297.5 566.8l1.8 1.8l-1.8 1.8l-1.8 -1.8zM320.1 561.5l1.8 1.8l-1.8 1.8l-1.8 -1.8zM296.1 547.4l1.8 1.8l-1.8 1.8l-1.8 -1.8zM321.6 527.0l1.8 1.8l-1.8 1.8l-1.8 -1.8zM297.0 563.6l1.8 1.8l-1.8 1.8l-1.8 -1.8zM319.9 573.4l1.8 1.8l-1.8 1.8l-1.8 -1.8zM299.6 568.1l1.8 1.8l-1.8 1.8l-1.8 -1.8zM323.0 527.9l1.8 1.8l-1.8 1.8l-1.8 -1.8zM296.4 534.1l1.8 1.8l-1.8 1.8l-1.8 -1.8zM322.6 532.1l1.8 1.8l-1.8 1.8l-1.8 -1.8zM299.7 584.2l1.8 1.8l-1.8 1.8l-1.8 -1.8zM319.1 559.1l1.8 1.8l-1.8 1.8l-1.8 -1.8zM299.4 583.2l1.8 1.8l-1.8 1.8l-1.8 -1.8zM320.9 565.5l1.8 1.8l-1.8 1.8l-1.8 -1.8zM296.7 546.2l1.8 1.8l-1.8 1.8l-1.8 -1.8zM324.5 526.4l1.8 1.8l-1.8 1.8l-1.8 -1.8zM298.6 570.9l1.8 1.8l-1.8 1.8l-1.8 -1.8zM317.7 578.0l1.8 1.8l-1.8 1.8l-1.8 -1.8zM299.3 562.3l1.8 1.8l-1.8 1.8l-1.8 -1.8zM324.8 537.6l1.8 1.8l-1.8 1.8l-1.8 -1.8zM298.0 581.6l1.8 1.8l-1.8 1.8l-1.8 -1.8zM319.5 571.9l1.8 1.8l-1.8 1.8l-1.8 -1.8zM295.4 545.2l1.8 1.8l-1.8 1.8l-1.8 -1.8zM318.1 569.1l1.8 1.8l-1.8 1.8l-1.8 -1.8zM297.8 583.3l1.8 1.8l-1.8 1.8l-1.8 -1.8zM324.4 528.1l1.8 1.8l-1.8 1.8l-1.8 -1.8zM296.6 534.0l1.8 1.8l-1.8 1.8l-1.8 -1.8zM323.0 542.6l1.8 1.8l-1.8 1.8l-1.8 -1.8zM294.6 543.5l1.8 1.8l-1.8 1.8l-1.8 -1.8zM321.6 553.5l1.8 1.8l-1.8 1.8l-1.8 -1.8zM297.8 562.6l1.8 1.8l-1.8 1.8l-1.8 -1.8zM324.8 528.6l1.8 1.8l-1.8 1.8l-1.8 -1.8zM296.8 549.5l1.8 1.8l-1.8 1.8l-1.8 -1.8zM318.5 578.8l1.8 1.8l-1.8 1.8l-1.8 -1.8zM298.7 562.5l1.8 1.8l-1.8 1.8l-1.8 -1.8zM317.8 579.9l1.8 1.8l-1.8 1.8l-1.8 -1.8zM299.8 563.5l1.8 1.8l-1.8 1.8l-1.8 -1.8zM322.3 538.4l1.8 1.8l-1.8 1.8l-1.8 -1.8zM294.9 535.3l1.8 1.8l-1.8 1.8l-1.8 -1.8zM317.7 578.4l1.8 1.8l-1.8 1.8l-1.8 -1.8zM295.9 539.4l1.8 1.8l-1.8 1.8l-1.8 -1.8zM323.7 530.3l1.8 1.8l-1.8 1.8l-1.8 -1.8zM301.3 576.4l1.8 1.8l-1.8 1.8l-1.8 -1.8zM320.0 544.3l1.8 1.8l-1.8 1.8l-1.8 -1.8zM299.1 565.2l1.8 1.8l-1.8 1.8l-1.8 -1.8zM320.9 538.1l1.8 1.8l-1.8 1.8l-1.8 -1.8zM297.3 574.0l1.8 1.8l-1.8 1.8l-1.8 -1.8zM320.9 555.5l1.8 1.8l-1.8 1.8l-1.8 -1.8zM295.3 547.8l1.8 1.8l-1.8 1.8l-1.8 -1.8zM319.7 549.2l1.8 1.8l-1.8 1.8l-1.8 -1.8zM300.2 569.6l1.8 1.8l-1.8 1.8l-1.8 -1.8zM318.6 574.9l1.8 1.8l-1.8 1.8l-1.8 -1.8zM296.5 545.9l1.8 1.8l-1.8 1.8l-1.8 -1.8zM323.0 534.8l1.8 1.8l-1.8 1.8l-1.8 -1.8zM297.2 549.6l1.8 1.8l-1.8 1.8l-1.8 -1.8zM317.8 576.6l1.8 1.8l-1.8 1.8l-1.8 -1.8zM297.7 556.8l1.8 1.8l-1.8 1.8l-1.8 -1.8zM318.7 564.6l1.8 1.8l-1.8 1.8l-1.8 -1.8zM298.6 574.7l1.8 1.8l-1.8 1.8l-1.8 -1.8zM319.4 565.8l1.8 1.8l-1.8 1.8l-1.8 -1.8zM299.7 571.1l1.8 1.8l-1.8 1.8l-1.8 -1.8zM321.0 544.6l1.8 1.8l-1.8 1.8l-1.8 -1.8zM295.5 543.5l1.8 1.8l-1.8 1.8l-1.8 -1.8zM316.1 578.4l1.8 1.8l-1.8 1.8l-1.8 -1.8zM296.9 551.9l1.8 1.8l-1.8 1.8l-1.8 -1.8zM316.2 582.7l1.8 1.8l-1.8 1.8l-1.8 -1.8zM298.9 582.2l1.8 1.8l-1.8 1.8l-1.8 -1.8zM318.3 555.0l1.8 1.8l-1.8 1.8l-1.8 -1.8zM300.7 578.1l1.8 1.8l-1.8 1.8l-1.8 -1.8zM321.4 545.0l1.8 1.8l-1.8 1.8l-1.8 -1.8zM298.8 581.2l1.8 1.8l-1.8 1.8l-1.8 -1.8zM318.7 572.3l1.8 1.8l-1.8 1.8l-1.8 -1.8zM299.1 575.2l1.8 1.8l-1.8 1.8l-1.8 -1.8zM322.9 524.3l1.8 1.8l-1.8 1.8l-1.8 -1.8zM293.3 553.7l1.8 1.8l-1.8 1.8l-1.8 -1.8zM319.5 581.7l1.8 1.8l-1.8 1.8l-1.8 -1.8zM295.0 537.5l1.8 1.8l-1.8 1.8l-1.8 -1.8zM318.7 554.8l1.8 1.8l-1.8 1.8l-1.8 -1.8zM297.1 550.1l1.8 1.8l-1.8 1.8l-1.8 -1.8zM325.9 524.5l1.8 1.8l-1.8 1.8l-1.8 -1.8zM296.8 548.2l1.8 1.8l-1.8 1.8l-1.8 -1.8zM322.6 542.2l1.8 1.8l-1.8 1.8l-1.8 -1.8zM296.8 557.0l1.8 1.8l-1.8 1.8l-1.8 -1.8zM320.0 568.3l1.8 1.8l-1.8 1.8l-1.8 -1.8zM298.5 582.1l1.8 1.8l-1.8 1.8l-1.8 -1.8zM323.3 539.6l1.8 1.8l-1.8 1.8l-1.8 -1.8zM296.5 553.9l1.8 1.8l-1.8 1.8l-1.8 -1.8zM322.5 544.1l1.8 1.8l-1.8 1.8l-1.8 -1.8zM298.5 559.3l1.8 1.8l-1.8 1.8l-1.8 -1.8zM320.5 556.8l1.8 1.8l-1.8 1.8l-1.8 -1.8zM295.9 530.6l1.8 1.8l-1.8 1.8l-1.8 -1.8zM318.0 582.5l1.8 1.8l-1.8 1.8l-1.8 -1.8zM296.6 533.7l1.8 1.8l-1.8 1.8l-1.8 -1.8zM318.8 566.4l1.8 1.8l-1.8 1.8l-1.8 -1.8zM296.4 551.9l1.8 1.8l-1.8 1.8l-1.8 -1.8zM318.9 556.8l1.8 1.8l-1.8 1.8l-1.8 -1.8zM296.2 543.1l1.8 1.8l-1.8 1.8l-1.8 -1.8zM320.0 532.5l1.8 1.8l-1.8 1.8l-1.8 -1.8zM296.0 533.9l1.8 1.8l-1.8 1.8l-1.8 -1.8zM318.2 572.8l1.8 1.8l-1.8 1.8l-1.8 -1.8zM298.1 566.4l1.8 1.8l-1.8 1.8l-1.8 -1.8zM319.3 550.1l1.8 1.8l-1.8 1.8l-1.8 -1.8zM297.6 558.0l1.8 1.8l-1.8 1.8l-1.8 -1.8zM323.3 532.3l1.8 1.8l-1.8 1.8l-1.8 -1.8zM297.3 577.8l1.8 1.8l-1.8 1.8l-1.8 -1.8zM316.2 573.9l1.8 1.8l-1.8 1.8l-1.8 -1.8zM298.3 548.5l1.8 1.8l-1.8 1.8l-1.8 -1.8zM315.7 580.6l1.8 1.8l-1.8 1.8l-1.8 -1.8zM298.0 568.1l1.8 1.8l-1.8 1.8l-1.8 -1.8zM319.4 575.1l1.8 1.8l-1.8 1.8l-1.8 -1.8zM296.6 541.3l1.8 1.8l-1.8 1.8l-1.8 -1.8zM320.6 562.0l1.8 1.8l-1.8 1.8l-1.8 -1.8zM298.2 578.9l1.8 1.8l-1.8 1.8l-1.8 -1.8zM316.9 572.5l1.8 1.8l-1.8 1.8l-1.8 -1.8z" stroke="#4169e1" stroke-width="0.8" fill="none"/>
<path d="M292.4 586 L274 586 L274 560 L277 550 L283 543 L292.4 540 Z" fill="#ee0000"/>
<path d="M327.8 586 L348 586 L348 560 L351 550 L355 542 L345 538 L327.8 538 Z" fill="#ee0000"/>
<path d="M276.4 541.9h4.4l-2.2 4.4zM260.8 574.0h4.4l-2.2 4.4zM286.0 564.2h4.4l-2.2 4.4zM250.0 574.4h4.4l-2.2 4.4zM276.1 579.8h4.4l-2.2 4.4zM266.8 576.9h4.4l-2.2 4.4zM257.7 549.2h4.4l-2.2 4.4zM256.9 544.5h4.4l-2.2 4.4zM260.6 554.0h4.4l-2.2 4.4zM277.6 567.6h4.4l-2.2 4.4zM229.8 539.8h4.4l-2.2 4.4zM259.8 536.4h4.4l-2.2 4.4zM284.5 535.1h4.4l-2.2 4.4zM276.7 529.1h4.4l-2.2 4.4zM282.3 533.7h4.4l-2.2 4.4zM277.9 561.2h4.4l-2.2 4.4zM284.5 530.5h4.4l-2.2 4.4zM286.9 547.2h4.4l-2.2 4.4zM266.9 546.4h4.4l-2.2 4.4zM281.1 546.2h4.4l-2.2 4.4zM266.6 560.5h4.4l-2.2 4.4zM268.0 565.7h4.4l-2.2 4.4zM275.2 556.8h4.4l-2.2 4.4zM269.4 531.7h4.4l-2.2 4.4zM260.1 550.2h4.4l-2.2 4.4zM271.5 531.4h4.4l-2.2 4.4zM287.7 570.8h4.4l-2.2 4.4zM249.8 566.5h4.4l-2.2 4.4zM245.9 565.1h4.4l-2.2 4.4zM287.8 580.1h4.4l-2.2 4.4zM270.7 581.5h4.4l-2.2 4.4zM280.1 562.4h4.4l-2.2 4.4zM247.5 550.9h4.4l-2.2 4.4zM268.4 540.3h4.4l-2.2 4.4zM260.8 533.7h4.4l-2.2 4.4zM253.2 534.9h4.4l-2.2 4.4zM263.7 544.1h4.4l-2.2 4.4zM252.7 556.0h4.4l-2.2 4.4zM281.9 543.1h4.4l-2.2 4.4zM243.1 538.0h4.4l-2.2 4.4zM282.6 575.3h4.4l-2.2 4.4zM265.3 542.7h4.4l-2.2 4.4zM274.3 580.6h4.4l-2.2 4.4zM275.1 563.9h4.4l-2.2 4.4zM270.9 577.0h4.4l-2.2 4.4zM279.0 581.5h4.4l-2.2 4.4zM247.8 580.9h4.4l-2.2 4.4zM284.9 541.8h4.4l-2.2 4.4zM246.0 549.6h4.4l-2.2 4.4zM272.9 572.1h4.4l-2.2 4.4zM260.2 572.2h4.4l-2.2 4.4zM246.5 538.3h4.4l-2.2 4.4zM263.6 549.1h4.4l-2.2 4.4zM283.0 538.9h4.4l-2.2 4.4zM278.8 567.2h4.4l-2.2 4.4zM271.6 573.0h4.4l-2.2 4.4zM276.7 529.9h4.4l-2.2 4.4zM258.1 573.3h4.4l-2.2 4.4zM275.2 567.0h4.4l-2.2 4.4zM236.2 574.5h4.4l-2.2 4.4zM257.0 565.2h4.4l-2.2 4.4zM252.3 565.2h4.4l-2.2 4.4zM280.9 550.3h4.4l-2.2 4.4zM285.5 540.3h4.4l-2.2 4.4zM267.6 557.7h4.4l-2.2 4.4zM277.3 555.8h4.4l-2.2 4.4zM279.3 564.9h4.4l-2.2 4.4zM273.4 530.4h4.4l-2.2 4.4zM272.0 567.0h4.4l-2.2 4.4zM261.2 575.9h4.4l-2.2 4.4zM274.4 560.2h4.4l-2.2 4.4zM243.6 553.3h4.4l-2.2 4.4zM270.9 545.7h4.4l-2.2 4.4zM256.2 567.9h4.4l-2.2 4.4zM275.6 548.5h4.4l-2.2 4.4zM286.0 537.4h4.4l-2.2 4.4zM278.0 553.0h4.4l-2.2 4.4zM235.0 570.8h4.4l-2.2 4.4zM276.7 570.5h4.4l-2.2 4.4zM271.1 536.1h4.4l-2.2 4.4zM285.9 576.0h4.4l-2.2 4.4zM277.9 577.7h4.4l-2.2 4.4zM285.6 533.3h4.4l-2.2 4.4zM238.5 573.9h4.4l-2.2 4.4zM269.1 541.8h4.4l-2.2 4.4zM265.7 582.1h4.4l-2.2 4.4zM269.1 572.0h4.4l-2.2 4.4zM246.9 576.8h4.4l-2.2 4.4zM263.6 557.6h4.4l-2.2 4.4zM288.0 571.2h4.4l-2.2 4.4zM218.9 547.3h4.4l-2.2 4.4zM246.9 533.3h4.4l-2.2 4.4zM275.7 569.3h4.4l-2.2 4.4zM274.8 565.6h4.4l-2.2 4.4zM247.5 562.2h4.4l-2.2 4.4zM268.2 555.1h4.4l-2.2 4.4zM287.1 563.2h4.4l-2.2 4.4zM257.7 542.5h4.4l-2.2 4.4zM227.9 536.1h4.4l-2.2 4.4zM279.1 568.4h4.4l-2.2 4.4zM286.5 533.2h4.4l-2.2 4.4zM283.1 556.3h4.4l-2.2 4.4zM282.4 576.2h4.4l-2.2 4.4zM280.9 532.7h4.4l-2.2 4.4zM270.2 568.5h4.4l-2.2 4.4zM260.4 581.4h4.4l-2.2 4.4zM277.1 580.9h4.4l-2.2 4.4zM261.6 560.0h4.4l-2.2 4.4zM265.2 531.4h4.4l-2.2 4.4zM242.4 581.3h4.4l-2.2 4.4zM286.7 541.8h4.4l-2.2 4.4zM272.5 579.1h4.4l-2.2 4.4zM275.3 529.4h4.4l-2.2 4.4zM276.2 574.2h4.4l-2.2 4.4zM280.5 561.8h4.4l-2.2 4.4zM249.5 528.5h4.4l-2.2 4.4zM268.8 553.4h4.4l-2.2 4.4zM269.3 554.9h4.4l-2.2 4.4zM269.9 536.3h4.4l-2.2 4.4zM247.5 543.4h4.4l-2.2 4.4zM285.6 560.5h4.4l-2.2 4.4zM279.6 569.3h4.4l-2.2 4.4zM253.9 555.8h4.4l-2.2 4.4zM276.7 546.1h4.4l-2.2 4.4zM262.1 538.7h4.4l-2.2 4.4zM253.5 546.2h4.4l-2.2 4.4zM284.9 563.2h4.4l-2.2 4.4zM257.1 578.4h4.4l-2.2 4.4zM273.0 530.4h4.4l-2.2 4.4zM264.9 557.0h4.4l-2.2 4.4zM260.8 560.5h4.4l-2.2 4.4zM265.0 570.3h4.4l-2.2 4.4zM287.6 534.7h4.4l-2.2 4.4zM280.4 536.2h4.4l-2.2 4.4zM265.7 535.8h4.4l-2.2 4.4zM259.8 546.0h4.4l-2.2 4.4zM257.4 543.0h4.4l-2.2 4.4zM280.7 556.7h4.4l-2.2 4.4zM269.8 575.5h4.4l-2.2 4.4zM281.0 572.4h4.4l-2.2 4.4zM287.2 573.6h4.4l-2.2 4.4zM272.0 530.6h4.4l-2.2 4.4zM240.6 580.1h4.4l-2.2 4.4zM266.1 556.5h4.4l-2.2 4.4zM280.2 574.2h4.4l-2.2 4.4zM265.0 532.6h4.4l-2.2 4.4zM282.9 533.1h4.4l-2.2 4.4zM254.5 545.8h4.4l-2.2 4.4zM274.7 546.6h4.4l-2.2 4.4zM287.5 573.9h4.4l-2.2 4.4zM283.2 576.2h4.4l-2.2 4.4zM259.8 561.5h4.4l-2.2 4.4zM278.5 535.7h4.4l-2.2 4.4zM276.8 573.6h4.4l-2.2 4.4zM273.7 532.7h4.4l-2.2 4.4zM253.3 581.0h4.4l-2.2 4.4zM280.4 548.2h4.4l-2.2 4.4zM277.6 572.1h4.4l-2.2 4.4zM268.2 553.3h4.4l-2.2 4.4zM270.5 563.5h4.4l-2.2 4.4zM277.6 571.3h4.4l-2.2 4.4zM267.8 570.9h4.4l-2.2 4.4zM286.6 566.5h4.4l-2.2 4.4zM232.7 534.5h4.4l-2.2 4.4zM282.6 541.7h4.4l-2.2 4.4zM287.2 567.0h4.4l-2.2 4.4zM262.0 553.9h4.4l-2.2 4.4zM281.2 535.0h4.4l-2.2 4.4zM282.0 543.3h4.4l-2.2 4.4zM261.5 567.6h4.4l-2.2 4.4zM279.5 536.2h4.4l-2.2 4.4zM261.0 546.6h4.4l-2.2 4.4zM287.1 565.6h4.4l-2.2 4.4zM286.3 549.1h4.4l-2.2 4.4zM273.2 555.1h4.4l-2.2 4.4zM285.7 532.9h4.4l-2.2 4.4zM277.3 573.1h4.4l-2.2 4.4zM285.2 577.6h4.4l-2.2 4.4zM284.3 543.8h4.4l-2.2 4.4zM265.4 554.4h4.4l-2.2 4.4zM270.4 578.2h4.4l-2.2 4.4zM285.5 563.2h4.4l-2.2 4.4zM264.4 572.2h4.4l-2.2 4.4zM283.9 548.4h4.4l-2.2 4.4zM287.5 572.9h4.4l-2.2 4.4zM277.3 539.3h4.4l-2.2 4.4zM286.5 545.1h4.4l-2.2 4.4zM253.7 537.0h4.4l-2.2 4.4zM276.6 572.7h4.4l-2.2 4.4zM260.8 548.4h4.4l-2.2 4.4zM285.0 556.8h4.4l-2.2 4.4zM263.9 542.8h4.4l-2.2 4.4zM236.2 578.6h4.4l-2.2 4.4zM284.5 529.4h4.4l-2.2 4.4zM285.4 548.1h4.4l-2.2 4.4zM238.4 551.4h4.4l-2.2 4.4zM268.2 541.1h4.4l-2.2 4.4zM273.9 557.6h4.4l-2.2 4.4zM260.6 573.6h4.4l-2.2 4.4zM273.2 558.3h4.4l-2.2 4.4zM264.3 554.6h4.4l-2.2 4.4zM284.3 542.6h4.4l-2.2 4.4zM270.5 569.7h4.4l-2.2 4.4zM279.5 579.1h4.4l-2.2 4.4zM272.9 541.6h4.4l-2.2 4.4zM252.9 574.8h4.4l-2.2 4.4zM266.4 536.7h4.4l-2.2 4.4zM250.8 565.2h4.4l-2.2 4.4zM270.1 546.1h4.4l-2.2 4.4zM281.3 576.7h4.4l-2.2 4.4zM248.1 557.4h4.4l-2.2 4.4zM279.1 555.3h4.4l-2.2 4.4zM250.1 575.5h4.4l-2.2 4.4zM267.7 544.9h4.4l-2.2 4.4zM280.5 569.1h4.4l-2.2 4.4zM284.4 540.5h4.4l-2.2 4.4zM275.3 563.4h4.4l-2.2 4.4zM276.8 552.8h4.4l-2.2 4.4zM271.3 549.3h4.4l-2.2 4.4zM279.2 560.7h4.4l-2.2 4.4zM280.0 547.1h4.4l-2.2 4.4zM244.5 565.5h4.4l-2.2 4.4zM264.5 569.6h4.4l-2.2 4.4zM257.3 577.3h4.4l-2.2 4.4zM272.0 573.4h4.4l-2.2 4.4zM285.0 560.0h4.4l-2.2 4.4zM276.4 540.2h4.4l-2.2 4.4zM259.6 546.8h4.4l-2.2 4.4zM287.5 565.5h4.4l-2.2 4.4zM280.2 548.2h4.4l-2.2 4.4zM274.4 538.1h4.4l-2.2 4.4zM251.0 547.7h4.4l-2.2 4.4zM243.4 548.6h4.4l-2.2 4.4zM246.0 544.5h4.4l-2.2 4.4zM254.0 559.4h4.4l-2.2 4.4zM250.5 546.6h4.4l-2.2 4.4zM266.3 542.4h4.4l-2.2 4.4zM273.7 550.0h4.4l-2.2 4.4zM275.9 532.0h4.4l-2.2 4.4zM258.1 580.6h4.4l-2.2 4.4zM234.7 543.5h4.4l-2.2 4.4zM287.6 580.5h4.4l-2.2 4.4zM284.7 544.1h4.4l-2.2 4.4zM278.8 561.4h4.4l-2.2 4.4zM255.7 579.4h4.4l-2.2 4.4zM281.0 559.0h4.4l-2.2 4.4zM263.5 556.1h4.4l-2.2 4.4zM276.5 535.7h4.4l-2.2 4.4zM257.9 561.3h4.4l-2.2 4.4zM239.1 555.0h4.4l-2.2 4.4zM250.2 534.1h4.4l-2.2 4.4zM261.6 563.0h4.4l-2.2 4.4zM256.8 560.3h4.4l-2.2 4.4zM279.3 572.2h4.4l-2.2 4.4zM242.1 543.3h4.4l-2.2 4.4zM280.3 546.0h4.4l-2.2 4.4zM280.5 581.8h4.4l-2.2 4.4zM285.3 564.1h4.4l-2.2 4.4zM278.6 561.3h4.4l-2.2 4.4zM286.0 563.9h4.4l-2.2 4.4zM266.4 535.5h4.4l-2.2 4.4zM282.3 549.0h4.4l-2.2 4.4zM275.2 557.9h4.4l-2.2 4.4zM248.0 549.9h4.4l-2.2 4.4zM281.5 544.4h4.4l-2.2 4.4zM239.1 546.9h4.4l-2.2 4.4zM274.6 554.9h4.4l-2.2 4.4zM260.0 575.2h4.4l-2.2 4.4zM280.1 579.5h4.4l-2.2 4.4zM280.9 573.4h4.4l-2.2 4.4zM241.0 549.9h4.4l-2.2 4.4zM275.9 552.2h4.4l-2.2 4.4zM281.8 539.8h4.4l-2.2 4.4zM270.4 562.8h4.4l-2.2 4.4zM283.5 545.5h4.4l-2.2 4.4zM250.3 551.6h4.4l-2.2 4.4zM246.4 567.1h4.4l-2.2 4.4zM281.5 536.7h4.4l-2.2 4.4zM286.0 541.7h4.4l-2.2 4.4zM238.1 554.5h4.4l-2.2 4.4zM260.7 574.7h4.4l-2.2 4.4zM273.6 572.8h4.4l-2.2 4.4zM274.9 546.1h4.4l-2.2 4.4zM249.3 571.0h4.4l-2.2 4.4zM281.0 574.4h4.4l-2.2 4.4zM283.8 559.5h4.4l-2.2 4.4zM276.2 570.1h4.4l-2.2 4.4zM217.1 556.2h4.4l-2.2 4.4zM262.9 564.9h4.4l-2.2 4.4zM286.5 543.6h4.4l-2.2 4.4zM273.7 535.7h4.4l-2.2 4.4zM247.6 533.4h4.4l-2.2 4.4zM262.9 559.2h4.4l-2.2 4.4zM270.6 572.5h4.4l-2.2 4.4zM229.3 558.3h4.4l-2.2 4.4zM287.0 556.1h4.4l-2.2 4.4zM256.9 576.4h4.4l-2.2 4.4zM266.7 553.9h4.4l-2.2 4.4zM287.3 547.6h4.4l-2.2 4.4zM245.5 551.4h4.4l-2.2 4.4zM266.1 541.8h4.4l-2.2 4.4zM287.4 532.2h4.4l-2.2 4.4zM251.0 568.0h4.4l-2.2 4.4zM286.1 539.8h4.4l-2.2 4.4zM254.4 539.4h4.4l-2.2 4.4zM285.4 551.7h4.4l-2.2 4.4zM285.3 546.8h4.4l-2.2 4.4zM277.0 537.0h4.4l-2.2 4.4zM271.9 540.8h4.4l-2.2 4.4zM287.7 560.9h4.4l-2.2 4.4zM249.3 566.1h4.4l-2.2 4.4zM259.4 535.1h4.4l-2.2 4.4zM286.6 531.1h4.4l-2.2 4.4zM286.1 536.4h4.4l-2.2 4.4zM262.2 549.3h4.4l-2.2 4.4zM284.1 581.3h4.4l-2.2 4.4zM263.8 541.2h4.4l-2.2 4.4zM281.5 550.9h4.4l-2.2 4.4zM279.9 543.4h4.4l-2.2 4.4zM245.5 546.7h4.4l-2.2 4.4zM287.1 553.4h4.4l-2.2 4.4zM286.7 551.5h4.4l-2.2 4.4zM283.2 575.4h4.4l-2.2 4.4zM264.7 576.2h4.4l-2.2 4.4zM282.7 572.4h4.4l-2.2 4.4zM281.8 563.0h4.4l-2.2 4.4zM274.5 570.1h4.4l-2.2 4.4zM277.1 545.8h4.4l-2.2 4.4zM238.2 563.4h4.4l-2.2 4.4zM273.4 546.5h4.4l-2.2 4.4zM276.6 561.2h4.4l-2.2 4.4zM284.2 565.9h4.4l-2.2 4.4zM278.8 533.2h4.4l-2.2 4.4zM264.6 558.1h4.4l-2.2 4.4zM270.6 578.8h4.4l-2.2 4.4zM266.3 563.1h4.4l-2.2 4.4zM281.9 533.9h4.4l-2.2 4.4zM253.9 535.7h4.4l-2.2 4.4zM275.1 545.7h4.4l-2.2 4.4zM281.4 553.8h4.4l-2.2 4.4zM275.0 539.2h4.4l-2.2 4.4zM256.9 565.8h4.4l-2.2 4.4zM286.8 543.5h4.4l-2.2 4.4zM257.6 535.6h4.4l-2.2 4.4zM246.2 530.6h4.4l-2.2 4.4zM267.8 570.7h4.4l-2.2 4.4zM259.4 554.4h4.4l-2.2 4.4zM262.0 581.3h4.4l-2.2 4.4zM240.8 545.8h4.4l-2.2 4.4zM273.8 563.1h4.4l-2.2 4.4zM286.8 554.7h4.4l-2.2 4.4zM282.2 560.9h4.4l-2.2 4.4zM272.7 562.9h4.4l-2.2 4.4zM250.6 558.5h4.4l-2.2 4.4zM271.2 558.7h4.4l-2.2 4.4zM258.9 547.7h4.4l-2.2 4.4zM262.1 559.6h4.4l-2.2 4.4zM264.0 581.5h4.4l-2.2 4.4zM236.9 532.8h4.4l-2.2 4.4zM258.9 552.4h4.4l-2.2 4.4zM282.3 570.8h4.4l-2.2 4.4zM276.1 579.3h4.4l-2.2 4.4zM258.2 562.4h4.4l-2.2 4.4zM253.9 538.2h4.4l-2.2 4.4zM283.4 563.7h4.4l-2.2 4.4zM284.6 547.1h4.4l-2.2 4.4zM283.3 540.1h4.4l-2.2 4.4zM286.8 579.7h4.4l-2.2 4.4zM260.2 549.5h4.4l-2.2 4.4zM277.9 544.0h4.4l-2.2 4.4zM251.1 548.1h4.4l-2.2 4.4zM266.9 543.6h4.4l-2.2 4.4zM267.7 533.2h4.4l-2.2 4.4zM284.1 529.1h4.4l-2.2 4.4zM279.2 565.4h4.4l-2.2 4.4zM278.9 549.1h4.4l-2.2 4.4zM274.1 546.5h4.4l-2.2 4.4zM279.7 536.2h4.4l-2.2 4.4zM287.1 570.3h4.4l-2.2 4.4zM263.8 574.5h4.4l-2.2 4.4zM278.8 527.4h4.4l-2.2 4.4zM280.9 538.7h4.4l-2.2 4.4zM226.3 544.7h4.4l-2.2 4.4zM284.3 532.1h4.4l-2.2 4.4zM242.1 534.6h4.4l-2.2 4.4zM271.9 535.5h4.4l-2.2 4.4zM274.0 542.3h4.4l-2.2 4.4zM277.3 528.1h4.4l-2.2 4.4zM260.3 533.0h4.4l-2.2 4.4zM217.4 540.0h4.4l-2.2 4.4zM260.3 546.1h4.4l-2.2 4.4zM249.4 530.8h4.4l-2.2 4.4zM228.4 533.9h4.4l-2.2 4.4zM249.9 543.3h4.4l-2.2 4.4zM273.4 541.6h4.4l-2.2 4.4zM237.5 539.7h4.4l-2.2 4.4zM240.5 528.2h4.4l-2.2 4.4zM236.4 537.0h4.4l-2.2 4.4zM248.3 534.6h4.4l-2.2 4.4zM284.6 545.0h4.4l-2.2 4.4zM280.6 528.7h4.4l-2.2 4.4zM278.7 542.8h4.4l-2.2 4.4zM261.3 537.6h4.4l-2.2 4.4zM278.1 536.9h4.4l-2.2 4.4zM260.5 543.2h4.4l-2.2 4.4zM215.6 528.2h4.4l-2.2 4.4zM239.6 539.6h4.4l-2.2 4.4zM255.3 542.3h4.4l-2.2 4.4zM271.7 528.2h4.4l-2.2 4.4zM211.8 543.2h4.4l-2.2 4.4zM246.1 541.5h4.4l-2.2 4.4zM256.3 541.6h4.4l-2.2 4.4zM285.4 541.1h4.4l-2.2 4.4zM279.0 532.6h4.4l-2.2 4.4zM273.1 538.6h4.4l-2.2 4.4zM274.3 539.0h4.4l-2.2 4.4zM255.7 539.5h4.4l-2.2 4.4zM223.3 542.9h4.4l-2.2 4.4zM274.8 539.6h4.4l-2.2 4.4zM272.4 544.0h4.4l-2.2 4.4zM269.0 545.4h4.4l-2.2 4.4zM219.0 529.8h4.4l-2.2 4.4zM280.5 542.2h4.4l-2.2 4.4zM236.3 530.4h4.4l-2.2 4.4zM183.9 528.3h4.4l-2.2 4.4zM280.2 535.5h4.4l-2.2 4.4zM282.8 535.6h4.4l-2.2 4.4zM286.1 537.9h4.4l-2.2 4.4zM277.8 527.4h4.4l-2.2 4.4zM227.2 534.1h4.4l-2.2 4.4zM249.1 528.0h4.4l-2.2 4.4zM277.8 543.3h4.4l-2.2 4.4zM281.1 536.6h4.4l-2.2 4.4zM260.2 534.4h4.4l-2.2 4.4zM269.3 530.3h4.4l-2.2 4.4zM245.7 546.1h4.4l-2.2 4.4zM263.5 545.4h4.4l-2.2 4.4zM279.5 546.2h4.4l-2.2 4.4zM264.8 534.1h4.4l-2.2 4.4zM237.6 531.9h4.4l-2.2 4.4zM287.5 543.9h4.4l-2.2 4.4zM253.5 535.0h4.4l-2.2 4.4zM262.7 528.3h4.4l-2.2 4.4zM276.2 542.9h4.4l-2.2 4.4zM242.3 543.2h4.4l-2.2 4.4zM269.3 542.3h4.4l-2.2 4.4zM257.5 538.5h4.4l-2.2 4.4zM276.7 534.7h4.4l-2.2 4.4zM284.2 536.4h4.4l-2.2 4.4zM275.5 543.6h4.4l-2.2 4.4zM211.5 530.6h4.4l-2.2 4.4zM277.7 542.0h4.4l-2.2 4.4zM281.7 531.6h4.4l-2.2 4.4zM281.3 540.3h4.4l-2.2 4.4zM247.6 542.5h4.4l-2.2 4.4zM272.9 531.9h4.4l-2.2 4.4zM261.8 535.4h4.4l-2.2 4.4zM271.1 527.8h4.4l-2.2 4.4zM271.6 537.5h4.4l-2.2 4.4zM278.8 543.8h4.4l-2.2 4.4zM258.6 539.3h4.4l-2.2 4.4zM281.5 527.3h4.4l-2.2 4.4zM247.2 541.5h4.4l-2.2 4.4zM284.9 533.0h4.4l-2.2 4.4zM203.6 541.7h4.4l-2.2 4.4zM262.5 540.8h4.4l-2.2 4.4zM220.2 539.4h4.4l-2.2 4.4zM257.2 528.9h4.4l-2.2 4.4zM200.4 528.1h4.4l-2.2 4.4zM275.4 534.1h4.4l-2.2 4.4zM258.6 533.0h4.4l-2.2 4.4zM229.0 535.0h4.4l-2.2 4.4zM282.1 537.3h4.4l-2.2 4.4zM235.4 528.9h4.4l-2.2 4.4zM259.4 534.6h4.4l-2.2 4.4zM267.6 545.5h4.4l-2.2 4.4zM276.0 544.5h4.4l-2.2 4.4zM269.0 530.0h4.4l-2.2 4.4zM256.7 530.8h4.4l-2.2 4.4zM275.7 545.6h4.4l-2.2 4.4zM262.3 543.0h4.4l-2.2 4.4zM265.7 541.7h4.4l-2.2 4.4zM275.0 533.2h4.4l-2.2 4.4zM211.3 530.6h4.4l-2.2 4.4zM247.7 541.7h4.4l-2.2 4.4zM264.2 531.7h4.4l-2.2 4.4zM282.8 527.8h4.4l-2.2 4.4zM259.1 545.7h4.4l-2.2 4.4zM256.0 535.5h4.4l-2.2 4.4zM220.7 545.9h4.4l-2.2 4.4zM270.8 535.7h4.4l-2.2 4.4zM269.3 538.0h4.4l-2.2 4.4zM283.4 540.4h4.4l-2.2 4.4zM194.6 532.6h4.4l-2.2 4.4zM270.7 528.2h4.4l-2.2 4.4zM236.9 541.8h4.4l-2.2 4.4zM245.7 531.0h4.4l-2.2 4.4zM267.3 533.4h4.4l-2.2 4.4zM250.6 539.3h4.4l-2.2 4.4zM253.2 538.5h4.4l-2.2 4.4zM249.0 543.7h4.4l-2.2 4.4zM203.0 532.4h4.4l-2.2 4.4zM287.8 528.5h4.4l-2.2 4.4zM237.3 537.6h4.4l-2.2 4.4zM219.1 527.5h4.4l-2.2 4.4zM230.5 528.2h4.4l-2.2 4.4zM235.6 543.4h4.4l-2.2 4.4zM277.5 546.2h4.4l-2.2 4.4zM249.9 536.3h4.4l-2.2 4.4zM271.4 540.0h4.4l-2.2 4.4zM275.7 533.6h4.4l-2.2 4.4zM249.8 534.6h4.4l-2.2 4.4zM259.8 534.6h4.4l-2.2 4.4zM235.3 528.9h4.4l-2.2 4.4zM227.1 529.8h4.4l-2.2 4.4zM255.4 546.0h4.4l-2.2 4.4zM285.4 539.3h4.4l-2.2 4.4zM235.7 536.4h4.4l-2.2 4.4zM278.8 537.0h4.4l-2.2 4.4zM250.6 542.1h4.4l-2.2 4.4zM253.1 533.5h4.4l-2.2 4.4zM272.1 544.8h4.4l-2.2 4.4zM274.9 538.9h4.4l-2.2 4.4zM263.0 541.2h4.4l-2.2 4.4zM242.6 538.0h4.4l-2.2 4.4zM233.7 541.0h4.4l-2.2 4.4zM229.6 534.4h4.4l-2.2 4.4zM243.6 527.7h4.4l-2.2 4.4zM275.9 527.8h4.4l-2.2 4.4zM260.6 532.8h4.4l-2.2 4.4zM259.6 544.7h4.4l-2.2 4.4zM262.0 537.3h4.4l-2.2 4.4zM223.0 537.4h4.4l-2.2 4.4zM284.1 533.3h4.4l-2.2 4.4zM274.5 540.7h4.4l-2.2 4.4zM213.2 533.3h4.4l-2.2 4.4zM261.4 528.7h4.4l-2.2 4.4zM235.4 542.1h4.4l-2.2 4.4zM255.4 536.4h4.4l-2.2 4.4zM275.8 540.9h4.4l-2.2 4.4zM271.3 535.7h4.4l-2.2 4.4zM211.4 532.6h4.4l-2.2 4.4zM262.9 533.1h4.4l-2.2 4.4zM238.6 534.5h4.4l-2.2 4.4zM277.3 535.5h4.4l-2.2 4.4zM260.3 532.7h4.4l-2.2 4.4zM225.1 536.7h4.4l-2.2 4.4zM256.0 543.5h4.4l-2.2 4.4zM279.6 527.8h4.4l-2.2 4.4zM273.0 530.8h4.4l-2.2 4.4zM271.7 528.5h4.4l-2.2 4.4zM276.6 542.2h4.4l-2.2 4.4zM259.0 530.1h4.4l-2.2 4.4zM270.8 530.4h4.4l-2.2 4.4zM253.5 527.8h4.4l-2.2 4.4zM261.6 536.7h4.4l-2.2 4.4zM247.1 542.8h4.4l-2.2 4.4zM264.8 543.0h4.4l-2.2 4.4zM247.9 528.8h4.4l-2.2 4.4zM284.2 544.7h4.4l-2.2 4.4zM233.7 535.6h4.4l-2.2 4.4zM272.0 529.2h4.4l-2.2 4.4zM287.4 545.4h4.4l-2.2 4.4zM231.9 533.3h4.4l-2.2 4.4zM224.5 542.5h4.4l-2.2 4.4zM260.5 544.6h4.4l-2.2 4.4zM245.2 546.1h4.4l-2.2 4.4zM287.0 535.5h4.4l-2.2 4.4zM285.9 533.5h4.4l-2.2 4.4zM248.3 537.9h4.4l-2.2 4.4zM240.9 540.8h4.4l-2.2 4.4zM272.5 541.1h4.4l-2.2 4.4zM254.8 535.8h4.4l-2.2 4.4zM244.1 536.2h4.4l-2.2 4.4zM279.7 530.1h4.4l-2.2 4.4zM223.9 535.7h4.4l-2.2 4.4zM251.9 541.2h4.4l-2.2 4.4zM270.4 533.9h4.4l-2.2 4.4zM239.9 535.7h4.4l-2.2 4.4zM267.0 539.1h4.4l-2.2 4.4zM266.4 503.8h4.4l-2.2 4.4zM284.5 523.6h4.4l-2.2 4.4zM283.4 523.5h4.4l-2.2 4.4zM270.5 521.8h4.4l-2.2 4.4zM261.1 523.4h4.4l-2.2 4.4zM266.0 511.9h4.4l-2.2 4.4zM270.1 525.5h4.4l-2.2 4.4zM276.8 505.3h4.4l-2.2 4.4zM244.5 519.3h4.4l-2.2 4.4zM274.0 512.9h4.4l-2.2 4.4zM260.4 518.2h4.4l-2.2 4.4zM262.0 523.5h4.4l-2.2 4.4zM283.2 516.6h4.4l-2.2 4.4zM285.3 513.2h4.4l-2.2 4.4zM280.5 523.9h4.4l-2.2 4.4zM287.9 524.8h4.4l-2.2 4.4zM245.7 520.1h4.4l-2.2 4.4zM252.9 525.8h4.4l-2.2 4.4zM282.0 524.8h4.4l-2.2 4.4zM267.9 516.8h4.4l-2.2 4.4zM285.7 511.6h4.4l-2.2 4.4zM268.5 522.4h4.4l-2.2 4.4zM254.6 513.9h4.4l-2.2 4.4zM269.6 519.9h4.4l-2.2 4.4zM283.8 511.4h4.4l-2.2 4.4zM234.7 517.7h4.4l-2.2 4.4zM246.3 523.3h4.4l-2.2 4.4zM284.8 511.8h4.4l-2.2 4.4zM268.3 518.5h4.4l-2.2 4.4zM279.9 521.8h4.4l-2.2 4.4zM274.7 522.3h4.4l-2.2 4.4zM282.8 511.4h4.4l-2.2 4.4zM269.8 523.9h4.4l-2.2 4.4zM273.8 512.3h4.4l-2.2 4.4zM277.8 518.9h4.4l-2.2 4.4zM370.7 567.8h4.4l-2.2 4.4zM355.7 546.4h4.4l-2.2 4.4zM342.1 552.9h4.4l-2.2 4.4zM372.7 571.3h4.4l-2.2 4.4zM334.8 537.0h4.4l-2.2 4.4zM337.2 580.6h4.4l-2.2 4.4zM342.4 557.3h4.4l-2.2 4.4zM333.2 546.4h4.4l-2.2 4.4zM331.8 562.4h4.4l-2.2 4.4zM348.2 537.5h4.4l-2.2 4.4zM340.0 546.6h4.4l-2.2 4.4zM353.2 547.1h4.4l-2.2 4.4zM365.1 568.1h4.4l-2.2 4.4zM348.9 553.4h4.4l-2.2 4.4zM347.5 540.0h4.4l-2.2 4.4zM339.2 547.2h4.4l-2.2 4.4zM360.8 543.0h4.4l-2.2 4.4zM347.9 579.3h4.4l-2.2 4.4zM334.3 547.1h4.4l-2.2 4.4zM378.0 575.2h4.4l-2.2 4.4zM360.1 572.6h4.4l-2.2 4.4zM364.2 570.1h4.4l-2.2 4.4zM346.5 543.6h4.4l-2.2 4.4zM350.1 546.0h4.4l-2.2 4.4zM341.8 566.8h4.4l-2.2 4.4zM342.2 578.7h4.4l-2.2 4.4zM369.4 531.3h4.4l-2.2 4.4zM380.8 541.5h4.4l-2.2 4.4zM355.8 548.6h4.4l-2.2 4.4zM328.9 559.0h4.4l-2.2 4.4zM331.5 543.0h4.4l-2.2 4.4zM329.8 556.8h4.4l-2.2 4.4zM349.7 558.3h4.4l-2.2 4.4zM328.1 559.5h4.4l-2.2 4.4zM330.4 534.6h4.4l-2.2 4.4zM328.1 539.3h4.4l-2.2 4.4zM359.2 567.6h4.4l-2.2 4.4zM368.9 575.9h4.4l-2.2 4.4zM361.7 548.0h4.4l-2.2 4.4zM336.0 571.2h4.4l-2.2 4.4zM333.3 535.9h4.4l-2.2 4.4zM336.6 553.6h4.4l-2.2 4.4zM342.2 550.8h4.4l-2.2 4.4zM375.0 547.8h4.4l-2.2 4.4zM331.7 539.0h4.4l-2.2 4.4zM352.5 546.6h4.4l-2.2 4.4zM338.6 573.5h4.4l-2.2 4.4zM374.3 570.2h4.4l-2.2 4.4zM333.5 534.5h4.4l-2.2 4.4zM382.6 545.6h4.4l-2.2 4.4zM359.7 548.4h4.4l-2.2 4.4zM330.5 537.9h4.4l-2.2 4.4zM342.7 554.3h4.4l-2.2 4.4zM347.2 573.0h4.4l-2.2 4.4zM336.9 541.9h4.4l-2.2 4.4zM343.0 531.9h4.4l-2.2 4.4zM333.9 543.4h4.4l-2.2 4.4zM329.9 549.2h4.4l-2.2 4.4zM341.2 566.3h4.4l-2.2 4.4zM352.7 541.5h4.4l-2.2 4.4zM330.5 551.2h4.4l-2.2 4.4zM330.1 529.9h4.4l-2.2 4.4zM346.8 569.2h4.4l-2.2 4.4zM340.6 532.5h4.4l-2.2 4.4zM330.3 551.0h4.4l-2.2 4.4zM357.4 541.9h4.4l-2.2 4.4zM349.9 537.8h4.4l-2.2 4.4zM362.0 544.3h4.4l-2.2 4.4zM355.9 547.2h4.4l-2.2 4.4zM352.8 547.0h4.4l-2.2 4.4zM331.8 548.3h4.4l-2.2 4.4zM339.7 559.4h4.4l-2.2 4.4zM342.1 563.2h4.4l-2.2 4.4zM329.5 571.0h4.4l-2.2 4.4zM379.7 534.8h4.4l-2.2 4.4zM344.3 535.3h4.4l-2.2 4.4zM335.5 542.8h4.4l-2.2 4.4zM418.1 547.0h4.4l-2.2 4.4zM370.2 544.8h4.4l-2.2 4.4zM338.5 528.8h4.4l-2.2 4.4zM367.2 559.9h4.4l-2.2 4.4zM332.5 581.4h4.4l-2.2 4.4zM363.8 550.3h4.4l-2.2 4.4zM335.5 576.1h4.4l-2.2 4.4zM349.9 545.4h4.4l-2.2 4.4zM331.0 579.8h4.4l-2.2 4.4zM344.0 574.2h4.4l-2.2 4.4zM331.4 541.5h4.4l-2.2 4.4zM353.2 530.6h4.4l-2.2 4.4zM366.0 574.2h4.4l-2.2 4.4zM343.9 547.5h4.4l-2.2 4.4zM334.0 568.8h4.4l-2.2 4.4zM344.3 563.3h4.4l-2.2 4.4zM344.2 563.1h4.4l-2.2 4.4zM392.8 541.6h4.4l-2.2 4.4zM328.7 536.5h4.4l-2.2 4.4zM350.0 566.6h4.4l-2.2 4.4zM387.1 547.1h4.4l-2.2 4.4zM354.2 569.7h4.4l-2.2 4.4zM360.9 547.9h4.4l-2.2 4.4zM340.1 576.9h4.4l-2.2 4.4zM347.4 571.7h4.4l-2.2 4.4zM339.2 553.6h4.4l-2.2 4.4zM329.9 579.8h4.4l-2.2 4.4zM342.0 581.2h4.4l-2.2 4.4zM331.5 566.2h4.4l-2.2 4.4zM329.3 574.0h4.4l-2.2 4.4zM368.2 528.9h4.4l-2.2 4.4zM345.2 579.6h4.4l-2.2 4.4zM356.3 554.6h4.4l-2.2 4.4zM376.0 529.2h4.4l-2.2 4.4zM357.8 534.2h4.4l-2.2 4.4zM380.9 554.8h4.4l-2.2 4.4zM357.9 570.5h4.4l-2.2 4.4zM358.9 551.8h4.4l-2.2 4.4zM332.8 578.6h4.4l-2.2 4.4zM378.8 573.0h4.4l-2.2 4.4zM358.4 565.0h4.4l-2.2 4.4zM347.7 530.5h4.4l-2.2 4.4zM341.9 556.1h4.4l-2.2 4.4zM342.3 570.3h4.4l-2.2 4.4zM343.2 551.5h4.4l-2.2 4.4zM333.5 567.2h4.4l-2.2 4.4zM342.5 581.4h4.4l-2.2 4.4zM335.0 579.5h4.4l-2.2 4.4zM329.6 528.9h4.4l-2.2 4.4zM328.8 556.0h4.4l-2.2 4.4zM353.3 561.6h4.4l-2.2 4.4zM373.2 544.9h4.4l-2.2 4.4zM361.1 563.5h4.4l-2.2 4.4zM332.2 536.9h4.4l-2.2 4.4zM342.8 561.3h4.4l-2.2 4.4zM360.1 555.0h4.4l-2.2 4.4zM338.5 533.5h4.4l-2.2 4.4zM338.5 539.9h4.4l-2.2 4.4zM371.4 537.9h4.4l-2.2 4.4zM339.6 568.9h4.4l-2.2 4.4zM328.7 537.6h4.4l-2.2 4.4zM346.5 532.1h4.4l-2.2 4.4zM340.1 531.9h4.4l-2.2 4.4zM332.9 531.3h4.4l-2.2 4.4zM353.3 531.3h4.4l-2.2 4.4zM334.5 552.2h4.4l-2.2 4.4zM340.6 545.9h4.4l-2.2 4.4zM337.9 566.6h4.4l-2.2 4.4zM355.0 546.0h4.4l-2.2 4.4zM348.5 568.3h4.4l-2.2 4.4zM352.1 572.0h4.4l-2.2 4.4zM349.1 546.2h4.4l-2.2 4.4zM329.6 568.5h4.4l-2.2 4.4zM342.8 580.0h4.4l-2.2 4.4zM360.7 556.8h4.4l-2.2 4.4zM329.7 571.0h4.4l-2.2 4.4zM334.9 538.4h4.4l-2.2 4.4zM357.3 564.1h4.4l-2.2 4.4zM348.1 577.8h4.4l-2.2 4.4zM358.8 551.5h4.4l-2.2 4.4zM336.6 565.1h4.4l-2.2 4.4zM335.5 577.5h4.4l-2.2 4.4zM353.6 548.4h4.4l-2.2 4.4zM342.6 544.7h4.4l-2.2 4.4zM342.1 550.2h4.4l-2.2 4.4zM382.0 542.8h4.4l-2.2 4.4zM335.5 572.5h4.4l-2.2 4.4zM353.7 575.5h4.4l-2.2 4.4zM332.7 532.2h4.4l-2.2 4.4zM365.0 551.6h4.4l-2.2 4.4zM336.3 554.7h4.4l-2.2 4.4zM350.1 550.9h4.4l-2.2 4.4zM333.5 545.1h4.4l-2.2 4.4zM335.5 552.3h4.4l-2.2 4.4zM332.3 540.5h4.4l-2.2 4.4zM333.3 564.1h4.4l-2.2 4.4zM328.9 529.6h4.4l-2.2 4.4zM341.7 538.6h4.4l-2.2 4.4zM337.1 548.3h4.4l-2.2 4.4zM333.1 539.8h4.4l-2.2 4.4zM334.0 577.0h4.4l-2.2 4.4zM352.9 571.3h4.4l-2.2 4.4zM347.4 575.9h4.4l-2.2 4.4zM337.2 553.6h4.4l-2.2 4.4zM356.3 539.4h4.4l-2.2 4.4zM359.4 565.9h4.4l-2.2 4.4zM337.6 529.5h4.4l-2.2 4.4zM357.0 570.0h4.4l-2.2 4.4zM345.9 540.2h4.4l-2.2 4.4zM334.7 573.9h4.4l-2.2 4.4zM360.6 565.7h4.4l-2.2 4.4zM347.8 541.9h4.4l-2.2 4.4zM330.5 541.9h4.4l-2.2 4.4zM359.4 559.1h4.4l-2.2 4.4zM336.2 579.6h4.4l-2.2 4.4zM342.4 581.3h4.4l-2.2 4.4zM363.8 554.3h4.4l-2.2 4.4zM331.9 547.0h4.4l-2.2 4.4zM386.8 553.6h4.4l-2.2 4.4zM340.2 576.2h4.4l-2.2 4.4zM345.3 571.7h4.4l-2.2 4.4zM332.0 541.0h4.4l-2.2 4.4zM348.7 554.6h4.4l-2.2 4.4zM339.2 549.6h4.4l-2.2 4.4zM378.2 567.4h4.4l-2.2 4.4zM357.0 555.0h4.4l-2.2 4.4zM332.7 570.5h4.4l-2.2 4.4zM346.7 577.3h4.4l-2.2 4.4zM358.0 530.4h4.4l-2.2 4.4zM382.9 580.5h4.4l-2.2 4.4zM358.3 553.1h4.4l-2.2 4.4zM332.5 531.2h4.4l-2.2 4.4zM358.4 570.3h4.4l-2.2 4.4zM336.0 541.8h4.4l-2.2 4.4zM335.5 573.1h4.4l-2.2 4.4zM363.7 576.7h4.4l-2.2 4.4zM331.6 575.7h4.4l-2.2 4.4zM338.3 564.9h4.4l-2.2 4.4zM352.6 542.3h4.4l-2.2 4.4zM349.4 538.0h4.4l-2.2 4.4zM332.7 548.7h4.4l-2.2 4.4zM357.0 555.5h4.4l-2.2 4.4zM344.4 550.7h4.4l-2.2 4.4zM349.1 532.6h4.4l-2.2 4.4zM329.8 539.3h4.4l-2.2 4.4zM342.6 540.4h4.4l-2.2 4.4zM328.5 568.2h4.4l-2.2 4.4zM334.5 576.1h4.4l-2.2 4.4zM329.0 567.6h4.4l-2.2 4.4zM340.6 548.2h4.4l-2.2 4.4zM354.0 551.0h4.4l-2.2 4.4zM354.2 528.3h4.4l-2.2 4.4zM366.0 565.9h4.4l-2.2 4.4zM330.7 538.6h4.4l-2.2 4.4zM332.8 530.9h4.4l-2.2 4.4zM362.9 564.0h4.4l-2.2 4.4zM352.2 539.8h4.4l-2.2 4.4zM359.8 551.8h4.4l-2.2 4.4zM341.6 546.3h4.4l-2.2 4.4zM372.0 551.5h4.4l-2.2 4.4zM336.8 576.9h4.4l-2.2 4.4zM333.5 567.7h4.4l-2.2 4.4zM336.0 530.1h4.4l-2.2 4.4zM364.8 561.3h4.4l-2.2 4.4zM337.5 576.5h4.4l-2.2 4.4zM350.4 534.5h4.4l-2.2 4.4zM342.7 539.4h4.4l-2.2 4.4zM349.4 551.7h4.4l-2.2 4.4zM376.9 578.8h4.4l-2.2 4.4zM361.6 582.1h4.4l-2.2 4.4zM361.2 576.5h4.4l-2.2 4.4zM372.6 548.3h4.4l-2.2 4.4zM351.8 560.1h4.4l-2.2 4.4zM355.3 570.9h4.4l-2.2 4.4zM346.1 547.3h4.4l-2.2 4.4zM329.3 552.2h4.4l-2.2 4.4zM339.8 580.5h4.4l-2.2 4.4zM347.7 541.6h4.4l-2.2 4.4zM381.1 573.7h4.4l-2.2 4.4zM355.5 569.0h4.4l-2.2 4.4zM359.3 562.5h4.4l-2.2 4.4zM340.0 569.0h4.4l-2.2 4.4zM353.2 577.8h4.4l-2.2 4.4zM346.0 553.4h4.4l-2.2 4.4zM336.9 574.1h4.4l-2.2 4.4zM338.2 552.0h4.4l-2.2 4.4zM349.4 566.5h4.4l-2.2 4.4zM332.2 542.4h4.4l-2.2 4.4zM351.3 532.3h4.4l-2.2 4.4zM353.1 564.4h4.4l-2.2 4.4zM356.1 558.5h4.4l-2.2 4.4zM331.9 538.5h4.4l-2.2 4.4zM354.9 558.1h4.4l-2.2 4.4zM329.1 570.1h4.4l-2.2 4.4zM340.4 571.2h4.4l-2.2 4.4zM328.7 531.1h4.4l-2.2 4.4zM337.2 567.8h4.4l-2.2 4.4zM334.4 563.3h4.4l-2.2 4.4zM387.5 556.0h4.4l-2.2 4.4zM333.9 577.6h4.4l-2.2 4.4zM340.0 557.5h4.4l-2.2 4.4zM361.1 532.1h4.4l-2.2 4.4zM358.4 551.3h4.4l-2.2 4.4zM341.7 573.0h4.4l-2.2 4.4zM350.0 578.8h4.4l-2.2 4.4zM334.3 547.6h4.4l-2.2 4.4zM343.1 536.4h4.4l-2.2 4.4zM359.3 553.9h4.4l-2.2 4.4zM344.2 575.1h4.4l-2.2 4.4zM345.6 554.8h4.4l-2.2 4.4zM363.5 578.0h4.4l-2.2 4.4zM338.5 532.6h4.4l-2.2 4.4zM360.5 544.2h4.4l-2.2 4.4zM330.1 562.8h4.4l-2.2 4.4zM356.1 531.7h4.4l-2.2 4.4zM350.7 557.6h4.4l-2.2 4.4zM353.5 580.5h4.4l-2.2 4.4zM359.9 579.5h4.4l-2.2 4.4zM349.3 529.8h4.4l-2.2 4.4zM380.0 533.9h4.4l-2.2 4.4zM344.8 565.7h4.4l-2.2 4.4zM334.2 545.6h4.4l-2.2 4.4zM348.2 540.4h4.4l-2.2 4.4zM333.6 554.6h4.4l-2.2 4.4zM328.4 567.0h4.4l-2.2 4.4zM344.3 540.6h4.4l-2.2 4.4zM351.6 540.6h4.4l-2.2 4.4zM355.5 544.2h4.4l-2.2 4.4zM353.8 568.0h4.4l-2.2 4.4zM347.3 561.8h4.4l-2.2 4.4zM341.7 544.2h4.4l-2.2 4.4zM332.6 534.5h4.4l-2.2 4.4zM367.0 571.4h4.4l-2.2 4.4zM334.5 581.5h4.4l-2.2 4.4zM333.2 577.6h4.4l-2.2 4.4zM360.2 542.5h4.4l-2.2 4.4zM371.7 566.8h4.4l-2.2 4.4zM356.3 579.5h4.4l-2.2 4.4zM368.1 574.8h4.4l-2.2 4.4zM345.3 580.8h4.4l-2.2 4.4zM333.0 572.3h4.4l-2.2 4.4zM371.1 541.7h4.4l-2.2 4.4zM359.2 579.2h4.4l-2.2 4.4zM360.4 542.3h4.4l-2.2 4.4zM358.2 548.1h4.4l-2.2 4.4zM358.1 557.2h4.4l-2.2 4.4zM343.9 576.4h4.4l-2.2 4.4zM336.1 540.3h4.4l-2.2 4.4zM356.6 569.5h4.4l-2.2 4.4zM340.7 529.3h4.4l-2.2 4.4zM337.4 541.8h4.4l-2.2 4.4zM328.7 557.5h4.4l-2.2 4.4zM345.6 545.0h4.4l-2.2 4.4zM342.8 545.4h4.4l-2.2 4.4zM356.3 560.9h4.4l-2.2 4.4zM342.2 556.3h4.4l-2.2 4.4zM343.3 552.0h4.4l-2.2 4.4zM339.3 571.4h4.4l-2.2 4.4zM355.2 558.0h4.4l-2.2 4.4zM334.9 579.6h4.4l-2.2 4.4zM350.7 550.8h4.4l-2.2 4.4zM328.5 560.3h4.4l-2.2 4.4zM352.3 577.4h4.4l-2.2 4.4zM335.3 559.9h4.4l-2.2 4.4zM345.1 560.9h4.4l-2.2 4.4zM353.6 571.5h4.4l-2.2 4.4zM331.8 567.7h4.4l-2.2 4.4zM346.1 552.5h4.4l-2.2 4.4zM328.8 538.6h4.4l-2.2 4.4zM344.2 570.9h4.4l-2.2 4.4zM341.6 529.0h4.4l-2.2 4.4zM335.9 556.9h4.4l-2.2 4.4zM339.6 544.0h4.4l-2.2 4.4zM330.2 535.9h4.4l-2.2 4.4zM357.3 579.6h4.4l-2.2 4.4zM328.5 557.6h4.4l-2.2 4.4zM371.3 566.8h4.4l-2.2 4.4zM337.9 540.5h4.4l-2.2 4.4zM353.4 534.9h4.4l-2.2 4.4zM358.5 528.8h4.4l-2.2 4.4zM363.6 565.5h4.4l-2.2 4.4zM331.9 555.9h4.4l-2.2 4.4zM331.1 553.9h4.4l-2.2 4.4zM337.2 565.4h4.4l-2.2 4.4zM328.8 541.8h4.4l-2.2 4.4zM345.6 546.6h4.4l-2.2 4.4zM341.1 544.1h4.4l-2.2 4.4zM328.5 574.6h4.4l-2.2 4.4zM328.4 572.9h4.4l-2.2 4.4zM394.4 550.3h4.4l-2.2 4.4zM359.1 579.2h4.4l-2.2 4.4zM345.7 577.4h4.4l-2.2 4.4zM348.0 551.2h4.4l-2.2 4.4zM355.6 580.1h4.4l-2.2 4.4zM335.3 554.8h4.4l-2.2 4.4zM340.3 546.2h4.4l-2.2 4.4zM340.2 558.8h4.4l-2.2 4.4zM339.3 572.7h4.4l-2.2 4.4zM354.9 572.7h4.4l-2.2 4.4zM391.6 533.5h4.4l-2.2 4.4zM342.8 556.7h4.4l-2.2 4.4zM329.5 564.8h4.4l-2.2 4.4zM361.8 558.6h4.4l-2.2 4.4zM333.8 530.4h4.4l-2.2 4.4zM338.4 538.1h4.4l-2.2 4.4zM333.1 532.1h4.4l-2.2 4.4zM344.6 527.9h4.4l-2.2 4.4zM349.8 542.8h4.4l-2.2 4.4zM351.7 538.3h4.4l-2.2 4.4zM351.6 532.0h4.4l-2.2 4.4zM374.7 527.6h4.4l-2.2 4.4zM343.0 545.2h4.4l-2.2 4.4zM415.0 545.9h4.4l-2.2 4.4zM334.4 533.6h4.4l-2.2 4.4zM361.9 531.1h4.4l-2.2 4.4zM400.8 532.9h4.4l-2.2 4.4zM387.1 544.5h4.4l-2.2 4.4zM375.7 529.4h4.4l-2.2 4.4zM344.1 538.9h4.4l-2.2 4.4zM350.8 541.0h4.4l-2.2 4.4zM356.7 536.1h4.4l-2.2 4.4zM379.7 534.7h4.4l-2.2 4.4zM332.6 544.9h4.4l-2.2 4.4zM328.8 536.8h4.4l-2.2 4.4zM348.9 527.3h4.4l-2.2 4.4zM330.1 532.2h4.4l-2.2 4.4zM372.6 539.7h4.4l-2.2 4.4zM338.8 539.7h4.4l-2.2 4.4zM372.1 532.4h4.4l-2.2 4.4zM361.4 531.0h4.4l-2.2 4.4zM384.5 540.2h4.4l-2.2 4.4zM397.4 533.9h4.4l-2.2 4.4zM330.1 528.6h4.4l-2.2 4.4zM409.8 531.1h4.4l-2.2 4.4zM424.3 545.0h4.4l-2.2 4.4zM332.4 543.8h4.4l-2.2 4.4zM407.7 534.0h4.4l-2.2 4.4zM334.0 540.6h4.4l-2.2 4.4zM406.6 541.2h4.4l-2.2 4.4zM335.6 533.8h4.4l-2.2 4.4zM352.0 527.3h4.4l-2.2 4.4zM329.1 541.7h4.4l-2.2 4.4zM342.5 529.7h4.4l-2.2 4.4zM338.5 539.8h4.4l-2.2 4.4zM334.1 545.0h4.4l-2.2 4.4zM370.4 543.4h4.4l-2.2 4.4zM359.6 541.1h4.4l-2.2 4.4zM345.2 543.7h4.4l-2.2 4.4zM335.4 544.0h4.4l-2.2 4.4zM337.2 532.9h4.4l-2.2 4.4zM344.3 534.6h4.4l-2.2 4.4zM394.6 536.2h4.4l-2.2 4.4zM372.2 538.2h4.4l-2.2 4.4zM342.9 536.2h4.4l-2.2 4.4zM333.8 536.0h4.4l-2.2 4.4zM331.9 536.5h4.4l-2.2 4.4zM376.4 546.1h4.4l-2.2 4.4zM349.5 535.4h4.4l-2.2 4.4zM444.7 538.1h4.4l-2.2 4.4zM438.5 536.7h4.4l-2.2 4.4zM356.5 541.6h4.4l-2.2 4.4zM363.2 528.7h4.4l-2.2 4.4zM342.2 542.1h4.4l-2.2 4.4zM368.0 536.6h4.4l-2.2 4.4zM355.0 546.1h4.4l-2.2 4.4zM380.3 537.4h4.4l-2.2 4.4zM332.1 534.7h4.4l-2.2 4.4zM344.0 533.1h4.4l-2.2 4.4zM399.0 541.7h4.4l-2.2 4.4zM374.5 538.7h4.4l-2.2 4.4zM330.0 537.2h4.4l-2.2 4.4zM362.8 543.4h4.4l-2.2 4.4zM355.0 535.9h4.4l-2.2 4.4zM331.7 538.4h4.4l-2.2 4.4zM360.4 531.1h4.4l-2.2 4.4zM391.0 545.1h4.4l-2.2 4.4zM388.7 537.7h4.4l-2.2 4.4zM350.2 528.1h4.4l-2.2 4.4zM347.5 543.9h4.4l-2.2 4.4zM354.8 543.5h4.4l-2.2 4.4zM339.1 538.4h4.4l-2.2 4.4zM338.2 533.8h4.4l-2.2 4.4zM377.2 534.0h4.4l-2.2 4.4zM386.8 535.2h4.4l-2.2 4.4zM345.9 531.3h4.4l-2.2 4.4zM356.7 535.9h4.4l-2.2 4.4zM341.5 539.2h4.4l-2.2 4.4zM365.5 543.7h4.4l-2.2 4.4zM352.5 540.1h4.4l-2.2 4.4zM374.0 539.6h4.4l-2.2 4.4zM347.7 541.1h4.4l-2.2 4.4zM344.0 528.1h4.4l-2.2 4.4zM345.6 532.2h4.4l-2.2 4.4zM374.2 544.7h4.4l-2.2 4.4zM415.8 534.9h4.4l-2.2 4.4zM348.7 540.6h4.4l-2.2 4.4zM336.4 540.0h4.4l-2.2 4.4zM356.8 543.2h4.4l-2.2 4.4zM361.9 536.5h4.4l-2.2 4.4zM332.4 532.9h4.4l-2.2 4.4zM373.0 532.6h4.4l-2.2 4.4zM356.5 545.3h4.4l-2.2 4.4zM339.6 532.8h4.4l-2.2 4.4zM343.4 530.0h4.4l-2.2 4.4zM347.2 530.5h4.4l-2.2 4.4zM384.1 527.2h4.4l-2.2 4.4zM423.0 535.0h4.4l-2.2 4.4zM346.3 541.1h4.4l-2.2 4.4zM432.0 529.6h4.4l-2.2 4.4zM361.2 528.0h4.4l-2.2 4.4zM348.9 535.1h4.4l-2.2 4.4zM328.4 545.5h4.4l-2.2 4.4zM350.9 538.9h4.4l-2.2 4.4zM400.3 542.7h4.4l-2.2 4.4zM336.4 533.4h4.4l-2.2 4.4zM375.9 530.2h4.4l-2.2 4.4zM337.5 527.7h4.4l-2.2 4.4zM356.6 540.9h4.4l-2.2 4.4zM362.9 544.7h4.4l-2.2 4.4zM370.2 540.4h4.4l-2.2 4.4zM394.3 532.0h4.4l-2.2 4.4zM351.1 529.6h4.4l-2.2 4.4zM369.0 536.9h4.4l-2.2 4.4zM352.0 545.5h4.4l-2.2 4.4zM348.9 541.3h4.4l-2.2 4.4zM405.3 530.6h4.4l-2.2 4.4zM363.0 528.4h4.4l-2.2 4.4zM373.2 539.5h4.4l-2.2 4.4zM363.5 530.0h4.4l-2.2 4.4zM345.3 531.5h4.4l-2.2 4.4zM363.1 537.6h4.4l-2.2 4.4zM340.5 538.3h4.4l-2.2 4.4zM372.4 531.7h4.4l-2.2 4.4zM331.7 543.7h4.4l-2.2 4.4zM365.9 542.9h4.4l-2.2 4.4zM367.0 542.6h4.4l-2.2 4.4zM366.5 540.8h4.4l-2.2 4.4zM335.3 530.7h4.4l-2.2 4.4zM379.9 531.1h4.4l-2.2 4.4zM334.2 542.7h4.4l-2.2 4.4zM367.2 545.5h4.4l-2.2 4.4zM369.8 528.0h4.4l-2.2 4.4zM346.8 529.9h4.4l-2.2 4.4zM379.2 545.4h4.4l-2.2 4.4zM335.7 541.3h4.4l-2.2 4.4zM344.9 539.0h4.4l-2.2 4.4zM337.7 546.1h4.4l-2.2 4.4zM350.7 540.7h4.4l-2.2 4.4zM328.0 533.0h4.4l-2.2 4.4zM349.7 534.1h4.4l-2.2 4.4zM385.7 535.7h4.4l-2.2 4.4zM366.1 545.5h4.4l-2.2 4.4zM348.8 535.6h4.4l-2.2 4.4zM345.0 536.5h4.4l-2.2 4.4zM348.0 534.7h4.4l-2.2 4.4zM339.3 530.9h4.4l-2.2 4.4zM364.0 546.0h4.4l-2.2 4.4zM406.9 528.0h4.4l-2.2 4.4zM349.2 531.4h4.4l-2.2 4.4zM357.1 538.2h4.4l-2.2 4.4zM343.1 539.7h4.4l-2.2 4.4zM340.1 538.6h4.4l-2.2 4.4zM329.3 536.3h4.4l-2.2 4.4zM441.6 530.9h4.4l-2.2 4.4zM375.0 537.6h4.4l-2.2 4.4zM426.8 545.9h4.4l-2.2 4.4zM410.6 539.1h4.4l-2.2 4.4zM336.3 527.8h4.4l-2.2 4.4zM363.6 540.3h4.4l-2.2 4.4zM353.0 543.0h4.4l-2.2 4.4zM380.7 536.7h4.4l-2.2 4.4zM387.8 542.8h4.4l-2.2 4.4zM330.5 532.7h4.4l-2.2 4.4zM409.1 545.0h4.4l-2.2 4.4zM392.9 530.6h4.4l-2.2 4.4zM401.6 527.6h4.4l-2.2 4.4zM337.7 529.5h4.4l-2.2 4.4zM339.8 534.2h4.4l-2.2 4.4zM334.5 539.4h4.4l-2.2 4.4zM421.6 544.5h4.4l-2.2 4.4zM376.6 540.4h4.4l-2.2 4.4zM368.3 531.4h4.4l-2.2 4.4zM345.5 543.8h4.4l-2.2 4.4zM354.6 542.8h4.4l-2.2 4.4zM365.8 529.7h4.4l-2.2 4.4zM428.7 538.6h4.4l-2.2 4.4zM363.1 535.3h4.4l-2.2 4.4zM361.9 546.2h4.4l-2.2 4.4zM333.3 535.2h4.4l-2.2 4.4zM342.1 528.4h4.4l-2.2 4.4zM382.7 527.7h4.4l-2.2 4.4zM358.5 542.6h4.4l-2.2 4.4zM388.6 534.1h4.4l-2.2 4.4zM354.7 537.2h4.4l-2.2 4.4zM410.7 529.3h4.4l-2.2 4.4zM369.4 539.4h4.4l-2.2 4.4zM337.5 545.8h4.4l-2.2 4.4zM395.1 539.5h4.4l-2.2 4.4zM331.6 530.4h4.4l-2.2 4.4zM391.1 543.8h4.4l-2.2 4.4zM330.4 545.8h4.4l-2.2 4.4zM347.3 536.1h4.4l-2.2 4.4zM362.3 538.4h4.4l-2.2 4.4zM371.5 521.8h4.4l-2.2 4.4zM350.9 513.7h4.4l-2.2 4.4zM344.5 524.2h4.4l-2.2 4.4zM375.3 514.1h4.4l-2.2 4.4zM350.5 508.0h4.4l-2.2 4.4zM339.5 508.9h4.4l-2.2 4.4zM337.4 525.8h4.4l-2.2 4.4zM376.9 525.4h4.4l-2.2 4.4zM349.9 525.7h4.4l-2.2 4.4zM381.5 501.5h4.4l-2.2 4.4zM358.7 525.5h4.4l-2.2 4.4zM363.4 523.0h4.4l-2.2 4.4zM388.9 526.0h4.4l-2.2 4.4zM329.6 524.7h4.4l-2.2 4.4zM357.8 510.8h4.4l-2.2 4.4zM377.5 519.9h4.4l-2.2 4.4zM346.8 522.9h4.4l-2.2 4.4zM333.0 512.7h4.4l-2.2 4.4zM331.9 522.5h4.4l-2.2 4.4zM351.3 524.4h4.4l-2.2 4.4zM381.7 525.7h4.4l-2.2 4.4zM336.0 516.1h4.4l-2.2 4.4zM357.7 521.4h4.4l-2.2 4.4zM389.5 501.8h4.4l-2.2 4.4zM345.3 509.8h4.4l-2.2 4.4zM348.4 524.0h4.4l-2.2 4.4zM368.3 513.6h4.4l-2.2 4.4zM330.5 523.1h4.4l-2.2 4.4zM372.5 519.8h4.4l-2.2 4.4zM349.1 518.9h4.4l-2.2 4.4zM356.1 522.6h4.4l-2.2 4.4zM346.5 516.3h4.4l-2.2 4.4zM348.6 517.4h4.4l-2.2 4.4zM339.9 522.7h4.4l-2.2 4.4zM137.7 541.6h4.4l-2.2 4.4zM157.6 542.8h4.4l-2.2 4.4zM179.9 545.2h4.4l-2.2 4.4zM194.8 515.5h4.4l-2.2 4.4zM178.7 572.1h4.4l-2.2 4.4zM193.6 575.1h4.4l-2.2 4.4zM198.5 576.2h4.4l-2.2 4.4zM194.8 585.0h4.4l-2.2 4.4zM217.1 525.5h4.4l-2.2 4.4zM250.6 501.6h4.4l-2.2 4.4zM263.8 501.6h4.4l-2.2 4.4zM276.6 507.4h4.4l-2.2 4.4zM227.0 516.2h4.4l-2.2 4.4zM244.5 515.2h4.4l-2.2 4.4zM332.0 501.8h4.4l-2.2 4.4zM347.8 501.8h4.4l-2.2 4.4zM361.8 501.8h4.4l-2.2 4.4zM407.3 501.8h4.4l-2.2 4.4zM338.8 506.2h4.4l-2.2 4.4zM368.8 506.7h4.4l-2.2 4.4zM388.0 507.2h4.4l-2.2 4.4zM376.6 513.2h4.4l-2.2 4.4zM406.7 502.0h4.4l-2.2 4.4zM442.6 502.0h4.4l-2.2 4.4zM388.3 507.2h4.4l-2.2 4.4zM489.2 536.9h4.4l-2.2 4.4zM464.8 540.8h4.4l-2.2 4.4zM471.8 548.2h4.4l-2.2 4.4zM481.6 562.7h4.4l-2.2 4.4zM500.1 554.4h4.4l-2.2 4.4zM507.8 556.7h4.4l-2.2 4.4zM450.8 547.2h4.4l-2.2 4.4zM455.8 551.2h4.4l-2.2 4.4zM443.8 542.2h4.4l-2.2 4.4zM437.8 551.2h4.4l-2.2 4.4zM417.8 546.2h4.4l-2.2 4.4zM427.8 538.2h4.4l-2.2 4.4zM449.8 571.2h4.4l-2.2 4.4zM469.8 564.2h4.4l-2.2 4.4z" stroke="#ee0000" stroke-width="0.85" fill="none"/>
<path d="M74.4 586 H546" stroke="#333" stroke-width="2" stroke-dasharray="7.4 3.8" fill="none"/>
<text x="181.4" y="530.1" font-size="11" fill="#111" textLength="30.9" lengthAdjust="spacingAndGlyphs" stroke="#111" stroke-width="0.3" opacity="0.88">Spaf2</text>
<text x="190.7" y="541.7" font-size="11" fill="#111" textLength="56.6" lengthAdjust="spacingAndGlyphs" stroke="#111" stroke-width="0.3" opacity="0.88">Hsd17b13</text>
<text x="141.1" y="557.8" font-size="11" fill="#111" textLength="38.8" lengthAdjust="spacingAndGlyphs" stroke="#111" stroke-width="0.3" opacity="0.88">Clec3a</text>
<text x="196.8" y="558.7" font-size="11" fill="#111" textLength="30.7" lengthAdjust="spacingAndGlyphs" stroke="#111" stroke-width="0.3" opacity="0.88">Fezf2</text>
<text x="199.4" y="573.6" font-size="11" fill="#111" textLength="34.8" lengthAdjust="spacingAndGlyphs" stroke="#111" stroke-width="0.3" opacity="0.88">Rgs13</text>
<text x="162.6" y="585.0" font-size="11" fill="#111" textLength="34.8" lengthAdjust="spacingAndGlyphs" stroke="#111" stroke-width="0.3" opacity="0.88">Mgam</text>
<text x="231.1" y="581.7" font-size="11" fill="#111" textLength="8.6" lengthAdjust="spacingAndGlyphs" stroke="#111" stroke-width="0.3" opacity="0.88">Sl</text>
<text x="229.6" y="516.0" font-size="11" fill="#111" textLength="45.9" lengthAdjust="spacingAndGlyphs" stroke="#111" stroke-width="0.3" opacity="0.88">Dnajb13</text>
<text x="247.1" y="529.7" font-size="11" fill="#111" textLength="26.9" lengthAdjust="spacingAndGlyphs" stroke="#111" stroke-width="0.3" opacity="0.88">Gypc</text>
<text x="264.7" y="539.6" font-size="11" fill="#111" textLength="21.6" lengthAdjust="spacingAndGlyphs" stroke="#111" stroke-width="0.3" opacity="0.88">Psd</text>
<text x="250.1" y="554.2" font-size="11" fill="#111" textLength="36.2" lengthAdjust="spacingAndGlyphs" stroke="#111" stroke-width="0.3" opacity="0.88">Abhd15</text>
<text x="231.1" y="562.3" font-size="11" fill="#111" textLength="95.2" lengthAdjust="spacingAndGlyphs" stroke="#111" stroke-width="0.3" opacity="0.88">AABR07061333.1</text>
<text x="262.5" y="570.3" font-size="11" fill="#111" textLength="31.2" lengthAdjust="spacingAndGlyphs" stroke="#111" stroke-width="0.3" opacity="0.88">Pnma1</text>
<text x="258.1" y="579.3" font-size="11" fill="#111" textLength="30.5" lengthAdjust="spacingAndGlyphs" stroke="#111" stroke-width="0.3" opacity="0.88">Grm6</text>
<text x="266.6" y="589.0" font-size="11" fill="#111" textLength="42.6" lengthAdjust="spacingAndGlyphs" stroke="#111" stroke-width="0.3" opacity="0.88">Vamstr</text>
<text x="317.9" y="516.0" font-size="11" fill="#111" textLength="34.2" lengthAdjust="spacingAndGlyphs" stroke="#111" stroke-width="0.3" opacity="0.88">Dgat2</text>
<text x="352.3" y="516.0" font-size="11" fill="#111" textLength="23.2" lengthAdjust="spacingAndGlyphs" stroke="#111" stroke-width="0.3" opacity="0.88">Lgi2</text>
<text x="336.9" y="529.7" font-size="11" fill="#111" textLength="16.0" lengthAdjust="spacingAndGlyphs" stroke="#111" stroke-width="0.3" opacity="0.88">Alk</text>
<text x="366.9" y="528.7" font-size="11" fill="#111" textLength="21.7" lengthAdjust="spacingAndGlyphs" stroke="#111" stroke-width="0.3" opacity="0.88">Patj</text>
<text x="328.9" y="541.1" font-size="11" fill="#111" textLength="29.8" lengthAdjust="spacingAndGlyphs" stroke="#111" stroke-width="0.3" opacity="0.88">Zfp57</text>
<text x="368.3" y="541.0" font-size="11" fill="#111" textLength="25.4" lengthAdjust="spacingAndGlyphs" stroke="#111" stroke-width="0.3" opacity="0.88">Rarb</text>
<text x="316.5" y="552.8" font-size="11" fill="#111" textLength="21.8" lengthAdjust="spacingAndGlyphs" stroke="#111" stroke-width="0.3" opacity="0.88">Mest</text>
<text x="357.4" y="552.8" font-size="11" fill="#111" textLength="23.9" lengthAdjust="spacingAndGlyphs" stroke="#111" stroke-width="0.3" opacity="0.88">Ubx6</text>
<text x="328.9" y="563.7" font-size="11" fill="#111" textLength="25.4" lengthAdjust="spacingAndGlyphs" stroke="#111" stroke-width="0.3" opacity="0.88">Plk4</text>
<text x="363.9" y="563.7" font-size="11" fill="#111" textLength="17.4" lengthAdjust="spacingAndGlyphs" stroke="#111" stroke-width="0.3" opacity="0.88">Sla</text>
<text x="331.7" y="571.0" font-size="11" fill="#111" textLength="27.0" lengthAdjust="spacingAndGlyphs" stroke="#111" stroke-width="0.3" opacity="0.88">Sgk3</text>
<text x="314.3" y="579.0" font-size="11" fill="#111" textLength="44.4" lengthAdjust="spacingAndGlyphs" stroke="#111" stroke-width="0.3" opacity="0.88">Sec16b</text>
<text x="361.7" y="579.0" font-size="11" fill="#111" textLength="29.1" lengthAdjust="spacingAndGlyphs" stroke="#111" stroke-width="0.3" opacity="0.88">Pmch</text>
<text x="347.9" y="587.0" font-size="11" fill="#111" textLength="15.2" lengthAdjust="spacingAndGlyphs" stroke="#111" stroke-width="0.3" opacity="0.88">Irf4</text>
<text x="393.7" y="515.7" font-size="11" fill="#111" textLength="32.1" lengthAdjust="spacingAndGlyphs" stroke="#111" stroke-width="0.3" opacity="0.88">Npsr1</text>
<text x="430.9" y="515.7" font-size="11" fill="#111" textLength="26.5" lengthAdjust="spacingAndGlyphs" stroke="#111" stroke-width="0.3" opacity="0.88">Itga2</text>
<text x="402.5" y="542.7" font-size="11" fill="#111" textLength="29.5" lengthAdjust="spacingAndGlyphs" stroke="#111" stroke-width="0.3" opacity="0.88">Edel1</text>
<text x="398.1" y="554.6" font-size="11" fill="#111" textLength="36.5" lengthAdjust="spacingAndGlyphs" stroke="#111" stroke-width="0.3" opacity="0.88">Slc5a7</text>
<text x="402.5" y="564.2" font-size="11" fill="#666" textLength="26.0" lengthAdjust="spacingAndGlyphs" stroke="#666" stroke-width="0.3" opacity="0.88">Lrp1</text>
<text x="441.9" y="559.0" font-size="11" fill="#111" textLength="31.3" lengthAdjust="spacingAndGlyphs" stroke="#111" stroke-width="0.3" opacity="0.88">Ndst4</text>
<text x="398.1" y="577.3" font-size="11" fill="#111" textLength="41.8" lengthAdjust="spacingAndGlyphs" stroke="#111" stroke-width="0.3" opacity="0.88">Cyp2a1</text>
<text x="444.5" y="580.0" font-size="11" fill="#111" textLength="27.8" lengthAdjust="spacingAndGlyphs" stroke="#111" stroke-width="0.3" opacity="0.88">Ntrk1</text>
<text x="491.1" y="569.6" font-size="11" fill="#111" textLength="23.5" lengthAdjust="spacingAndGlyphs" stroke="#111" stroke-width="0.3" opacity="0.88">Six3</text>
<path d="M74 474 V676.9 M73 676 H546" stroke="#222" stroke-width="1.8" fill="none"/>
<path d="M67.4 665.9H74M67.4 604.6H74M67.4 543.3H74M67.4 482.0H74M187.6 676V681.5M310.0 676V681.5M432.4 676V681.5" stroke="#222" stroke-width="1.8" fill="none"/>
<text x="62.3" y="673.2" font-size="18" fill="#333" text-anchor="end" >0</text>
<text x="62.3" y="611.9" font-size="18" fill="#333" text-anchor="end" >1</text>
<text x="62.3" y="550.6" font-size="18" fill="#333" text-anchor="end" >2</text>
<text x="62.3" y="489.3" font-size="18" fill="#333" text-anchor="end" >3</text>
<text x="187.6" y="700.9" font-size="18" fill="#444" text-anchor="middle" >-4</text>
<text x="310.0" y="700.9" font-size="18" fill="#444" text-anchor="middle" >0</text>
<text x="432.4" y="700.9" font-size="18" fill="#444" text-anchor="middle" >4</text>
<text transform="translate(38.0 610.2) rotate(-90)" font-size="18" fill="#111" >&#8722;</text>
<text transform="translate(35.7 596.6) rotate(-90)" font-size="18" fill="#111" textLength="26.2" lengthAdjust="spacingAndGlyphs">Log</text>
<text transform="translate(39.9 563.7) rotate(-90)" font-size="12" fill="#111" textLength="12.2" lengthAdjust="spacingAndGlyphs">10</text>
<text transform="translate(35.7 547.6) rotate(-90)" font-size="18" fill="#111" font-style="italic" stroke="#111" stroke-width="0.7" textLength="12.6" lengthAdjust="spacingAndGlyphs">P</text>
<text transform="translate(227.6 731.5) scale(1.068 1)" font-size="19.5" font-weight="bold" fill="#111">Log<tspan font-size="13.5" dy="5">2</tspan><tspan dy="-5"> fold change</tspan></text>
<text x="399.2" y="756.9" font-size="16.5" font-weight="bold" fill="#111" textLength="193.0" lengthAdjust="spacingAndGlyphs" >total = 15408 variables</text>
<circle cx="593" cy="558.1" r="2.4" fill="none" stroke="#444" stroke-width="1"/>
<path d="M590.3 570.3l5.4 5.4m0 -5.4l-5.4 5.4" stroke="#228b22" stroke-width="1" fill="none"/>
<path d="M593 584.5 L596 587.5 L593 590.5 L590 587.5 Z" fill="none" stroke="#4169e1" stroke-width="1"/>
<path d="M590.4 600.9h5.2l-2.6 5.2z" fill="none" stroke="#ee0000" stroke-width="1"/>
<text x="603.6" y="562.2" font-size="11.5" fill="#111" textLength="16.2" lengthAdjust="spacingAndGlyphs" >NS</text>
<text transform="translate(604.0 576.8) scale(1.065 1)" font-size="11.5" fill="#111">Log<tspan font-size="8" dy="3">2</tspan><tspan dy="-3">FC&lt;0.8</tspan></text>
<text x="604.4" y="590.6" font-size="11.5" fill="#111" textLength="73.0" lengthAdjust="spacingAndGlyphs" >p.value &lt;0.05</text>
<clipPath id="lc"><rect x="679.6" y="580" width="3.6" height="14"/></clipPath>
<text x="679.4" y="590.6" font-size="11.5" fill="#222" clip-path="url(#lc)">&amp;</text>
<text x="607.4" y="606.7" font-size="11.5" fill="#111" textLength="24.2" lengthAdjust="spacingAndGlyphs" >Both</text>
</svg>
</body></html>
